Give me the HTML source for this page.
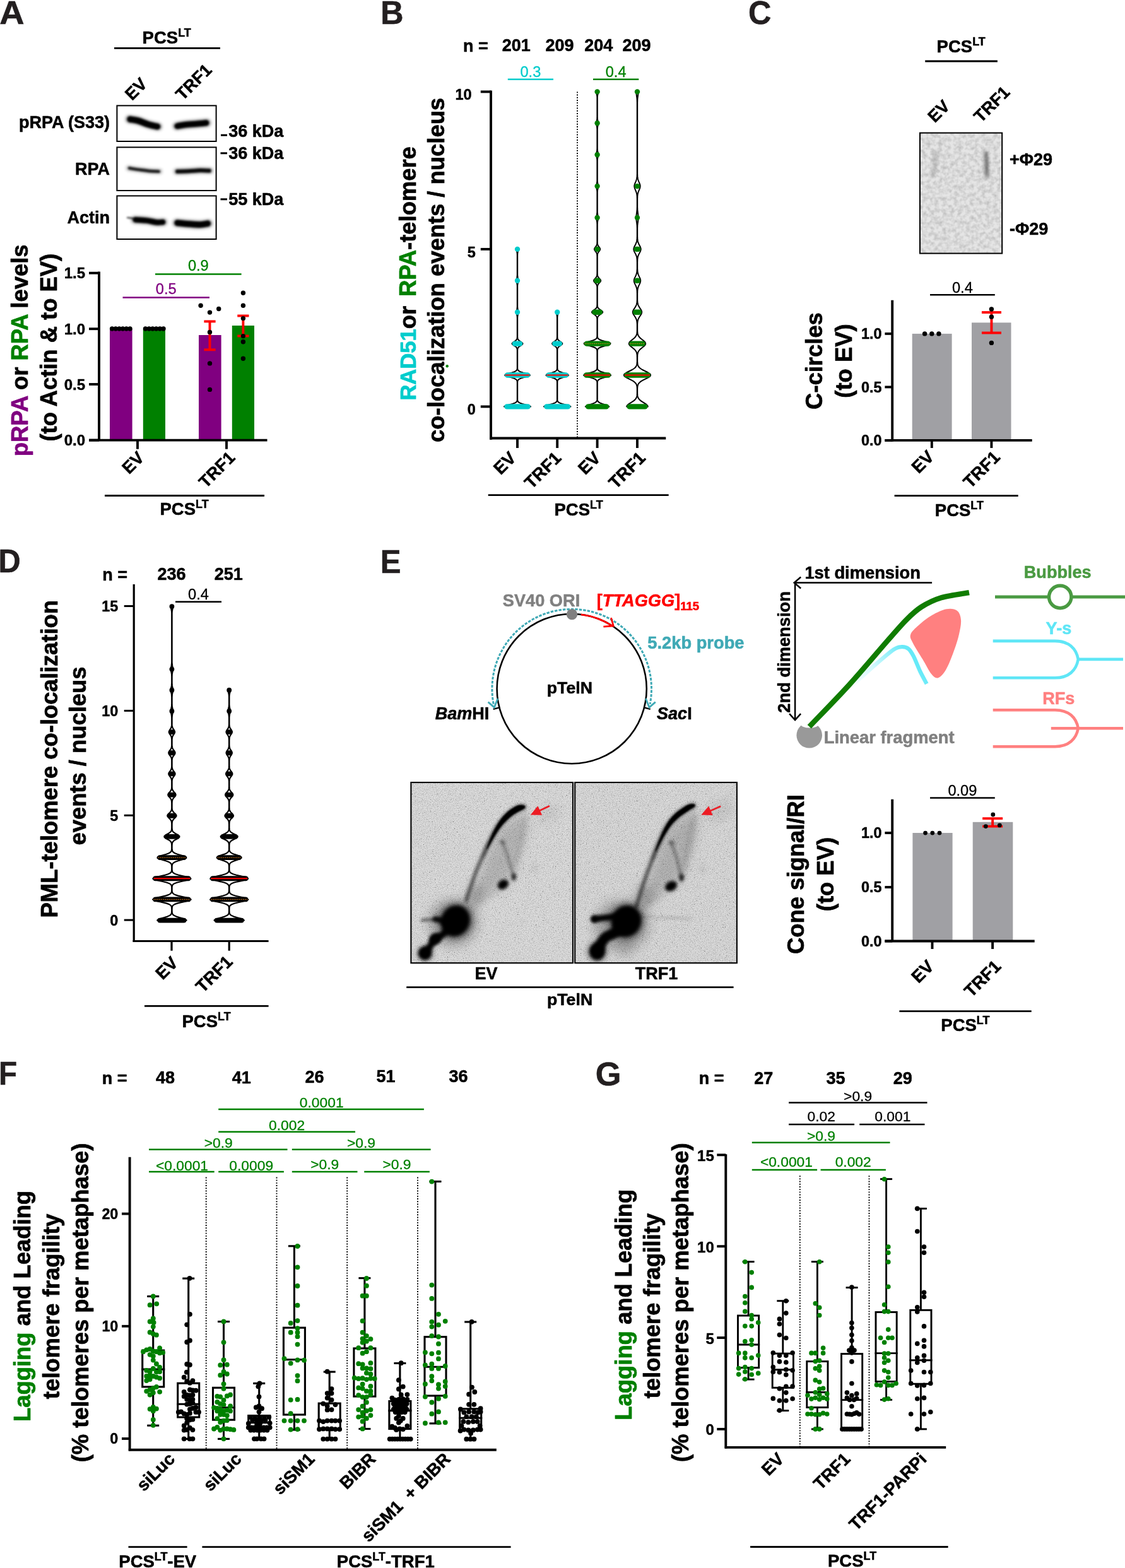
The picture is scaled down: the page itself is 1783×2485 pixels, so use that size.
<!DOCTYPE html>
<html lang="en"><head><meta charset="utf-8"><title>Figure</title>
<style>
html,body{margin:0;padding:0;background:#fff}
svg{display:block}
</style></head><body>
<svg width="1783" height="2485" viewBox="0 0 1783 2485" font-family="'Liberation Sans', sans-serif" font-weight="bold">
<g id="panelA">
<text transform="translate(-0.77 38.20) scale(1.061 1)" font-size="51.3" fill="#231f20" stroke="#231f20" stroke-width="0.6">A</text>
<text x="225.60" y="69.20" font-size="27.5" stroke="#000" stroke-width="0.55" stroke-linejoin="round">PCS<tspan font-size="17.875" dy="-11">LT</tspan></text>
<line x1="181.00" y1="76.40" x2="349.00" y2="76.40" stroke="#000" stroke-width="2.8"/>
<text transform="translate(209.20 160.20) rotate(-45)" font-size="27" stroke="#000" stroke-width="0.54" stroke-linejoin="round">EV</text>
<text transform="translate(289.60 160.30) rotate(-45)" font-size="27" stroke="#000" stroke-width="0.54" stroke-linejoin="round">TRF1</text>
<rect x="185.40" y="167.40" width="157.20" height="56.60" fill="#fff" stroke="#000" stroke-width="2"/>
<rect x="185.40" y="233.40" width="157.20" height="68.60" fill="#fff" stroke="#000" stroke-width="2"/>
<rect x="185.40" y="310.40" width="157.20" height="68.60" fill="#fff" stroke="#000" stroke-width="2"/>
<text x="174.00" y="203.00" font-size="27" text-anchor="end" stroke="#000" stroke-width="0.54" stroke-linejoin="round">pRPA (S33)</text>
<text x="174.00" y="277.00" font-size="27" text-anchor="end" stroke="#000" stroke-width="0.54" stroke-linejoin="round">RPA</text>
<text x="174.00" y="353.50" font-size="27" text-anchor="end" stroke="#000" stroke-width="0.54" stroke-linejoin="round">Actin</text>
<rect x="350.00" y="212.70" width="10.00" height="3.00" fill="#000"/>
<text x="362.30" y="216.50" font-size="27" stroke="#000" stroke-width="0.54" stroke-linejoin="round">36 kDa</text>
<rect x="349.50" y="241.30" width="10.50" height="3.00" fill="#000"/>
<text x="362.30" y="252.00" font-size="27" stroke="#000" stroke-width="0.54" stroke-linejoin="round">36 kDa</text>
<rect x="349.50" y="314.30" width="10.50" height="3.00" fill="#000"/>
<text x="362.30" y="325.00" font-size="27" stroke="#000" stroke-width="0.54" stroke-linejoin="round">55 kDa</text>
<rect x="174.00" y="521.20" width="35.60" height="176.40" fill="#800080"/>
<rect x="226.80" y="521.20" width="35.20" height="176.40" fill="#008000"/>
<rect x="315.00" y="531.00" width="35.60" height="166.60" fill="#800080"/>
<rect x="367.80" y="516.00" width="35.20" height="181.60" fill="#008000"/>
<line x1="157.00" y1="430.50" x2="157.00" y2="699.10" stroke="#000" stroke-width="3.9"/>
<line x1="141.00" y1="697.60" x2="423.50" y2="697.60" stroke="#000" stroke-width="3.9"/>
<line x1="141.00" y1="432.70" x2="157.00" y2="432.70" stroke="#000" stroke-width="3.9"/>
<text x="135.00" y="441.20" font-size="24" text-anchor="end" stroke="#000" stroke-width="0.48" stroke-linejoin="round">1.5</text>
<line x1="141.00" y1="521.20" x2="157.00" y2="521.20" stroke="#000" stroke-width="3.9"/>
<text x="135.00" y="529.70" font-size="24" text-anchor="end" stroke="#000" stroke-width="0.48" stroke-linejoin="round">1.0</text>
<line x1="141.00" y1="609.00" x2="157.00" y2="609.00" stroke="#000" stroke-width="3.9"/>
<text x="135.00" y="617.50" font-size="24" text-anchor="end" stroke="#000" stroke-width="0.48" stroke-linejoin="round">0.5</text>
<line x1="141.00" y1="697.60" x2="157.00" y2="697.60" stroke="#000" stroke-width="3.9"/>
<text x="135.00" y="706.10" font-size="24" text-anchor="end" stroke="#000" stroke-width="0.48" stroke-linejoin="round">0.0</text>
<line x1="218.00" y1="697.60" x2="218.00" y2="711.70" stroke="#000" stroke-width="3.9"/>
<line x1="359.00" y1="697.60" x2="359.00" y2="711.70" stroke="#000" stroke-width="3.9"/>
<text transform="translate(230.00 727.00) rotate(-45)" font-size="27" text-anchor="end" stroke="#000" stroke-width="0.54" stroke-linejoin="round">EV</text>
<text transform="translate(374.00 727.00) rotate(-45)" font-size="27" text-anchor="end" stroke="#000" stroke-width="0.54" stroke-linejoin="round">TRF1</text>
<line x1="166.00" y1="785.50" x2="419.00" y2="785.50" stroke="#000" stroke-width="2.8"/>
<text x="253.50" y="816.00" font-size="27.5" stroke="#000" stroke-width="0.55" stroke-linejoin="round">PCS<tspan font-size="17.875" dy="-11">LT</tspan></text>
<text transform="translate(43.60 555.30) rotate(-90)" font-size="36.4" text-anchor="middle" stroke="#000" stroke-width="0.73" stroke-linejoin="round"><tspan fill="#800080" stroke="#800080">pRPA</tspan> or <tspan fill="#008000" stroke="#008000">RPA</tspan> levels</text>
<text transform="translate(89.50 550.70) rotate(-90)" font-size="36.4" text-anchor="middle" stroke="#000" stroke-width="0.73" stroke-linejoin="round"><tspan>(to Actin &amp; to EV)</tspan></text>
<line x1="246.00" y1="434.50" x2="382.60" y2="434.50" stroke="#008000" stroke-width="2.5"/>
<text x="314.30" y="429.20" font-size="23.6" text-anchor="middle" font-weight="normal" fill="#008000" stroke="#008000" stroke-width="0.3">0.9</text>
<line x1="194.50" y1="471.60" x2="332.00" y2="471.60" stroke="#800080" stroke-width="2.5"/>
<text x="263.25" y="466.10" font-size="23.6" text-anchor="middle" font-weight="normal" fill="#800080" stroke="#800080" stroke-width="0.3">0.5</text>
<line x1="332.51" y1="509.41" x2="332.51" y2="554.27" stroke="#ff0000" stroke-width="3.9"/>
<line x1="323.41" y1="509.41" x2="341.61" y2="509.41" stroke="#ff0000" stroke-width="3.9"/>
<line x1="323.41" y1="554.27" x2="341.61" y2="554.27" stroke="#ff0000" stroke-width="3.9"/>
<line x1="385.37" y1="500.49" x2="385.37" y2="532.45" stroke="#ff0000" stroke-width="3.9"/>
<line x1="376.27" y1="500.49" x2="394.47" y2="500.49" stroke="#ff0000" stroke-width="3.9"/>
<line x1="376.27" y1="532.45" x2="394.47" y2="532.45" stroke="#ff0000" stroke-width="3.9"/>
<g fill="#000"><circle cx="177.6" cy="521.0" r="3.7"/><circle cx="183.3" cy="521.0" r="3.7"/><circle cx="189.0" cy="521.0" r="3.7"/><circle cx="194.6" cy="521.0" r="3.7"/><circle cx="200.3" cy="521.0" r="3.7"/><circle cx="206.0" cy="521.0" r="3.7"/><circle cx="230.5" cy="521.0" r="3.7"/><circle cx="236.2" cy="521.0" r="3.7"/><circle cx="241.9" cy="521.0" r="3.7"/><circle cx="247.6" cy="521.0" r="3.7"/><circle cx="253.3" cy="521.0" r="3.7"/><circle cx="259.0" cy="521.0" r="3.7"/><circle cx="318.1" cy="484.3" r="3.7"/><circle cx="332.5" cy="495.1" r="3.7"/><circle cx="346.7" cy="489.5" r="3.7"/><circle cx="332.5" cy="526.4" r="3.7"/><circle cx="332.5" cy="575.9" r="3.7"/><circle cx="332.5" cy="617.4" r="3.7"/><circle cx="385.4" cy="464.3" r="3.7"/><circle cx="385.4" cy="484.3" r="3.7"/><circle cx="385.4" cy="504.6" r="3.7"/><circle cx="385.4" cy="532.6" r="3.7"/><circle cx="385.4" cy="541.8" r="3.7"/><circle cx="385.4" cy="568.2" r="3.7"/></g>
</g>
<g id="panelB">
<text transform="translate(603.15 38.20) scale(0.979 1)" font-size="51.3" fill="#231f20" stroke="#231f20" stroke-width="0.6">B</text>
<text x="734.00" y="81.50" font-size="27" stroke="#000" stroke-width="0.54" stroke-linejoin="round">n =</text>
<text x="818.30" y="81.00" font-size="27" text-anchor="middle" stroke="#000" stroke-width="0.54" stroke-linejoin="round">201</text>
<text x="887.00" y="81.00" font-size="27" text-anchor="middle" stroke="#000" stroke-width="0.54" stroke-linejoin="round">209</text>
<text x="948.80" y="81.00" font-size="27" text-anchor="middle" stroke="#000" stroke-width="0.54" stroke-linejoin="round">204</text>
<text x="1009.00" y="81.00" font-size="27" text-anchor="middle" stroke="#000" stroke-width="0.54" stroke-linejoin="round">209</text>
<line x1="804.80" y1="125.80" x2="877.00" y2="125.80" stroke="#00cccc" stroke-width="2.5"/>
<text x="840.90" y="121.80" font-size="23.6" text-anchor="middle" font-weight="normal" fill="#00cccc" stroke="#00cccc" stroke-width="0.3">0.3</text>
<line x1="940.00" y1="125.80" x2="1012.30" y2="125.80" stroke="#008000" stroke-width="2.5"/>
<text x="976.15" y="121.80" font-size="23.6" text-anchor="middle" font-weight="normal" fill="#008000" stroke="#008000" stroke-width="0.3">0.4</text>
<line x1="915.00" y1="145.40" x2="915.00" y2="693.00" stroke="#000" stroke-width="1.9" stroke-dasharray="1.9 2.3"/>
<path d="M818.3 394.9 L818.5 396.4 L818.9 397.9 L819.3 399.4 L819.6 400.9 L819.7 402.4 L819.8 403.9 L819.8 405.4 L819.8 406.9 L819.8 408.3 L819.8 409.8 L819.8 411.3 L819.8 412.8 L819.8 414.3 L819.8 415.8 L819.8 417.3 L819.8 418.8 L819.8 420.3 L819.8 421.8 L819.8 423.3 L819.8 424.8 L819.8 426.3 L819.8 427.8 L819.8 429.3 L819.8 430.8 L819.8 432.3 L819.8 433.7 L819.8 435.2 L819.7 436.7 L819.6 438.2 L819.4 439.7 L819.0 441.2 L818.6 442.7 L818.3 444.2 L818.4 445.7 L818.7 447.2 L819.1 448.7 L819.5 450.2 L819.7 451.7 L819.8 453.2 L819.8 454.7 L819.8 456.2 L819.8 457.6 L819.8 459.1 L819.8 460.6 L819.8 462.1 L819.8 463.6 L819.8 465.1 L819.8 466.6 L819.8 468.1 L819.8 469.6 L819.8 471.1 L819.8 472.6 L819.8 474.1 L819.8 475.6 L819.8 477.1 L819.8 478.6 L819.8 480.1 L819.8 481.6 L819.8 483.0 L819.8 484.5 L819.8 486.0 L819.7 487.5 L819.5 489.0 L819.2 490.5 L818.8 492.0 L818.4 493.5 L818.3 495.0 L818.5 496.5 L818.9 498.0 L819.3 499.5 L819.6 501.0 L819.7 502.5 L819.8 504.0 L819.8 505.5 L819.8 507.0 L819.8 508.4 L819.8 509.9 L819.8 511.4 L819.8 512.9 L819.8 514.4 L819.8 515.9 L819.8 517.4 L819.8 518.9 L819.8 520.4 L819.8 521.9 L819.8 523.4 L819.8 524.9 L819.8 526.4 L819.8 527.9 L819.8 529.4 L819.8 530.9 L819.8 532.3 L819.8 533.8 L819.7 535.3 L819.4 536.8 L818.7 538.3 L817.3 539.8 L815.1 541.3 L812.8 542.8 L811.5 544.3 L812.1 545.8 L814.1 547.3 L816.5 548.8 L818.3 550.3 L819.2 551.8 L819.6 553.3 L819.8 554.8 L819.8 556.3 L819.8 557.7 L819.8 559.2 L819.8 560.7 L819.8 562.2 L819.8 563.7 L819.8 565.2 L819.8 566.7 L819.8 568.2 L819.8 569.7 L819.8 571.2 L819.8 572.7 L819.8 574.2 L819.8 575.7 L819.8 577.2 L819.8 578.7 L819.8 580.2 L819.8 581.7 L819.8 583.1 L819.7 584.6 L819.3 586.1 L818.1 587.6 L815.4 589.1 L810.7 590.6 L804.9 592.1 L800.6 593.6 L800.2 595.1 L803.9 596.6 L809.6 598.1 L814.6 599.6 L817.7 601.1 L819.1 602.6 L819.6 604.1 L819.8 605.6 L819.8 607.0 L819.8 608.5 L819.8 610.0 L819.8 611.5 L819.8 613.0 L819.8 614.5 L819.8 616.0 L819.8 617.5 L819.8 619.0 L819.8 620.5 L819.8 622.0 L819.8 623.5 L819.8 625.0 L819.8 626.5 L819.8 628.0 L819.8 629.5 L819.8 631.0 L819.8 632.4 L819.7 633.9 L819.5 635.4 L818.7 636.9 L816.6 638.4 L812.5 639.9 L806.7 641.4 L801.3 642.9 L799.0 644.4 L841.0 644.4 L838.7 642.9 L833.3 641.4 L827.5 639.9 L823.4 638.4 L821.3 636.9 L820.5 635.4 L820.3 633.9 L820.2 632.4 L820.2 631.0 L820.2 629.5 L820.2 628.0 L820.2 626.5 L820.2 625.0 L820.2 623.5 L820.2 622.0 L820.2 620.5 L820.2 619.0 L820.2 617.5 L820.2 616.0 L820.2 614.5 L820.2 613.0 L820.2 611.5 L820.2 610.0 L820.2 608.5 L820.2 607.0 L820.2 605.6 L820.4 604.1 L820.9 602.6 L822.3 601.1 L825.4 599.6 L830.4 598.1 L836.1 596.6 L839.8 595.1 L839.4 593.6 L835.1 592.1 L829.3 590.6 L824.6 589.1 L821.9 587.6 L820.7 586.1 L820.3 584.6 L820.2 583.1 L820.2 581.7 L820.2 580.2 L820.2 578.7 L820.2 577.2 L820.2 575.7 L820.2 574.2 L820.2 572.7 L820.2 571.2 L820.2 569.7 L820.2 568.2 L820.2 566.7 L820.2 565.2 L820.2 563.7 L820.2 562.2 L820.2 560.7 L820.2 559.2 L820.2 557.7 L820.2 556.3 L820.2 554.8 L820.4 553.3 L820.8 551.8 L821.7 550.3 L823.5 548.8 L825.9 547.3 L827.9 545.8 L828.5 544.3 L827.2 542.8 L824.9 541.3 L822.7 539.8 L821.3 538.3 L820.6 536.8 L820.3 535.3 L820.2 533.8 L820.2 532.3 L820.2 530.9 L820.2 529.4 L820.2 527.9 L820.2 526.4 L820.2 524.9 L820.2 523.4 L820.2 521.9 L820.2 520.4 L820.2 518.9 L820.2 517.4 L820.2 515.9 L820.2 514.4 L820.2 512.9 L820.2 511.4 L820.2 509.9 L820.2 508.4 L820.2 507.0 L820.2 505.5 L820.2 504.0 L820.3 502.5 L820.4 501.0 L820.7 499.5 L821.1 498.0 L821.5 496.5 L821.7 495.0 L821.6 493.5 L821.2 492.0 L820.8 490.5 L820.5 489.0 L820.3 487.5 L820.2 486.0 L820.2 484.5 L820.2 483.0 L820.2 481.6 L820.2 480.1 L820.2 478.6 L820.2 477.1 L820.2 475.6 L820.2 474.1 L820.2 472.6 L820.2 471.1 L820.2 469.6 L820.2 468.1 L820.2 466.6 L820.2 465.1 L820.2 463.6 L820.2 462.1 L820.2 460.6 L820.2 459.1 L820.2 457.6 L820.2 456.2 L820.2 454.7 L820.2 453.2 L820.3 451.7 L820.5 450.2 L820.9 448.7 L821.3 447.2 L821.6 445.7 L821.7 444.2 L821.4 442.7 L821.0 441.2 L820.6 439.7 L820.4 438.2 L820.3 436.7 L820.2 435.2 L820.2 433.7 L820.2 432.3 L820.2 430.8 L820.2 429.3 L820.2 427.8 L820.2 426.3 L820.2 424.8 L820.2 423.3 L820.2 421.8 L820.2 420.3 L820.2 418.8 L820.2 417.3 L820.2 415.8 L820.2 414.3 L820.2 412.8 L820.2 411.3 L820.2 409.8 L820.2 408.3 L820.2 406.9 L820.2 405.4 L820.2 403.9 L820.3 402.4 L820.4 400.9 L820.7 399.4 L821.1 397.9 L821.5 396.4 L821.7 394.9Z" fill="#fff" stroke="#000" stroke-width="2" stroke-linejoin="round"/>
<line x1="803.40" y1="644.40" x2="836.60" y2="644.40" stroke="#00cccc" stroke-width="8.4" stroke-linecap="round"/>
<line x1="804.20" y1="594.50" x2="835.80" y2="594.50" stroke="#00cccc" stroke-width="8.4" stroke-linecap="round"/>
<line x1="815.90" y1="544.60" x2="824.10" y2="544.60" stroke="#00cccc" stroke-width="8.4" stroke-linecap="round"/>
<circle cx="820.00" cy="494.70" r="4.2" fill="#00cccc"/>
<circle cx="820.00" cy="444.80" r="4.2" fill="#00cccc"/>
<circle cx="820.00" cy="394.90" r="4.2" fill="#00cccc"/>
<line x1="801.00" y1="594.50" x2="839.00" y2="594.50" stroke="#ff0000" stroke-width="1.8"/>
<path d="M881.5 494.7 L881.7 496.2 L882.1 497.7 L882.5 499.2 L882.8 500.7 L882.9 502.2 L883.0 503.7 L883.0 505.2 L883.0 506.7 L883.0 508.2 L883.0 509.7 L883.0 511.2 L883.0 512.7 L883.0 514.2 L883.0 515.7 L883.0 517.2 L883.0 518.7 L883.0 520.1 L883.0 521.6 L883.0 523.1 L883.0 524.6 L883.0 526.1 L883.0 527.6 L883.0 529.1 L883.0 530.6 L883.0 532.1 L883.0 533.6 L882.9 535.1 L882.7 536.6 L882.1 538.1 L880.8 539.6 L878.8 541.1 L876.5 542.6 L875.1 544.1 L875.4 545.6 L877.2 547.1 L879.5 548.6 L881.3 550.1 L882.4 551.6 L882.8 553.1 L883.0 554.6 L883.0 556.1 L883.0 557.6 L883.0 559.1 L883.0 560.6 L883.0 562.1 L883.0 563.6 L883.0 565.1 L883.0 566.6 L883.0 568.1 L883.0 569.5 L883.0 571.0 L883.0 572.5 L883.0 574.0 L883.0 575.5 L883.0 577.0 L883.0 578.5 L883.0 580.0 L883.0 581.5 L883.0 583.0 L882.9 584.5 L882.6 586.0 L881.6 587.5 L879.3 589.0 L875.3 590.5 L870.2 592.0 L866.2 593.5 L865.5 595.0 L868.6 596.5 L873.6 598.0 L878.2 599.5 L881.0 601.0 L882.4 602.5 L882.8 604.0 L883.0 605.5 L883.0 607.0 L883.0 608.5 L883.0 610.0 L883.0 611.5 L883.0 613.0 L883.0 614.5 L883.0 616.0 L883.0 617.5 L883.0 619.0 L883.0 620.4 L883.0 621.9 L883.0 623.4 L883.0 624.9 L883.0 626.4 L883.0 627.9 L883.0 629.4 L883.0 630.9 L883.0 632.4 L882.9 633.9 L882.7 635.4 L881.9 636.9 L879.8 638.4 L875.7 639.9 L869.8 641.4 L864.3 642.9 L862.0 644.4 L904.4 644.4 L902.1 642.9 L896.6 641.4 L890.7 639.9 L886.6 638.4 L884.5 636.9 L883.7 635.4 L883.5 633.9 L883.4 632.4 L883.4 630.9 L883.4 629.4 L883.4 627.9 L883.4 626.4 L883.4 624.9 L883.4 623.4 L883.4 621.9 L883.4 620.4 L883.4 619.0 L883.4 617.5 L883.4 616.0 L883.4 614.5 L883.4 613.0 L883.4 611.5 L883.4 610.0 L883.4 608.5 L883.4 607.0 L883.4 605.5 L883.6 604.0 L884.0 602.5 L885.4 601.0 L888.2 599.5 L892.8 598.0 L897.8 596.5 L900.9 595.0 L900.2 593.5 L896.2 592.0 L891.1 590.5 L887.1 589.0 L884.8 587.5 L883.8 586.0 L883.5 584.5 L883.4 583.0 L883.4 581.5 L883.4 580.0 L883.4 578.5 L883.4 577.0 L883.4 575.5 L883.4 574.0 L883.4 572.5 L883.4 571.0 L883.4 569.5 L883.4 568.1 L883.4 566.6 L883.4 565.1 L883.4 563.6 L883.4 562.1 L883.4 560.6 L883.4 559.1 L883.4 557.6 L883.4 556.1 L883.4 554.6 L883.6 553.1 L884.0 551.6 L885.1 550.1 L886.9 548.6 L889.2 547.1 L891.0 545.6 L891.3 544.1 L889.9 542.6 L887.6 541.1 L885.6 539.6 L884.3 538.1 L883.7 536.6 L883.5 535.1 L883.4 533.6 L883.4 532.1 L883.4 530.6 L883.4 529.1 L883.4 527.6 L883.4 526.1 L883.4 524.6 L883.4 523.1 L883.4 521.6 L883.4 520.1 L883.4 518.7 L883.4 517.2 L883.4 515.7 L883.4 514.2 L883.4 512.7 L883.4 511.2 L883.4 509.7 L883.4 508.2 L883.4 506.7 L883.4 505.2 L883.4 503.7 L883.5 502.2 L883.6 500.7 L883.9 499.2 L884.3 497.7 L884.7 496.2 L884.9 494.7Z" fill="#fff" stroke="#000" stroke-width="2" stroke-linejoin="round"/>
<line x1="866.40" y1="644.40" x2="900.00" y2="644.40" stroke="#00cccc" stroke-width="8.4" stroke-linecap="round"/>
<line x1="869.70" y1="594.50" x2="896.70" y2="594.50" stroke="#00cccc" stroke-width="8.4" stroke-linecap="round"/>
<line x1="879.40" y1="544.60" x2="887.00" y2="544.60" stroke="#00cccc" stroke-width="8.4" stroke-linecap="round"/>
<circle cx="883.20" cy="494.70" r="4.2" fill="#00cccc"/>
<line x1="866.50" y1="594.50" x2="899.90" y2="594.50" stroke="#ff0000" stroke-width="1.8"/>
<path d="M944.9 145.4 L945.0 146.9 L945.4 148.4 L945.8 149.9 L946.1 151.4 L946.3 152.9 L946.4 154.4 L946.4 155.9 L946.4 157.4 L946.4 158.9 L946.4 160.4 L946.4 161.9 L946.4 163.4 L946.4 164.9 L946.4 166.4 L946.4 167.9 L946.4 169.4 L946.4 170.9 L946.4 172.4 L946.4 173.9 L946.4 175.4 L946.4 176.9 L946.4 178.4 L946.4 179.9 L946.4 181.4 L946.4 182.9 L946.4 184.4 L946.4 185.9 L946.3 187.4 L946.2 188.9 L945.9 190.4 L945.5 191.9 L945.1 193.4 L944.9 194.9 L945.0 196.3 L945.3 197.8 L945.7 199.3 L946.0 200.8 L946.2 202.3 L946.3 203.8 L946.4 205.3 L946.4 206.8 L946.4 208.3 L946.4 209.8 L946.4 211.3 L946.4 212.8 L946.4 214.3 L946.4 215.8 L946.4 217.3 L946.4 218.8 L946.4 220.3 L946.4 221.8 L946.4 223.3 L946.4 224.8 L946.4 226.3 L946.4 227.8 L946.4 229.3 L946.4 230.8 L946.4 232.3 L946.4 233.8 L946.4 235.3 L946.3 236.8 L946.2 238.3 L946.0 239.8 L945.6 241.3 L945.2 242.8 L945.0 244.3 L944.9 245.8 L945.2 247.3 L945.6 248.8 L945.9 250.3 L946.2 251.8 L946.3 253.3 L946.4 254.8 L946.4 256.3 L946.4 257.8 L946.4 259.3 L946.4 260.8 L946.4 262.3 L946.4 263.8 L946.4 265.3 L946.4 266.8 L946.4 268.3 L946.4 269.8 L946.4 271.3 L946.4 272.8 L946.4 274.3 L946.4 275.8 L946.4 277.3 L946.4 278.8 L946.4 280.3 L946.4 281.8 L946.4 283.3 L946.4 284.8 L946.4 286.3 L946.3 287.8 L946.1 289.3 L945.8 290.8 L945.4 292.3 L945.0 293.8 L944.9 295.2 L945.1 296.7 L945.4 298.2 L945.8 299.7 L946.1 301.2 L946.3 302.7 L946.4 304.2 L946.4 305.7 L946.4 307.2 L946.4 308.7 L946.4 310.2 L946.4 311.7 L946.4 313.2 L946.4 314.7 L946.4 316.2 L946.4 317.7 L946.4 319.2 L946.4 320.7 L946.4 322.2 L946.4 323.7 L946.4 325.2 L946.4 326.7 L946.4 328.2 L946.4 329.7 L946.4 331.2 L946.4 332.7 L946.4 334.2 L946.4 335.7 L946.3 337.2 L946.1 338.7 L945.9 340.2 L945.5 341.7 L945.1 343.2 L944.9 344.7 L945.0 346.2 L945.3 347.7 L945.7 349.2 L946.0 350.7 L946.2 352.2 L946.3 353.7 L946.4 355.2 L946.4 356.7 L946.4 358.2 L946.4 359.7 L946.4 361.2 L946.4 362.7 L946.4 364.2 L946.4 365.7 L946.4 367.2 L946.4 368.7 L946.4 370.2 L946.4 371.7 L946.4 373.2 L946.4 374.7 L946.4 376.2 L946.4 377.7 L946.4 379.2 L946.4 380.7 L946.4 382.2 L946.4 383.7 L946.3 385.2 L946.2 386.7 L945.8 388.2 L945.1 389.7 L944.0 391.2 L942.8 392.7 L942.0 394.2 L942.0 395.6 L942.8 397.1 L944.0 398.6 L945.1 400.1 L945.8 401.6 L946.2 403.1 L946.3 404.6 L946.4 406.1 L946.4 407.6 L946.4 409.1 L946.4 410.6 L946.4 412.1 L946.4 413.6 L946.4 415.1 L946.4 416.6 L946.4 418.1 L946.4 419.6 L946.4 421.1 L946.4 422.6 L946.4 424.1 L946.4 425.6 L946.4 427.1 L946.4 428.6 L946.4 430.1 L946.4 431.6 L946.4 433.1 L946.3 434.6 L946.2 436.1 L945.9 437.6 L945.1 439.1 L943.9 440.6 L942.5 442.1 L941.3 443.6 L941.0 445.1 L941.7 446.6 L943.1 448.1 L944.5 449.6 L945.5 451.1 L946.0 452.6 L946.3 454.1 L946.4 455.6 L946.4 457.1 L946.4 458.6 L946.4 460.1 L946.4 461.6 L946.4 463.1 L946.4 464.6 L946.4 466.1 L946.4 467.6 L946.4 469.1 L946.4 470.6 L946.4 472.1 L946.4 473.6 L946.4 475.1 L946.4 476.6 L946.4 478.1 L946.4 479.6 L946.4 481.1 L946.4 482.6 L946.3 484.1 L946.2 485.6 L945.8 487.1 L944.8 488.6 L943.1 490.1 L940.9 491.6 L938.9 493.1 L937.9 494.6 L938.6 496.0 L940.5 497.5 L942.7 499.0 L944.5 500.5 L945.6 502.0 L946.1 503.5 L946.3 505.0 L946.4 506.5 L946.4 508.0 L946.4 509.5 L946.4 511.0 L946.4 512.5 L946.4 514.0 L946.4 515.5 L946.4 517.0 L946.4 518.5 L946.4 520.0 L946.4 521.5 L946.4 523.0 L946.4 524.5 L946.4 526.0 L946.4 527.5 L946.4 529.0 L946.4 530.5 L946.4 532.0 L946.3 533.5 L946.0 535.0 L945.3 536.5 L943.3 538.0 L939.8 539.5 L934.6 541.0 L929.1 542.5 L925.7 544.0 L926.1 545.5 L930.1 547.0 L935.7 548.5 L940.6 550.0 L943.9 551.5 L945.5 553.0 L946.1 554.5 L946.3 556.0 L946.4 557.5 L946.4 559.0 L946.4 560.5 L946.4 562.0 L946.4 563.5 L946.4 565.0 L946.4 566.5 L946.4 568.0 L946.4 569.5 L946.4 571.0 L946.4 572.5 L946.4 574.0 L946.4 575.5 L946.4 577.0 L946.4 578.5 L946.4 580.0 L946.4 581.5 L946.3 583.0 L946.2 584.5 L945.6 586.0 L944.0 587.5 L940.9 589.0 L936.0 590.5 L930.3 592.0 L925.9 593.5 L925.1 594.9 L928.2 596.4 L933.7 597.9 L939.1 599.4 L943.0 600.9 L945.1 602.4 L946.0 603.9 L946.3 605.4 L946.4 606.9 L946.4 608.4 L946.4 609.9 L946.4 611.4 L946.4 612.9 L946.4 614.4 L946.4 615.9 L946.4 617.4 L946.4 618.9 L946.4 620.4 L946.4 621.9 L946.4 623.4 L946.4 624.9 L946.4 626.4 L946.4 627.9 L946.4 629.4 L946.4 630.9 L946.4 632.4 L946.3 633.9 L945.9 635.4 L944.9 636.9 L942.6 638.4 L938.8 639.9 L933.9 641.4 L929.6 642.9 L927.8 644.4 L965.4 644.4 L963.6 642.9 L959.3 641.4 L954.4 639.9 L950.6 638.4 L948.3 636.9 L947.3 635.4 L946.9 633.9 L946.8 632.4 L946.8 630.9 L946.8 629.4 L946.8 627.9 L946.8 626.4 L946.8 624.9 L946.8 623.4 L946.8 621.9 L946.8 620.4 L946.8 618.9 L946.8 617.4 L946.8 615.9 L946.8 614.4 L946.8 612.9 L946.8 611.4 L946.8 609.9 L946.8 608.4 L946.8 606.9 L946.9 605.4 L947.2 603.9 L948.1 602.4 L950.2 600.9 L954.1 599.4 L959.5 597.9 L965.0 596.4 L968.1 594.9 L967.3 593.5 L962.9 592.0 L957.2 590.5 L952.3 589.0 L949.2 587.5 L947.6 586.0 L947.0 584.5 L946.9 583.0 L946.8 581.5 L946.8 580.0 L946.8 578.5 L946.8 577.0 L946.8 575.5 L946.8 574.0 L946.8 572.5 L946.8 571.0 L946.8 569.5 L946.8 568.0 L946.8 566.5 L946.8 565.0 L946.8 563.5 L946.8 562.0 L946.8 560.5 L946.8 559.0 L946.8 557.5 L946.9 556.0 L947.1 554.5 L947.7 553.0 L949.3 551.5 L952.6 550.0 L957.5 548.5 L963.1 547.0 L967.1 545.5 L967.5 544.0 L964.1 542.5 L958.6 541.0 L953.4 539.5 L949.9 538.0 L947.9 536.5 L947.2 535.0 L946.9 533.5 L946.8 532.0 L946.8 530.5 L946.8 529.0 L946.8 527.5 L946.8 526.0 L946.8 524.5 L946.8 523.0 L946.8 521.5 L946.8 520.0 L946.8 518.5 L946.8 517.0 L946.8 515.5 L946.8 514.0 L946.8 512.5 L946.8 511.0 L946.8 509.5 L946.8 508.0 L946.8 506.5 L946.9 505.0 L947.1 503.5 L947.6 502.0 L948.7 500.5 L950.5 499.0 L952.7 497.5 L954.6 496.0 L955.3 494.6 L954.3 493.1 L952.3 491.6 L950.1 490.1 L948.4 488.6 L947.4 487.1 L947.0 485.6 L946.9 484.1 L946.8 482.6 L946.8 481.1 L946.8 479.6 L946.8 478.1 L946.8 476.6 L946.8 475.1 L946.8 473.6 L946.8 472.1 L946.8 470.6 L946.8 469.1 L946.8 467.6 L946.8 466.1 L946.8 464.6 L946.8 463.1 L946.8 461.6 L946.8 460.1 L946.8 458.6 L946.8 457.1 L946.8 455.6 L946.9 454.1 L947.2 452.6 L947.7 451.1 L948.7 449.6 L950.1 448.1 L951.5 446.6 L952.2 445.1 L951.9 443.6 L950.7 442.1 L949.3 440.6 L948.1 439.1 L947.3 437.6 L947.0 436.1 L946.9 434.6 L946.8 433.1 L946.8 431.6 L946.8 430.1 L946.8 428.6 L946.8 427.1 L946.8 425.6 L946.8 424.1 L946.8 422.6 L946.8 421.1 L946.8 419.6 L946.8 418.1 L946.8 416.6 L946.8 415.1 L946.8 413.6 L946.8 412.1 L946.8 410.6 L946.8 409.1 L946.8 407.6 L946.8 406.1 L946.9 404.6 L947.0 403.1 L947.4 401.6 L948.1 400.1 L949.2 398.6 L950.4 397.1 L951.2 395.6 L951.2 394.2 L950.4 392.7 L949.2 391.2 L948.1 389.7 L947.4 388.2 L947.0 386.7 L946.9 385.2 L946.8 383.7 L946.8 382.2 L946.8 380.7 L946.8 379.2 L946.8 377.7 L946.8 376.2 L946.8 374.7 L946.8 373.2 L946.8 371.7 L946.8 370.2 L946.8 368.7 L946.8 367.2 L946.8 365.7 L946.8 364.2 L946.8 362.7 L946.8 361.2 L946.8 359.7 L946.8 358.2 L946.8 356.7 L946.8 355.2 L946.9 353.7 L947.0 352.2 L947.2 350.7 L947.5 349.2 L947.9 347.7 L948.2 346.2 L948.3 344.7 L948.1 343.2 L947.7 341.7 L947.3 340.2 L947.1 338.7 L946.9 337.2 L946.8 335.7 L946.8 334.2 L946.8 332.7 L946.8 331.2 L946.8 329.7 L946.8 328.2 L946.8 326.7 L946.8 325.2 L946.8 323.7 L946.8 322.2 L946.8 320.7 L946.8 319.2 L946.8 317.7 L946.8 316.2 L946.8 314.7 L946.8 313.2 L946.8 311.7 L946.8 310.2 L946.8 308.7 L946.8 307.2 L946.8 305.7 L946.8 304.2 L946.9 302.7 L947.1 301.2 L947.4 299.7 L947.8 298.2 L948.1 296.7 L948.3 295.2 L948.2 293.8 L947.8 292.3 L947.4 290.8 L947.1 289.3 L946.9 287.8 L946.8 286.3 L946.8 284.8 L946.8 283.3 L946.8 281.8 L946.8 280.3 L946.8 278.8 L946.8 277.3 L946.8 275.8 L946.8 274.3 L946.8 272.8 L946.8 271.3 L946.8 269.8 L946.8 268.3 L946.8 266.8 L946.8 265.3 L946.8 263.8 L946.8 262.3 L946.8 260.8 L946.8 259.3 L946.8 257.8 L946.8 256.3 L946.8 254.8 L946.9 253.3 L947.0 251.8 L947.3 250.3 L947.6 248.8 L948.0 247.3 L948.3 245.8 L948.2 244.3 L948.0 242.8 L947.6 241.3 L947.2 239.8 L947.0 238.3 L946.9 236.8 L946.8 235.3 L946.8 233.8 L946.8 232.3 L946.8 230.8 L946.8 229.3 L946.8 227.8 L946.8 226.3 L946.8 224.8 L946.8 223.3 L946.8 221.8 L946.8 220.3 L946.8 218.8 L946.8 217.3 L946.8 215.8 L946.8 214.3 L946.8 212.8 L946.8 211.3 L946.8 209.8 L946.8 208.3 L946.8 206.8 L946.8 205.3 L946.9 203.8 L947.0 202.3 L947.2 200.8 L947.5 199.3 L947.9 197.8 L948.2 196.3 L948.3 194.9 L948.1 193.4 L947.7 191.9 L947.3 190.4 L947.0 188.9 L946.9 187.4 L946.8 185.9 L946.8 184.4 L946.8 182.9 L946.8 181.4 L946.8 179.9 L946.8 178.4 L946.8 176.9 L946.8 175.4 L946.8 173.9 L946.8 172.4 L946.8 170.9 L946.8 169.4 L946.8 167.9 L946.8 166.4 L946.8 164.9 L946.8 163.4 L946.8 161.9 L946.8 160.4 L946.8 158.9 L946.8 157.4 L946.8 155.9 L946.8 154.4 L946.9 152.9 L947.1 151.4 L947.4 149.9 L947.8 148.4 L948.2 146.9 L948.3 145.4Z" fill="#fff" stroke="#000" stroke-width="2" stroke-linejoin="round"/>
<line x1="932.20" y1="644.40" x2="961.00" y2="644.40" stroke="#008000" stroke-width="8.4" stroke-linecap="round"/>
<line x1="929.30" y1="594.50" x2="963.90" y2="594.50" stroke="#008000" stroke-width="8.4" stroke-linecap="round"/>
<line x1="929.80" y1="544.60" x2="963.40" y2="544.60" stroke="#008000" stroke-width="8.4" stroke-linecap="round"/>
<line x1="942.30" y1="494.70" x2="950.90" y2="494.70" stroke="#008000" stroke-width="8.4" stroke-linecap="round"/>
<line x1="945.40" y1="444.80" x2="947.80" y2="444.80" stroke="#008000" stroke-width="8.4" stroke-linecap="round"/>
<line x1="946.30" y1="394.90" x2="946.90" y2="394.90" stroke="#008000" stroke-width="8.4" stroke-linecap="round"/>
<circle cx="946.60" cy="345.00" r="4.2" fill="#008000"/>
<circle cx="946.60" cy="295.10" r="4.2" fill="#008000"/>
<circle cx="946.60" cy="245.20" r="4.2" fill="#008000"/>
<circle cx="946.60" cy="195.30" r="4.2" fill="#008000"/>
<circle cx="946.60" cy="145.40" r="4.2" fill="#008000"/>
<line x1="926.10" y1="594.50" x2="967.10" y2="594.50" stroke="#ff0000" stroke-width="1.8"/>
<line x1="926.60" y1="544.60" x2="966.60" y2="544.60" stroke="#e08020" stroke-width="1.3" stroke-dasharray="1.5 1.5"/>
<path d="M1008.3 145.4 L1008.3 146.9 L1008.5 148.4 L1008.7 149.9 L1008.9 151.4 L1009.1 152.9 L1009.3 154.4 L1009.5 155.9 L1009.6 157.4 L1009.7 158.9 L1009.7 160.4 L1009.8 161.9 L1009.8 163.4 L1009.8 164.9 L1009.8 166.4 L1009.8 167.9 L1009.8 169.4 L1009.8 170.9 L1009.8 172.4 L1009.8 173.9 L1009.8 175.4 L1009.8 176.9 L1009.8 178.4 L1009.8 179.9 L1009.8 181.4 L1009.8 182.9 L1009.8 184.4 L1009.8 185.9 L1009.8 187.4 L1009.8 188.9 L1009.8 190.4 L1009.8 191.9 L1009.8 193.4 L1009.8 194.9 L1009.8 196.3 L1009.8 197.8 L1009.8 199.3 L1009.8 200.8 L1009.8 202.3 L1009.8 203.8 L1009.8 205.3 L1009.8 206.8 L1009.8 208.3 L1009.8 209.8 L1009.8 211.3 L1009.8 212.8 L1009.8 214.3 L1009.8 215.8 L1009.8 217.3 L1009.8 218.8 L1009.8 220.3 L1009.8 221.8 L1009.8 223.3 L1009.8 224.8 L1009.8 226.3 L1009.8 227.8 L1009.8 229.3 L1009.8 230.8 L1009.8 232.3 L1009.8 233.8 L1009.8 235.3 L1009.8 236.8 L1009.8 238.3 L1009.8 239.8 L1009.8 241.3 L1009.8 242.8 L1009.8 244.3 L1009.8 245.8 L1009.8 247.3 L1009.8 248.8 L1009.8 250.3 L1009.8 251.8 L1009.8 253.3 L1009.8 254.8 L1009.8 256.3 L1009.8 257.8 L1009.8 259.3 L1009.8 260.8 L1009.8 262.3 L1009.8 263.8 L1009.8 265.3 L1009.8 266.8 L1009.8 268.3 L1009.8 269.8 L1009.8 271.3 L1009.8 272.8 L1009.8 274.3 L1009.8 275.8 L1009.7 277.3 L1009.7 278.8 L1009.6 280.3 L1009.4 281.8 L1009.1 283.3 L1008.7 284.8 L1008.2 286.3 L1007.6 287.8 L1006.9 289.3 L1006.3 290.8 L1005.8 292.3 L1005.4 293.8 L1005.3 295.2 L1005.5 296.7 L1005.9 298.2 L1006.4 299.7 L1007.1 301.2 L1007.7 302.7 L1008.3 304.2 L1008.8 305.7 L1009.2 307.2 L1009.4 308.7 L1009.6 310.2 L1009.7 311.7 L1009.7 313.2 L1009.8 314.7 L1009.8 316.2 L1009.8 317.7 L1009.8 319.2 L1009.8 320.7 L1009.8 322.2 L1009.8 323.7 L1009.8 325.2 L1009.8 326.7 L1009.8 328.2 L1009.7 329.7 L1009.7 331.2 L1009.6 332.7 L1009.5 334.2 L1009.3 335.7 L1009.1 337.2 L1008.9 338.7 L1008.7 340.2 L1008.5 341.7 L1008.4 343.2 L1008.3 344.7 L1008.3 346.2 L1008.4 347.7 L1008.6 349.2 L1008.8 350.7 L1009.0 352.2 L1009.3 353.7 L1009.4 355.2 L1009.6 356.7 L1009.7 358.2 L1009.7 359.7 L1009.8 361.2 L1009.8 362.7 L1009.8 364.2 L1009.8 365.7 L1009.8 367.2 L1009.8 368.7 L1009.8 370.2 L1009.8 371.7 L1009.8 373.2 L1009.8 374.7 L1009.7 376.2 L1009.7 377.7 L1009.6 379.2 L1009.4 380.7 L1009.2 382.2 L1008.8 383.7 L1008.2 385.2 L1007.6 386.7 L1006.8 388.2 L1006.0 389.7 L1005.2 391.2 L1004.7 392.7 L1004.3 394.2 L1004.3 395.6 L1004.7 397.1 L1005.2 398.6 L1006.0 400.1 L1006.8 401.6 L1007.6 403.1 L1008.2 404.6 L1008.8 406.1 L1009.2 407.6 L1009.4 409.1 L1009.6 410.6 L1009.7 412.1 L1009.7 413.6 L1009.8 415.1 L1009.8 416.6 L1009.8 418.1 L1009.8 419.6 L1009.8 421.1 L1009.8 422.6 L1009.8 424.1 L1009.8 425.6 L1009.7 427.1 L1009.6 428.6 L1009.5 430.1 L1009.3 431.6 L1009.0 433.1 L1008.5 434.6 L1008.0 436.1 L1007.3 437.6 L1006.6 439.1 L1005.8 440.6 L1005.3 442.1 L1004.9 443.6 L1004.8 445.1 L1005.0 446.6 L1005.5 448.1 L1006.1 449.6 L1006.8 451.1 L1007.6 452.6 L1008.2 454.1 L1008.7 455.6 L1009.1 457.1 L1009.4 458.6 L1009.6 460.1 L1009.7 461.6 L1009.7 463.1 L1009.8 464.6 L1009.8 466.1 L1009.8 467.6 L1009.8 469.1 L1009.8 470.6 L1009.8 472.1 L1009.8 473.6 L1009.8 475.1 L1009.7 476.6 L1009.6 478.1 L1009.5 479.6 L1009.2 481.1 L1008.8 482.6 L1008.2 484.1 L1007.5 485.6 L1006.6 487.1 L1005.6 488.6 L1004.5 490.1 L1003.7 491.6 L1003.0 493.1 L1002.8 494.6 L1003.0 496.0 L1003.5 497.5 L1004.4 499.0 L1005.4 500.5 L1006.4 502.0 L1007.3 503.5 L1008.1 505.0 L1008.7 506.5 L1009.1 508.0 L1009.4 509.5 L1009.6 511.0 L1009.7 512.5 L1009.8 514.0 L1009.8 515.5 L1009.8 517.0 L1009.8 518.5 L1009.8 520.0 L1009.8 521.5 L1009.8 523.0 L1009.7 524.5 L1009.7 526.0 L1009.5 527.5 L1009.3 529.0 L1008.9 530.5 L1008.2 532.0 L1007.3 533.5 L1006.0 535.0 L1004.4 536.5 L1002.5 538.0 L1000.6 539.5 L998.9 541.0 L997.5 542.5 L996.9 544.0 L996.9 545.5 L997.8 547.0 L999.2 548.5 L1001.0 550.0 L1002.9 551.5 L1004.7 553.0 L1006.3 554.5 L1007.5 556.0 L1008.4 557.5 L1009.0 559.0 L1009.3 560.5 L1009.6 562.0 L1009.7 563.5 L1009.7 565.0 L1009.8 566.5 L1009.8 568.0 L1009.8 569.5 L1009.8 571.0 L1009.8 572.5 L1009.7 574.0 L1009.6 575.5 L1009.4 577.0 L1009.1 578.5 L1008.5 580.0 L1007.6 581.5 L1006.2 583.0 L1004.3 584.5 L1001.8 586.0 L998.9 587.5 L995.8 589.0 L992.9 590.5 L990.5 592.0 L989.1 593.5 L988.9 594.9 L989.8 596.4 L991.9 597.9 L994.6 599.4 L997.7 600.9 L1000.7 602.4 L1003.4 603.9 L1005.5 605.4 L1007.1 606.9 L1008.2 608.4 L1008.9 609.9 L1009.3 611.4 L1009.6 612.9 L1009.7 614.4 L1009.8 615.9 L1009.8 617.4 L1009.8 618.9 L1009.8 620.4 L1009.8 621.9 L1009.8 623.4 L1009.7 624.9 L1009.6 626.4 L1009.4 627.9 L1009.0 629.4 L1008.3 630.9 L1007.3 632.4 L1006.0 633.9 L1004.1 635.4 L1001.9 636.9 L999.5 638.4 L997.1 639.9 L995.1 641.4 L993.7 642.9 L993.2 644.4 L1026.8 644.4 L1026.3 642.9 L1024.9 641.4 L1022.9 639.9 L1020.5 638.4 L1018.1 636.9 L1015.9 635.4 L1014.0 633.9 L1012.7 632.4 L1011.7 630.9 L1011.0 629.4 L1010.6 627.9 L1010.4 626.4 L1010.3 624.9 L1010.2 623.4 L1010.2 621.9 L1010.2 620.4 L1010.2 618.9 L1010.2 617.4 L1010.2 615.9 L1010.3 614.4 L1010.4 612.9 L1010.7 611.4 L1011.1 609.9 L1011.8 608.4 L1012.9 606.9 L1014.5 605.4 L1016.6 603.9 L1019.3 602.4 L1022.3 600.9 L1025.4 599.4 L1028.1 597.9 L1030.2 596.4 L1031.1 594.9 L1030.9 593.5 L1029.5 592.0 L1027.1 590.5 L1024.2 589.0 L1021.1 587.5 L1018.2 586.0 L1015.7 584.5 L1013.8 583.0 L1012.4 581.5 L1011.5 580.0 L1010.9 578.5 L1010.6 577.0 L1010.4 575.5 L1010.3 574.0 L1010.2 572.5 L1010.2 571.0 L1010.2 569.5 L1010.2 568.0 L1010.2 566.5 L1010.3 565.0 L1010.3 563.5 L1010.4 562.0 L1010.7 560.5 L1011.0 559.0 L1011.6 557.5 L1012.5 556.0 L1013.7 554.5 L1015.3 553.0 L1017.1 551.5 L1019.0 550.0 L1020.8 548.5 L1022.2 547.0 L1023.1 545.5 L1023.1 544.0 L1022.5 542.5 L1021.1 541.0 L1019.4 539.5 L1017.5 538.0 L1015.6 536.5 L1014.0 535.0 L1012.7 533.5 L1011.8 532.0 L1011.1 530.5 L1010.7 529.0 L1010.5 527.5 L1010.3 526.0 L1010.3 524.5 L1010.2 523.0 L1010.2 521.5 L1010.2 520.0 L1010.2 518.5 L1010.2 517.0 L1010.2 515.5 L1010.2 514.0 L1010.3 512.5 L1010.4 511.0 L1010.6 509.5 L1010.9 508.0 L1011.3 506.5 L1011.9 505.0 L1012.7 503.5 L1013.6 502.0 L1014.6 500.5 L1015.6 499.0 L1016.5 497.5 L1017.0 496.0 L1017.2 494.6 L1017.0 493.1 L1016.3 491.6 L1015.5 490.1 L1014.4 488.6 L1013.4 487.1 L1012.5 485.6 L1011.8 484.1 L1011.2 482.6 L1010.8 481.1 L1010.5 479.6 L1010.4 478.1 L1010.3 476.6 L1010.2 475.1 L1010.2 473.6 L1010.2 472.1 L1010.2 470.6 L1010.2 469.1 L1010.2 467.6 L1010.2 466.1 L1010.2 464.6 L1010.3 463.1 L1010.3 461.6 L1010.4 460.1 L1010.6 458.6 L1010.9 457.1 L1011.3 455.6 L1011.8 454.1 L1012.4 452.6 L1013.2 451.1 L1013.9 449.6 L1014.5 448.1 L1015.0 446.6 L1015.2 445.1 L1015.1 443.6 L1014.7 442.1 L1014.2 440.6 L1013.4 439.1 L1012.7 437.6 L1012.0 436.1 L1011.5 434.6 L1011.0 433.1 L1010.7 431.6 L1010.5 430.1 L1010.4 428.6 L1010.3 427.1 L1010.2 425.6 L1010.2 424.1 L1010.2 422.6 L1010.2 421.1 L1010.2 419.6 L1010.2 418.1 L1010.2 416.6 L1010.2 415.1 L1010.3 413.6 L1010.3 412.1 L1010.4 410.6 L1010.6 409.1 L1010.8 407.6 L1011.2 406.1 L1011.8 404.6 L1012.4 403.1 L1013.2 401.6 L1014.0 400.1 L1014.8 398.6 L1015.3 397.1 L1015.7 395.6 L1015.7 394.2 L1015.3 392.7 L1014.8 391.2 L1014.0 389.7 L1013.2 388.2 L1012.4 386.7 L1011.8 385.2 L1011.2 383.7 L1010.8 382.2 L1010.6 380.7 L1010.4 379.2 L1010.3 377.7 L1010.3 376.2 L1010.2 374.7 L1010.2 373.2 L1010.2 371.7 L1010.2 370.2 L1010.2 368.7 L1010.2 367.2 L1010.2 365.7 L1010.2 364.2 L1010.2 362.7 L1010.2 361.2 L1010.3 359.7 L1010.3 358.2 L1010.4 356.7 L1010.6 355.2 L1010.7 353.7 L1011.0 352.2 L1011.2 350.7 L1011.4 349.2 L1011.6 347.7 L1011.7 346.2 L1011.7 344.7 L1011.6 343.2 L1011.5 341.7 L1011.3 340.2 L1011.1 338.7 L1010.9 337.2 L1010.7 335.7 L1010.5 334.2 L1010.4 332.7 L1010.3 331.2 L1010.3 329.7 L1010.2 328.2 L1010.2 326.7 L1010.2 325.2 L1010.2 323.7 L1010.2 322.2 L1010.2 320.7 L1010.2 319.2 L1010.2 317.7 L1010.2 316.2 L1010.2 314.7 L1010.3 313.2 L1010.3 311.7 L1010.4 310.2 L1010.6 308.7 L1010.8 307.2 L1011.2 305.7 L1011.7 304.2 L1012.3 302.7 L1012.9 301.2 L1013.6 299.7 L1014.1 298.2 L1014.5 296.7 L1014.7 295.2 L1014.6 293.8 L1014.2 292.3 L1013.7 290.8 L1013.1 289.3 L1012.4 287.8 L1011.8 286.3 L1011.3 284.8 L1010.9 283.3 L1010.6 281.8 L1010.4 280.3 L1010.3 278.8 L1010.3 277.3 L1010.2 275.8 L1010.2 274.3 L1010.2 272.8 L1010.2 271.3 L1010.2 269.8 L1010.2 268.3 L1010.2 266.8 L1010.2 265.3 L1010.2 263.8 L1010.2 262.3 L1010.2 260.8 L1010.2 259.3 L1010.2 257.8 L1010.2 256.3 L1010.2 254.8 L1010.2 253.3 L1010.2 251.8 L1010.2 250.3 L1010.2 248.8 L1010.2 247.3 L1010.2 245.8 L1010.2 244.3 L1010.2 242.8 L1010.2 241.3 L1010.2 239.8 L1010.2 238.3 L1010.2 236.8 L1010.2 235.3 L1010.2 233.8 L1010.2 232.3 L1010.2 230.8 L1010.2 229.3 L1010.2 227.8 L1010.2 226.3 L1010.2 224.8 L1010.2 223.3 L1010.2 221.8 L1010.2 220.3 L1010.2 218.8 L1010.2 217.3 L1010.2 215.8 L1010.2 214.3 L1010.2 212.8 L1010.2 211.3 L1010.2 209.8 L1010.2 208.3 L1010.2 206.8 L1010.2 205.3 L1010.2 203.8 L1010.2 202.3 L1010.2 200.8 L1010.2 199.3 L1010.2 197.8 L1010.2 196.3 L1010.2 194.9 L1010.2 193.4 L1010.2 191.9 L1010.2 190.4 L1010.2 188.9 L1010.2 187.4 L1010.2 185.9 L1010.2 184.4 L1010.2 182.9 L1010.2 181.4 L1010.2 179.9 L1010.2 178.4 L1010.2 176.9 L1010.2 175.4 L1010.2 173.9 L1010.2 172.4 L1010.2 170.9 L1010.2 169.4 L1010.2 167.9 L1010.2 166.4 L1010.2 164.9 L1010.2 163.4 L1010.2 161.9 L1010.3 160.4 L1010.3 158.9 L1010.4 157.4 L1010.5 155.9 L1010.7 154.4 L1010.9 152.9 L1011.1 151.4 L1011.3 149.9 L1011.5 148.4 L1011.7 146.9 L1011.7 145.4Z" fill="#fff" stroke="#000" stroke-width="2" stroke-linejoin="round"/>
<line x1="997.60" y1="644.40" x2="1022.40" y2="644.40" stroke="#008000" stroke-width="8.4" stroke-linecap="round"/>
<line x1="993.20" y1="594.50" x2="1026.80" y2="594.50" stroke="#008000" stroke-width="8.4" stroke-linecap="round"/>
<line x1="1001.20" y1="544.60" x2="1018.80" y2="544.60" stroke="#008000" stroke-width="8.4" stroke-linecap="round"/>
<line x1="1007.20" y1="494.70" x2="1012.80" y2="494.70" stroke="#008000" stroke-width="8.4" stroke-linecap="round"/>
<line x1="1009.20" y1="444.80" x2="1010.80" y2="444.80" stroke="#008000" stroke-width="8.4" stroke-linecap="round"/>
<line x1="1008.70" y1="394.90" x2="1011.30" y2="394.90" stroke="#008000" stroke-width="8.4" stroke-linecap="round"/>
<circle cx="1010.00" cy="345.00" r="4.2" fill="#008000"/>
<line x1="1009.70" y1="295.10" x2="1010.30" y2="295.10" stroke="#008000" stroke-width="8.4" stroke-linecap="round"/>
<circle cx="1010.00" cy="145.40" r="4.2" fill="#008000"/>
<line x1="990.00" y1="594.50" x2="1030.00" y2="594.50" stroke="#ff0000" stroke-width="1.8"/>
<line x1="998.00" y1="544.60" x2="1022.00" y2="544.60" stroke="#e08020" stroke-width="1.3" stroke-dasharray="1.5 1.5"/>
<line x1="778.00" y1="143.50" x2="778.00" y2="696.80" stroke="#000" stroke-width="3.9"/>
<line x1="776.20" y1="694.50" x2="1055.30" y2="694.50" stroke="#000" stroke-width="3.9"/>
<line x1="761.80" y1="644.40" x2="778.00" y2="644.40" stroke="#000" stroke-width="3.9"/>
<text x="753.80" y="657.40" font-size="23.5" text-anchor="end" stroke="#000" stroke-width="0.47" stroke-linejoin="round">0</text>
<line x1="761.80" y1="394.90" x2="778.00" y2="394.90" stroke="#000" stroke-width="3.9"/>
<text x="753.80" y="407.90" font-size="23.5" text-anchor="end" stroke="#000" stroke-width="0.47" stroke-linejoin="round">5</text>
<line x1="761.80" y1="145.40" x2="778.00" y2="145.40" stroke="#000" stroke-width="3.9"/>
<text x="747.60" y="158.40" font-size="23.5" text-anchor="end" stroke="#000" stroke-width="0.47" stroke-linejoin="round">10</text>
<line x1="820.00" y1="694.50" x2="820.00" y2="710.00" stroke="#000" stroke-width="3.9"/>
<line x1="883.20" y1="694.50" x2="883.20" y2="710.00" stroke="#000" stroke-width="3.9"/>
<line x1="946.60" y1="694.50" x2="946.60" y2="710.00" stroke="#000" stroke-width="3.9"/>
<line x1="1010.00" y1="694.50" x2="1010.00" y2="710.00" stroke="#000" stroke-width="3.9"/>
<text transform="translate(819.50 727.50) rotate(-45)" font-size="27.5" text-anchor="end" stroke="#000" stroke-width="0.55" stroke-linejoin="round">EV</text>
<text transform="translate(891.10 727.50) rotate(-45)" font-size="27.5" text-anchor="end" stroke="#000" stroke-width="0.55" stroke-linejoin="round">TRF1</text>
<text transform="translate(953.40 727.50) rotate(-45)" font-size="27.5" text-anchor="end" stroke="#000" stroke-width="0.55" stroke-linejoin="round">EV</text>
<text transform="translate(1024.60 727.50) rotate(-45)" font-size="27.5" text-anchor="end" stroke="#000" stroke-width="0.55" stroke-linejoin="round">TRF1</text>
<line x1="773.70" y1="784.70" x2="1059.70" y2="784.70" stroke="#000" stroke-width="2.8"/>
<text x="878.50" y="816.50" font-size="27.5" stroke="#000" stroke-width="0.55" stroke-linejoin="round">PCS<tspan font-size="17.875" dy="-11">LT</tspan></text>
<text transform="translate(658.60 634.60) rotate(-90)" font-size="36.4" stroke="#000" stroke-width="0.73" stroke-linejoin="round"><tspan fill="#00cccc" stroke="#00cccc" font-size="34.6">RAD51</tspan>or <tspan fill="#008000" stroke="#008000" dx="4.6">RPA</tspan>-telomere</text>
<text transform="translate(704.20 700.90) rotate(-90)" font-size="36.4" stroke="#000" stroke-width="0.73" stroke-linejoin="round">co-localization events / nucleus</text>
<circle cx="708.70" cy="580.20" r="2.2" fill="#008000"/>
</g>
<g id="panelC">
<text transform="translate(1186.03 38.20) scale(0.982 1)" font-size="51.3" fill="#231f20" stroke="#231f20" stroke-width="0.6">C</text>
<text x="1484.60" y="82.60" font-size="27.5" stroke="#000" stroke-width="0.55" stroke-linejoin="round">PCS<tspan font-size="17.875" dy="-11">LT</tspan></text>
<line x1="1466.20" y1="97.00" x2="1580.90" y2="97.00" stroke="#000" stroke-width="2.8"/>
<text transform="translate(1481.50 195.50) rotate(-45)" font-size="27" stroke="#000" stroke-width="0.54" stroke-linejoin="round">EV</text>
<text transform="translate(1554.50 195.50) rotate(-45)" font-size="27" stroke="#000" stroke-width="0.54" stroke-linejoin="round">TRF1</text>
<g clip-path="url(#cc)"><rect x="1457.3" y="210.2" width="131.3" height="191.8" fill="#e5e5e5"/>
<rect x="1457.3" y="210.2" width="131.3" height="191.8" filter="url(#cn)"/>
<path d="M1483.9 241.8 C1483.6 244.6 1483.1 252.6 1482.3 258.5 C1481.5 264.4 1479.7 274.2 1479.2 277.3" fill="none" stroke="#000" stroke-width="7" stroke-linecap="round" opacity="0.16" filter="url(#wc)"/>
<path d="M1562.5 242.8 C1562.6 245.8 1563.0 254.7 1563.3 260.6 C1563.6 266.5 1564.0 275.4 1564.1 278.4" fill="none" stroke="#000" stroke-width="5" stroke-linecap="round" opacity="0.42" filter="url(#wc)"/>
<path d="M1562.5 242.8 C1562.6 245.8 1563.0 254.7 1563.3 260.6 C1563.6 266.5 1564.0 275.4 1564.1 278.4" fill="none" stroke="#000" stroke-width="9" stroke-linecap="round" opacity="0.12" filter="url(#wc)"/>
</g>
<rect x="1458.00" y="210.60" width="130.20" height="191.00" fill="none" stroke="#000" stroke-width="2"/>
<text x="1600.00" y="261.80" font-size="27" stroke="#000" stroke-width="0.54" stroke-linejoin="round">+Φ29</text>
<text x="1600.00" y="371.70" font-size="27" stroke="#000" stroke-width="0.54" stroke-linejoin="round">-Φ29</text>
<rect x="1445.70" y="528.90" width="62.90" height="169.00" fill="#a0a0a4"/>
<rect x="1540.00" y="511.30" width="62.50" height="186.60" fill="#a0a0a4"/>
<line x1="1414.20" y1="475.80" x2="1414.20" y2="699.40" stroke="#000" stroke-width="3.9"/>
<line x1="1402.40" y1="697.90" x2="1635.70" y2="697.90" stroke="#000" stroke-width="3.9"/>
<line x1="1402.40" y1="528.90" x2="1414.20" y2="528.90" stroke="#000" stroke-width="3.9"/>
<text x="1397.60" y="537.30" font-size="23.4" text-anchor="end" stroke="#000" stroke-width="0.47" stroke-linejoin="round">1.0</text>
<line x1="1402.40" y1="613.40" x2="1414.20" y2="613.40" stroke="#000" stroke-width="3.9"/>
<text x="1397.60" y="621.80" font-size="23.4" text-anchor="end" stroke="#000" stroke-width="0.47" stroke-linejoin="round">0.5</text>
<line x1="1402.40" y1="697.90" x2="1414.20" y2="697.90" stroke="#000" stroke-width="3.9"/>
<text x="1397.60" y="706.30" font-size="23.4" text-anchor="end" stroke="#000" stroke-width="0.47" stroke-linejoin="round">0.0</text>
<line x1="1476.80" y1="697.90" x2="1476.80" y2="710.00" stroke="#000" stroke-width="3.9"/>
<line x1="1571.40" y1="697.90" x2="1571.40" y2="710.00" stroke="#000" stroke-width="3.9"/>
<text transform="translate(1482.00 725.50) rotate(-45)" font-size="27.5" text-anchor="end" stroke="#000" stroke-width="0.55" stroke-linejoin="round">EV</text>
<text transform="translate(1586.60 726.30) rotate(-45)" font-size="27.5" text-anchor="end" stroke="#000" stroke-width="0.55" stroke-linejoin="round">TRF1</text>
<line x1="1474.00" y1="467.30" x2="1576.80" y2="467.30" stroke="#000" stroke-width="2.5"/>
<text x="1525.40" y="463.80" font-size="23.6" text-anchor="middle" font-weight="normal" stroke="#000" stroke-width="0.3">0.4</text>
<line x1="1571.45" y1="495.05" x2="1571.45" y2="527.51" stroke="#ff0000" stroke-width="3.9"/>
<line x1="1555.95" y1="495.05" x2="1586.95" y2="495.05" stroke="#ff0000" stroke-width="3.9"/>
<line x1="1555.95" y1="527.51" x2="1586.95" y2="527.51" stroke="#ff0000" stroke-width="3.9"/>
<g fill="#000"><circle cx="1465.6" cy="528.9" r="3.7"/><circle cx="1476.8" cy="528.9" r="3.7"/><circle cx="1487.9" cy="528.9" r="3.7"/><circle cx="1571.4" cy="490.0" r="3.7"/><circle cx="1571.4" cy="502.2" r="3.7"/><circle cx="1571.4" cy="543.4" r="3.7"/></g>
<line x1="1417.60" y1="785.60" x2="1613.70" y2="785.60" stroke="#000" stroke-width="2.8"/>
<text x="1481.80" y="818.00" font-size="27.5" stroke="#000" stroke-width="0.55" stroke-linejoin="round">PCS<tspan font-size="17.875" dy="-11">LT</tspan></text>
<text transform="translate(1303.00 572.00) rotate(-90)" font-size="36.4" text-anchor="middle" stroke="#000" stroke-width="0.73" stroke-linejoin="round"><tspan>C-circles</tspan></text>
<text transform="translate(1349.50 572.00) rotate(-90)" font-size="36.4" text-anchor="middle" stroke="#000" stroke-width="0.73" stroke-linejoin="round"><tspan>(to EV)</tspan></text>
</g>
<g id="panelD">
<text transform="translate(-2.50 907.20) scale(0.95 1)" font-size="51.3" fill="#231f20" stroke="#231f20" stroke-width="0.6">D</text>
<text x="162.30" y="920.00" font-size="27" stroke="#000" stroke-width="0.54" stroke-linejoin="round">n =</text>
<text x="272.00" y="919.30" font-size="27" text-anchor="middle" stroke="#000" stroke-width="0.54" stroke-linejoin="round">236</text>
<text x="362.30" y="919.30" font-size="27" text-anchor="middle" stroke="#000" stroke-width="0.54" stroke-linejoin="round">251</text>
<line x1="278.00" y1="953.70" x2="351.00" y2="953.70" stroke="#000" stroke-width="2.5"/>
<text x="314.50" y="949.80" font-size="23.6" text-anchor="middle" font-weight="normal" stroke="#000" stroke-width="0.3">0.4</text>
<path d="M270.7 961.0 L270.8 962.5 L271.1 964.0 L271.4 965.5 L271.7 967.0 L272.0 968.5 L272.1 970.0 L272.2 971.5 L272.2 973.0 L272.2 974.5 L272.2 976.0 L272.2 977.5 L272.2 979.0 L272.2 980.5 L272.2 982.0 L272.2 983.5 L272.2 985.0 L272.2 986.5 L272.2 988.0 L272.2 989.5 L272.2 991.0 L272.2 992.5 L272.2 994.0 L272.2 995.5 L272.2 997.0 L272.2 998.5 L272.2 1000.0 L272.2 1001.5 L272.2 1003.0 L272.2 1004.5 L272.2 1006.0 L272.2 1007.5 L272.2 1009.0 L272.2 1010.5 L272.2 1012.0 L272.2 1013.5 L272.2 1015.0 L272.2 1016.5 L272.2 1018.0 L272.2 1019.5 L272.2 1021.0 L272.2 1022.5 L272.2 1024.0 L272.2 1025.5 L272.2 1027.0 L272.2 1028.5 L272.2 1030.0 L272.2 1031.5 L272.2 1033.0 L272.2 1034.5 L272.2 1036.0 L272.2 1037.5 L272.2 1039.0 L272.2 1040.5 L272.2 1042.0 L272.2 1043.5 L272.2 1045.0 L272.2 1046.5 L272.2 1048.0 L272.2 1049.5 L272.1 1051.0 L272.0 1052.5 L271.8 1054.0 L271.6 1055.5 L271.2 1057.0 L270.9 1058.5 L270.7 1060.0 L270.7 1061.5 L271.0 1063.0 L271.3 1064.5 L271.6 1066.0 L271.9 1067.5 L272.1 1069.0 L272.1 1070.5 L272.2 1071.9 L272.2 1073.4 L272.2 1074.9 L272.2 1076.4 L272.2 1077.9 L272.2 1079.4 L272.2 1080.9 L272.2 1082.4 L272.1 1083.9 L272.0 1085.4 L271.9 1086.9 L271.6 1088.4 L271.3 1089.9 L270.9 1091.4 L270.7 1092.9 L270.7 1094.4 L270.9 1095.9 L271.2 1097.4 L271.6 1098.9 L271.9 1100.4 L272.0 1101.9 L272.1 1103.4 L272.2 1104.9 L272.2 1106.4 L272.2 1107.9 L272.2 1109.4 L272.2 1110.9 L272.2 1112.4 L272.2 1113.9 L272.2 1115.4 L272.1 1116.9 L272.1 1118.4 L271.9 1119.9 L271.7 1121.4 L271.3 1122.9 L271.0 1124.4 L270.7 1125.9 L270.7 1127.4 L270.9 1128.9 L271.2 1130.4 L271.5 1131.9 L271.8 1133.4 L272.0 1134.9 L272.1 1136.4 L272.2 1137.9 L272.2 1139.4 L272.2 1140.9 L272.2 1142.4 L272.2 1143.9 L272.2 1145.4 L272.2 1146.9 L272.2 1148.4 L272.1 1149.9 L271.8 1151.4 L271.4 1152.9 L270.7 1154.4 L269.7 1155.9 L268.7 1157.4 L267.9 1158.9 L267.7 1160.4 L268.2 1161.9 L269.1 1163.4 L270.1 1164.9 L271.0 1166.4 L271.6 1167.9 L271.9 1169.4 L272.1 1170.9 L272.2 1172.4 L272.2 1173.9 L272.2 1175.4 L272.2 1176.9 L272.2 1178.4 L272.2 1179.9 L272.2 1181.4 L272.1 1182.8 L271.8 1184.3 L271.4 1185.8 L270.6 1187.3 L269.6 1188.8 L268.4 1190.3 L267.5 1191.8 L267.2 1193.3 L267.6 1194.8 L268.6 1196.3 L269.7 1197.8 L270.8 1199.3 L271.5 1200.8 L271.9 1202.3 L272.1 1203.8 L272.2 1205.3 L272.2 1206.8 L272.2 1208.3 L272.2 1209.8 L272.2 1211.3 L272.2 1212.8 L272.2 1214.3 L272.1 1215.8 L271.9 1217.3 L271.5 1218.8 L270.8 1220.3 L269.7 1221.8 L268.6 1223.3 L267.6 1224.8 L267.2 1226.3 L267.5 1227.8 L268.4 1229.3 L269.6 1230.8 L270.6 1232.3 L271.4 1233.8 L271.8 1235.3 L272.1 1236.8 L272.2 1238.3 L272.2 1239.8 L272.2 1241.3 L272.2 1242.8 L272.2 1244.3 L272.2 1245.8 L272.2 1247.3 L272.1 1248.8 L271.9 1250.3 L271.4 1251.8 L270.6 1253.3 L269.4 1254.8 L268.0 1256.3 L266.8 1257.8 L266.2 1259.3 L266.5 1260.8 L267.5 1262.3 L268.9 1263.8 L270.2 1265.3 L271.1 1266.8 L271.7 1268.3 L272.0 1269.8 L272.1 1271.3 L272.2 1272.8 L272.2 1274.3 L272.2 1275.8 L272.2 1277.3 L272.2 1278.8 L272.2 1280.3 L272.1 1281.8 L271.9 1283.3 L271.4 1284.8 L270.5 1286.3 L269.2 1287.8 L267.5 1289.3 L266.1 1290.8 L265.3 1292.3 L265.4 1293.7 L266.5 1295.2 L268.1 1296.7 L269.6 1298.2 L270.8 1299.7 L271.6 1301.2 L271.9 1302.7 L272.1 1304.2 L272.2 1305.7 L272.2 1307.2 L272.2 1308.7 L272.2 1310.2 L272.2 1311.7 L272.1 1313.2 L272.0 1314.7 L271.7 1316.2 L270.9 1317.7 L269.5 1319.2 L267.3 1320.7 L264.6 1322.2 L262.0 1323.7 L260.4 1325.2 L260.5 1326.7 L262.1 1328.2 L264.8 1329.7 L267.5 1331.2 L269.6 1332.7 L271.0 1334.2 L271.7 1335.7 L272.0 1337.2 L272.1 1338.7 L272.2 1340.2 L272.2 1341.7 L272.2 1343.2 L272.2 1344.7 L272.1 1346.2 L271.9 1347.7 L271.3 1349.2 L270.0 1350.7 L267.5 1352.2 L263.5 1353.7 L258.3 1355.2 L253.2 1356.7 L249.8 1358.2 L249.5 1359.7 L252.3 1361.2 L257.3 1362.7 L262.5 1364.2 L266.8 1365.7 L269.6 1367.2 L271.1 1368.7 L271.8 1370.2 L272.1 1371.7 L272.2 1373.2 L272.2 1374.7 L272.2 1376.2 L272.2 1377.7 L272.1 1379.2 L271.9 1380.7 L271.2 1382.2 L269.6 1383.7 L266.6 1385.2 L261.6 1386.7 L255.1 1388.2 L248.2 1389.7 L243.4 1391.2 L242.4 1392.7 L245.6 1394.2 L251.8 1395.7 L258.7 1397.2 L264.5 1398.7 L268.4 1400.2 L270.6 1401.7 L271.6 1403.2 L272.0 1404.6 L272.2 1406.1 L272.2 1407.6 L272.2 1409.1 L272.2 1410.6 L272.1 1412.1 L271.9 1413.6 L271.3 1415.1 L269.9 1416.6 L267.1 1418.1 L262.4 1419.6 L256.0 1421.1 L249.1 1422.6 L243.8 1424.1 L242.2 1425.6 L245.0 1427.1 L250.9 1428.6 L257.8 1430.1 L263.9 1431.6 L268.0 1433.1 L270.4 1434.6 L271.5 1436.1 L272.0 1437.6 L272.1 1439.1 L272.2 1440.6 L272.2 1442.1 L272.2 1443.6 L272.1 1445.1 L272.0 1446.6 L271.6 1448.1 L270.6 1449.6 L268.7 1451.1 L265.3 1452.6 L260.5 1454.1 L255.2 1455.6 L250.9 1457.1 L249.2 1458.6 L295.6 1458.6 L293.9 1457.1 L289.6 1455.6 L284.3 1454.1 L279.5 1452.6 L276.1 1451.1 L274.2 1449.6 L273.2 1448.1 L272.8 1446.6 L272.7 1445.1 L272.6 1443.6 L272.6 1442.1 L272.6 1440.6 L272.7 1439.1 L272.8 1437.6 L273.3 1436.1 L274.4 1434.6 L276.8 1433.1 L280.9 1431.6 L287.0 1430.1 L293.9 1428.6 L299.8 1427.1 L302.6 1425.6 L301.0 1424.1 L295.7 1422.6 L288.8 1421.1 L282.4 1419.6 L277.7 1418.1 L274.9 1416.6 L273.5 1415.1 L272.9 1413.6 L272.7 1412.1 L272.6 1410.6 L272.6 1409.1 L272.6 1407.6 L272.6 1406.1 L272.8 1404.6 L273.2 1403.2 L274.2 1401.7 L276.4 1400.2 L280.3 1398.7 L286.1 1397.2 L293.0 1395.7 L299.2 1394.2 L302.4 1392.7 L301.4 1391.2 L296.6 1389.7 L289.7 1388.2 L283.2 1386.7 L278.2 1385.2 L275.2 1383.7 L273.6 1382.2 L272.9 1380.7 L272.7 1379.2 L272.6 1377.7 L272.6 1376.2 L272.6 1374.7 L272.6 1373.2 L272.7 1371.7 L273.0 1370.2 L273.7 1368.7 L275.2 1367.2 L278.0 1365.7 L282.3 1364.2 L287.5 1362.7 L292.5 1361.2 L295.3 1359.7 L295.0 1358.2 L291.6 1356.7 L286.5 1355.2 L281.3 1353.7 L277.3 1352.2 L274.8 1350.7 L273.5 1349.2 L272.9 1347.7 L272.7 1346.2 L272.6 1344.7 L272.6 1343.2 L272.6 1341.7 L272.6 1340.2 L272.7 1338.7 L272.8 1337.2 L273.1 1335.7 L273.8 1334.2 L275.2 1332.7 L277.3 1331.2 L280.0 1329.7 L282.7 1328.2 L284.3 1326.7 L284.4 1325.2 L282.8 1323.7 L280.2 1322.2 L277.5 1320.7 L275.3 1319.2 L273.9 1317.7 L273.1 1316.2 L272.8 1314.7 L272.7 1313.2 L272.6 1311.7 L272.6 1310.2 L272.6 1308.7 L272.6 1307.2 L272.6 1305.7 L272.7 1304.2 L272.9 1302.7 L273.2 1301.2 L274.0 1299.7 L275.2 1298.2 L276.7 1296.7 L278.3 1295.2 L279.4 1293.7 L279.5 1292.3 L278.7 1290.8 L277.3 1289.3 L275.6 1287.8 L274.3 1286.3 L273.4 1284.8 L272.9 1283.3 L272.7 1281.8 L272.6 1280.3 L272.6 1278.8 L272.6 1277.3 L272.6 1275.8 L272.6 1274.3 L272.6 1272.8 L272.7 1271.3 L272.8 1269.8 L273.1 1268.3 L273.7 1266.8 L274.6 1265.3 L275.9 1263.8 L277.3 1262.3 L278.3 1260.8 L278.6 1259.3 L278.0 1257.8 L276.8 1256.3 L275.4 1254.8 L274.2 1253.3 L273.4 1251.8 L272.9 1250.3 L272.7 1248.8 L272.6 1247.3 L272.6 1245.8 L272.6 1244.3 L272.6 1242.8 L272.6 1241.3 L272.6 1239.8 L272.6 1238.3 L272.7 1236.8 L273.0 1235.3 L273.4 1233.8 L274.2 1232.3 L275.2 1230.8 L276.4 1229.3 L277.3 1227.8 L277.6 1226.3 L277.2 1224.8 L276.2 1223.3 L275.1 1221.8 L274.0 1220.3 L273.3 1218.8 L272.9 1217.3 L272.7 1215.8 L272.6 1214.3 L272.6 1212.8 L272.6 1211.3 L272.6 1209.8 L272.6 1208.3 L272.6 1206.8 L272.6 1205.3 L272.7 1203.8 L272.9 1202.3 L273.3 1200.8 L274.0 1199.3 L275.1 1197.8 L276.2 1196.3 L277.2 1194.8 L277.6 1193.3 L277.3 1191.8 L276.4 1190.3 L275.2 1188.8 L274.2 1187.3 L273.4 1185.8 L273.0 1184.3 L272.7 1182.8 L272.6 1181.4 L272.6 1179.9 L272.6 1178.4 L272.6 1176.9 L272.6 1175.4 L272.6 1173.9 L272.6 1172.4 L272.7 1170.9 L272.9 1169.4 L273.2 1167.9 L273.8 1166.4 L274.7 1164.9 L275.7 1163.4 L276.6 1161.9 L277.1 1160.4 L276.9 1158.9 L276.1 1157.4 L275.1 1155.9 L274.1 1154.4 L273.4 1152.9 L273.0 1151.4 L272.7 1149.9 L272.6 1148.4 L272.6 1146.9 L272.6 1145.4 L272.6 1143.9 L272.6 1142.4 L272.6 1140.9 L272.6 1139.4 L272.6 1137.9 L272.7 1136.4 L272.8 1134.9 L273.0 1133.4 L273.3 1131.9 L273.6 1130.4 L273.9 1128.9 L274.1 1127.4 L274.1 1125.9 L273.8 1124.4 L273.5 1122.9 L273.1 1121.4 L272.9 1119.9 L272.7 1118.4 L272.7 1116.9 L272.6 1115.4 L272.6 1113.9 L272.6 1112.4 L272.6 1110.9 L272.6 1109.4 L272.6 1107.9 L272.6 1106.4 L272.6 1104.9 L272.7 1103.4 L272.8 1101.9 L272.9 1100.4 L273.2 1098.9 L273.6 1097.4 L273.9 1095.9 L274.1 1094.4 L274.1 1092.9 L273.9 1091.4 L273.5 1089.9 L273.2 1088.4 L272.9 1086.9 L272.8 1085.4 L272.7 1083.9 L272.6 1082.4 L272.6 1080.9 L272.6 1079.4 L272.6 1077.9 L272.6 1076.4 L272.6 1074.9 L272.6 1073.4 L272.6 1071.9 L272.7 1070.5 L272.7 1069.0 L272.9 1067.5 L273.2 1066.0 L273.5 1064.5 L273.8 1063.0 L274.1 1061.5 L274.1 1060.0 L273.9 1058.5 L273.6 1057.0 L273.2 1055.5 L273.0 1054.0 L272.8 1052.5 L272.7 1051.0 L272.6 1049.5 L272.6 1048.0 L272.6 1046.5 L272.6 1045.0 L272.6 1043.5 L272.6 1042.0 L272.6 1040.5 L272.6 1039.0 L272.6 1037.5 L272.6 1036.0 L272.6 1034.5 L272.6 1033.0 L272.6 1031.5 L272.6 1030.0 L272.6 1028.5 L272.6 1027.0 L272.6 1025.5 L272.6 1024.0 L272.6 1022.5 L272.6 1021.0 L272.6 1019.5 L272.6 1018.0 L272.6 1016.5 L272.6 1015.0 L272.6 1013.5 L272.6 1012.0 L272.6 1010.5 L272.6 1009.0 L272.6 1007.5 L272.6 1006.0 L272.6 1004.5 L272.6 1003.0 L272.6 1001.5 L272.6 1000.0 L272.6 998.5 L272.6 997.0 L272.6 995.5 L272.6 994.0 L272.6 992.5 L272.6 991.0 L272.6 989.5 L272.6 988.0 L272.6 986.5 L272.6 985.0 L272.6 983.5 L272.6 982.0 L272.6 980.5 L272.6 979.0 L272.6 977.5 L272.6 976.0 L272.6 974.5 L272.6 973.0 L272.6 971.5 L272.7 970.0 L272.8 968.5 L273.1 967.0 L273.4 965.5 L273.7 964.0 L274.0 962.5 L274.1 961.0Z" fill="#fff" stroke="#000" stroke-width="2.2" stroke-linejoin="round"/>
<line x1="253.30" y1="1458.60" x2="291.50" y2="1458.60" stroke="#000" stroke-width="7.8" stroke-linecap="round"/>
<line x1="246.30" y1="1425.43" x2="298.50" y2="1425.43" stroke="#000" stroke-width="7.8" stroke-linecap="round"/>
<line x1="246.30" y1="1392.26" x2="298.50" y2="1392.26" stroke="#000" stroke-width="7.8" stroke-linecap="round"/>
<line x1="253.30" y1="1359.09" x2="291.50" y2="1359.09" stroke="#000" stroke-width="7.8" stroke-linecap="round"/>
<line x1="264.30" y1="1325.92" x2="280.50" y2="1325.92" stroke="#000" stroke-width="7.8" stroke-linecap="round"/>
<line x1="269.30" y1="1292.75" x2="275.50" y2="1292.75" stroke="#000" stroke-width="7.8" stroke-linecap="round"/>
<line x1="270.30" y1="1259.58" x2="274.50" y2="1259.58" stroke="#000" stroke-width="7.8" stroke-linecap="round"/>
<line x1="271.30" y1="1226.41" x2="273.50" y2="1226.41" stroke="#000" stroke-width="7.8" stroke-linecap="round"/>
<line x1="271.30" y1="1193.24" x2="273.50" y2="1193.24" stroke="#000" stroke-width="7.8" stroke-linecap="round"/>
<line x1="271.80" y1="1160.07" x2="273.00" y2="1160.07" stroke="#000" stroke-width="7.8" stroke-linecap="round"/>
<circle cx="272.40" cy="1126.90" r="3.9" fill="#000"/>
<circle cx="272.40" cy="1093.73" r="3.9" fill="#000"/>
<circle cx="272.40" cy="1060.56" r="3.9" fill="#000"/>
<circle cx="272.40" cy="961.05" r="3.9" fill="#000"/>
<line x1="243.40" y1="1392.26" x2="301.40" y2="1392.26" stroke="#ff0000" stroke-width="1.8"/>
<line x1="243.40" y1="1425.43" x2="301.40" y2="1425.43" stroke="#e08020" stroke-width="1.3" stroke-dasharray="1.5 1.5"/>
<line x1="250.40" y1="1359.09" x2="294.40" y2="1359.09" stroke="#e08020" stroke-width="1.3" stroke-dasharray="1.5 1.5"/>
<path d="M361.5 1093.7 L361.6 1095.2 L361.9 1096.7 L362.2 1098.2 L362.5 1099.7 L362.8 1101.2 L362.9 1102.7 L363.0 1104.2 L363.0 1105.7 L363.0 1107.2 L363.0 1108.7 L363.0 1110.2 L363.0 1111.7 L363.0 1113.2 L363.0 1114.7 L363.0 1116.2 L362.9 1117.7 L362.8 1119.2 L362.6 1120.6 L362.3 1122.1 L361.9 1123.6 L361.6 1125.1 L361.5 1126.6 L361.6 1128.1 L361.8 1129.6 L362.2 1131.1 L362.5 1132.6 L362.7 1134.1 L362.9 1135.6 L363.0 1137.1 L363.0 1138.6 L363.0 1140.1 L363.0 1141.6 L363.0 1143.1 L363.0 1144.6 L363.0 1146.1 L363.0 1147.6 L362.9 1149.1 L362.8 1150.6 L362.5 1152.0 L361.9 1153.5 L361.1 1155.0 L360.0 1156.5 L359.1 1158.0 L358.5 1159.5 L358.6 1161.0 L359.3 1162.5 L360.3 1164.0 L361.3 1165.5 L362.1 1167.0 L362.6 1168.5 L362.8 1170.0 L362.9 1171.5 L363.0 1173.0 L363.0 1174.5 L363.0 1176.0 L363.0 1177.5 L363.0 1179.0 L363.0 1180.5 L362.9 1182.0 L362.8 1183.5 L362.5 1184.9 L362.0 1186.4 L361.2 1187.9 L360.2 1189.4 L359.2 1190.9 L358.6 1192.4 L358.6 1193.9 L359.2 1195.4 L360.1 1196.9 L361.2 1198.4 L362.0 1199.9 L362.5 1201.4 L362.8 1202.9 L362.9 1204.4 L363.0 1205.9 L363.0 1207.4 L363.0 1208.9 L363.0 1210.4 L363.0 1211.9 L363.0 1213.4 L362.9 1214.9 L362.8 1216.4 L362.6 1217.8 L362.1 1219.3 L361.2 1220.8 L360.1 1222.3 L359.0 1223.8 L358.2 1225.3 L358.0 1226.8 L358.6 1228.3 L359.6 1229.8 L360.7 1231.3 L361.7 1232.8 L362.4 1234.3 L362.7 1235.8 L362.9 1237.3 L363.0 1238.8 L363.0 1240.3 L363.0 1241.8 L363.0 1243.3 L363.0 1244.8 L363.0 1246.3 L362.9 1247.8 L362.8 1249.2 L362.6 1250.7 L362.0 1252.2 L361.1 1253.7 L359.8 1255.2 L358.4 1256.7 L357.4 1258.2 L357.0 1259.7 L357.5 1261.2 L358.7 1262.7 L360.1 1264.2 L361.3 1265.7 L362.1 1267.2 L362.6 1268.7 L362.9 1270.2 L363.0 1271.7 L363.0 1273.2 L363.0 1274.7 L363.0 1276.2 L363.0 1277.7 L363.0 1279.2 L362.9 1280.7 L362.8 1282.1 L362.6 1283.6 L362.0 1285.1 L361.1 1286.6 L359.8 1288.1 L358.2 1289.6 L357.0 1291.1 L356.4 1292.6 L356.8 1294.1 L358.0 1295.6 L359.5 1297.1 L360.9 1298.6 L361.9 1300.1 L362.5 1301.6 L362.8 1303.1 L362.9 1304.6 L363.0 1306.1 L363.0 1307.6 L363.0 1309.1 L363.0 1310.6 L363.0 1312.1 L362.9 1313.5 L362.7 1315.0 L362.3 1316.5 L361.3 1318.0 L359.6 1319.5 L357.0 1321.0 L353.9 1322.5 L351.1 1324.0 L349.7 1325.5 L350.1 1327.0 L352.3 1328.5 L355.3 1330.0 L358.2 1331.5 L360.5 1333.0 L361.8 1334.5 L362.5 1336.0 L362.8 1337.5 L363.0 1339.0 L363.0 1340.5 L363.0 1342.0 L363.0 1343.5 L363.0 1345.0 L362.9 1346.4 L362.7 1347.9 L362.1 1349.4 L360.9 1350.9 L358.6 1352.4 L355.0 1353.9 L350.6 1355.4 L346.3 1356.9 L343.8 1358.4 L343.9 1359.9 L346.7 1361.4 L351.0 1362.9 L355.4 1364.4 L358.8 1365.9 L361.0 1367.4 L362.2 1368.9 L362.7 1370.4 L362.9 1371.9 L363.0 1373.4 L363.0 1374.9 L363.0 1376.4 L363.0 1377.9 L362.9 1379.3 L362.6 1380.8 L361.9 1382.3 L360.2 1383.8 L357.0 1385.3 L351.8 1386.8 L345.1 1388.3 L338.4 1389.8 L333.9 1391.3 L333.3 1392.8 L336.9 1394.3 L343.2 1395.8 L350.1 1397.3 L355.7 1398.8 L359.5 1400.3 L361.5 1401.8 L362.5 1403.3 L362.8 1404.8 L363.0 1406.3 L363.0 1407.8 L363.0 1409.3 L363.0 1410.7 L362.9 1412.2 L362.7 1413.7 L362.1 1415.2 L360.6 1416.7 L357.7 1418.2 L352.9 1419.7 L346.4 1421.2 L339.6 1422.7 L334.5 1424.2 L333.1 1425.7 L336.0 1427.2 L342.0 1428.7 L348.9 1430.2 L354.9 1431.7 L358.9 1433.2 L361.3 1434.7 L362.4 1436.2 L362.8 1437.7 L362.9 1439.2 L363.0 1440.7 L363.0 1442.2 L363.0 1443.6 L362.9 1445.1 L362.8 1446.6 L362.4 1448.1 L361.4 1449.6 L359.4 1451.1 L355.9 1452.6 L351.0 1454.1 L345.6 1455.6 L341.2 1457.1 L339.5 1458.6 L386.9 1458.6 L385.2 1457.1 L380.8 1455.6 L375.4 1454.1 L370.5 1452.6 L367.0 1451.1 L365.0 1449.6 L364.0 1448.1 L363.6 1446.6 L363.5 1445.1 L363.4 1443.6 L363.4 1442.2 L363.4 1440.7 L363.5 1439.2 L363.6 1437.7 L364.0 1436.2 L365.1 1434.7 L367.5 1433.2 L371.5 1431.7 L377.5 1430.2 L384.4 1428.7 L390.4 1427.2 L393.3 1425.7 L391.9 1424.2 L386.8 1422.7 L380.0 1421.2 L373.5 1419.7 L368.7 1418.2 L365.8 1416.7 L364.3 1415.2 L363.7 1413.7 L363.5 1412.2 L363.4 1410.7 L363.4 1409.3 L363.4 1407.8 L363.4 1406.3 L363.6 1404.8 L363.9 1403.3 L364.9 1401.8 L366.9 1400.3 L370.7 1398.8 L376.3 1397.3 L383.2 1395.8 L389.5 1394.3 L393.1 1392.8 L392.5 1391.3 L388.0 1389.8 L381.3 1388.3 L374.6 1386.8 L369.4 1385.3 L366.2 1383.8 L364.5 1382.3 L363.8 1380.8 L363.5 1379.3 L363.4 1377.9 L363.4 1376.4 L363.4 1374.9 L363.4 1373.4 L363.5 1371.9 L363.7 1370.4 L364.2 1368.9 L365.4 1367.4 L367.6 1365.9 L371.0 1364.4 L375.4 1362.9 L379.7 1361.4 L382.5 1359.9 L382.6 1358.4 L380.1 1356.9 L375.8 1355.4 L371.4 1353.9 L367.8 1352.4 L365.5 1350.9 L364.3 1349.4 L363.7 1347.9 L363.5 1346.4 L363.4 1345.0 L363.4 1343.5 L363.4 1342.0 L363.4 1340.5 L363.4 1339.0 L363.6 1337.5 L363.9 1336.0 L364.6 1334.5 L365.9 1333.0 L368.2 1331.5 L371.1 1330.0 L374.1 1328.5 L376.3 1327.0 L376.7 1325.5 L375.3 1324.0 L372.5 1322.5 L369.4 1321.0 L366.8 1319.5 L365.1 1318.0 L364.1 1316.5 L363.7 1315.0 L363.5 1313.5 L363.4 1312.1 L363.4 1310.6 L363.4 1309.1 L363.4 1307.6 L363.4 1306.1 L363.5 1304.6 L363.6 1303.1 L363.9 1301.6 L364.5 1300.1 L365.5 1298.6 L366.9 1297.1 L368.4 1295.6 L369.6 1294.1 L370.0 1292.6 L369.4 1291.1 L368.2 1289.6 L366.6 1288.1 L365.3 1286.6 L364.4 1285.1 L363.8 1283.6 L363.6 1282.1 L363.5 1280.7 L363.4 1279.2 L363.4 1277.7 L363.4 1276.2 L363.4 1274.7 L363.4 1273.2 L363.4 1271.7 L363.5 1270.2 L363.8 1268.7 L364.3 1267.2 L365.1 1265.7 L366.3 1264.2 L367.7 1262.7 L368.9 1261.2 L369.4 1259.7 L369.0 1258.2 L368.0 1256.7 L366.6 1255.2 L365.3 1253.7 L364.4 1252.2 L363.8 1250.7 L363.6 1249.2 L363.5 1247.8 L363.4 1246.3 L363.4 1244.8 L363.4 1243.3 L363.4 1241.8 L363.4 1240.3 L363.4 1238.8 L363.5 1237.3 L363.7 1235.8 L364.0 1234.3 L364.7 1232.8 L365.7 1231.3 L366.8 1229.8 L367.8 1228.3 L368.4 1226.8 L368.2 1225.3 L367.4 1223.8 L366.3 1222.3 L365.2 1220.8 L364.3 1219.3 L363.8 1217.8 L363.6 1216.4 L363.5 1214.9 L363.4 1213.4 L363.4 1211.9 L363.4 1210.4 L363.4 1208.9 L363.4 1207.4 L363.4 1205.9 L363.5 1204.4 L363.6 1202.9 L363.9 1201.4 L364.4 1199.9 L365.2 1198.4 L366.3 1196.9 L367.2 1195.4 L367.8 1193.9 L367.8 1192.4 L367.2 1190.9 L366.2 1189.4 L365.2 1187.9 L364.4 1186.4 L363.9 1184.9 L363.6 1183.5 L363.5 1182.0 L363.4 1180.5 L363.4 1179.0 L363.4 1177.5 L363.4 1176.0 L363.4 1174.5 L363.4 1173.0 L363.5 1171.5 L363.6 1170.0 L363.8 1168.5 L364.3 1167.0 L365.1 1165.5 L366.1 1164.0 L367.1 1162.5 L367.8 1161.0 L367.9 1159.5 L367.3 1158.0 L366.4 1156.5 L365.3 1155.0 L364.5 1153.5 L363.9 1152.0 L363.6 1150.6 L363.5 1149.1 L363.4 1147.6 L363.4 1146.1 L363.4 1144.6 L363.4 1143.1 L363.4 1141.6 L363.4 1140.1 L363.4 1138.6 L363.4 1137.1 L363.5 1135.6 L363.7 1134.1 L363.9 1132.6 L364.2 1131.1 L364.6 1129.6 L364.8 1128.1 L364.9 1126.6 L364.8 1125.1 L364.5 1123.6 L364.1 1122.1 L363.8 1120.6 L363.6 1119.2 L363.5 1117.7 L363.4 1116.2 L363.4 1114.7 L363.4 1113.2 L363.4 1111.7 L363.4 1110.2 L363.4 1108.7 L363.4 1107.2 L363.4 1105.7 L363.4 1104.2 L363.5 1102.7 L363.6 1101.2 L363.9 1099.7 L364.2 1098.2 L364.5 1096.7 L364.8 1095.2 L364.9 1093.7Z" fill="#fff" stroke="#000" stroke-width="2.2" stroke-linejoin="round"/>
<line x1="343.60" y1="1458.60" x2="382.80" y2="1458.60" stroke="#000" stroke-width="7.8" stroke-linecap="round"/>
<line x1="337.10" y1="1425.43" x2="389.30" y2="1425.43" stroke="#000" stroke-width="7.8" stroke-linecap="round"/>
<line x1="337.10" y1="1392.26" x2="389.30" y2="1392.26" stroke="#000" stroke-width="7.8" stroke-linecap="round"/>
<line x1="347.60" y1="1359.09" x2="378.80" y2="1359.09" stroke="#000" stroke-width="7.8" stroke-linecap="round"/>
<line x1="353.70" y1="1325.92" x2="372.70" y2="1325.92" stroke="#000" stroke-width="7.8" stroke-linecap="round"/>
<line x1="360.50" y1="1292.75" x2="365.90" y2="1292.75" stroke="#000" stroke-width="7.8" stroke-linecap="round"/>
<line x1="361.10" y1="1259.58" x2="365.30" y2="1259.58" stroke="#000" stroke-width="7.8" stroke-linecap="round"/>
<line x1="362.10" y1="1226.41" x2="364.30" y2="1226.41" stroke="#000" stroke-width="7.8" stroke-linecap="round"/>
<line x1="362.60" y1="1193.24" x2="363.80" y2="1193.24" stroke="#000" stroke-width="7.8" stroke-linecap="round"/>
<line x1="362.60" y1="1160.07" x2="363.80" y2="1160.07" stroke="#000" stroke-width="7.8" stroke-linecap="round"/>
<circle cx="363.20" cy="1126.90" r="3.9" fill="#000"/>
<circle cx="363.20" cy="1093.73" r="3.9" fill="#000"/>
<line x1="334.20" y1="1392.26" x2="392.20" y2="1392.26" stroke="#ff0000" stroke-width="1.8"/>
<line x1="334.20" y1="1425.43" x2="392.20" y2="1425.43" stroke="#e08020" stroke-width="1.3" stroke-dasharray="1.5 1.5"/>
<line x1="344.70" y1="1359.09" x2="381.70" y2="1359.09" stroke="#e08020" stroke-width="1.3" stroke-dasharray="1.5 1.5"/>
<line x1="212.20" y1="926.00" x2="212.20" y2="1492.50" stroke="#000" stroke-width="3.2"/>
<line x1="210.50" y1="1491.50" x2="425.60" y2="1491.50" stroke="#000" stroke-width="3.2"/>
<line x1="196.70" y1="1458.10" x2="212.20" y2="1458.10" stroke="#000" stroke-width="3"/>
<text x="187.30" y="1466.50" font-size="23.4" text-anchor="end" stroke="#000" stroke-width="0.47" stroke-linejoin="round">0</text>
<line x1="196.70" y1="1292.25" x2="212.20" y2="1292.25" stroke="#000" stroke-width="3"/>
<text x="187.30" y="1300.65" font-size="23.4" text-anchor="end" stroke="#000" stroke-width="0.47" stroke-linejoin="round">5</text>
<line x1="196.70" y1="1126.40" x2="212.20" y2="1126.40" stroke="#000" stroke-width="3"/>
<text x="187.30" y="1134.80" font-size="23.4" text-anchor="end" stroke="#000" stroke-width="0.47" stroke-linejoin="round">10</text>
<line x1="196.70" y1="960.55" x2="212.20" y2="960.55" stroke="#000" stroke-width="3"/>
<text x="187.30" y="968.95" font-size="23.4" text-anchor="end" stroke="#000" stroke-width="0.47" stroke-linejoin="round">15</text>
<line x1="272.00" y1="1491.00" x2="272.00" y2="1506.70" stroke="#000" stroke-width="3.2"/>
<line x1="363.20" y1="1491.00" x2="363.20" y2="1506.70" stroke="#000" stroke-width="3.2"/>
<text transform="translate(283.70 1527.90) rotate(-45)" font-size="27.5" text-anchor="end" stroke="#000" stroke-width="0.55" stroke-linejoin="round">EV</text>
<text transform="translate(370.20 1526.00) rotate(-45)" font-size="27.5" text-anchor="end" stroke="#000" stroke-width="0.55" stroke-linejoin="round">TRF1</text>
<line x1="229.00" y1="1594.30" x2="425.60" y2="1594.30" stroke="#000" stroke-width="2.8"/>
<text x="288.50" y="1628.00" font-size="27.5" stroke="#000" stroke-width="0.55" stroke-linejoin="round">PCS<tspan font-size="17.875" dy="-11">LT</tspan></text>
<text transform="translate(90.70 1202.70) rotate(-90)" font-size="36.4" text-anchor="middle" stroke="#000" stroke-width="0.73" stroke-linejoin="round"><tspan>PML-telomere co-localization</tspan></text>
<text transform="translate(136.00 1198.00) rotate(-90)" font-size="36.4" text-anchor="middle" stroke="#000" stroke-width="0.73" stroke-linejoin="round"><tspan>events / nucleus</tspan></text>
</g>
<g id="panelE">
<text transform="translate(602.65 907.70) scale(0.958 1)" font-size="51.3" fill="#231f20" stroke="#231f20" stroke-width="0.6">E</text>
<circle cx="906.2" cy="1091.6" r="118.6" fill="none" stroke="#000" stroke-width="2.6"/>
<line x1="792.35" y1="1121.04" x2="781.70" y2="1123.80" stroke="#000" stroke-width="2.4"/>
<line x1="1020.05" y1="1121.04" x2="1030.70" y2="1123.80" stroke="#000" stroke-width="2.4"/>
<path d="M782.2 1115.7 A126.3 126.3 0 1 1 1030.2 1115.7" fill="none" stroke="#3fa9b5" stroke-width="3" stroke-dasharray="4.5 2"/>
<path d="M773.6 1112.6 L783.4 1121.1 L788.9 1107.0" fill="none" stroke="#3fa9b5" stroke-width="2.8"/>
<path d="M1038.8 1112.6 L1029.0 1121.1 L1023.5 1107.0" fill="none" stroke="#3fa9b5" stroke-width="2.8"/>
<path d="M920.7 973.9 A118.6 118.6 0 0 1 969.9 991.6" fill="none" stroke="#ff0000" stroke-width="2.8"/>
<path d="M968.5 979.1 L972.2 991.9 L956.4 993.1" fill="none" stroke="#ff0000" stroke-width="2.8"/>
<circle cx="906.50" cy="973.60" r="8.7" fill="#808080"/>
<text x="796.80" y="960.70" font-size="27.2" fill="#808080" stroke="#808080" stroke-width="0.54" stroke-linejoin="round">SV40 ORI</text>
<text x="945.80" y="960.70" font-size="27.2" fill="#ff0000" stroke="#ff0000" stroke-width="0.54" stroke-linejoin="round">[<tspan font-style="italic">TTAGGG</tspan>]<tspan font-size="18.5" dy="6.2">115</tspan></text>
<text x="1026.30" y="1027.70" font-size="27.3" fill="#3fa9b5" stroke="#3fa9b5" stroke-width="0.55" stroke-linejoin="round">5.2kb probe</text>
<text x="866.80" y="1099.00" font-size="26.7" stroke="#000" stroke-width="0.53" stroke-linejoin="round">pTelN</text>
<text x="775.30" y="1139.90" font-size="27" text-anchor="end" stroke="#000" stroke-width="0.54" stroke-linejoin="round"><tspan font-style="italic">Bam</tspan>HI</text>
<text x="1041.10" y="1139.90" font-size="27" stroke="#000" stroke-width="0.54" stroke-linejoin="round"><tspan font-style="italic">Sac</tspan>I</text>
<text x="1275.40" y="917.20" font-size="27.3" stroke="#000" stroke-width="0.55" stroke-linejoin="round">1st dimension</text>
<text transform="translate(1252.40 1129.70) rotate(-90)" font-size="27.3" stroke="#000" stroke-width="0.55" stroke-linejoin="round">2nd dimension</text>
<path d="M1477.1 923.5 L1258.7 923.5 M1269.2 914.5 L1258.7 923.5 L1269.2 932.5" fill="none" stroke="#000" stroke-width="2.5"/>
<path d="M1260.1 923.5 L1260.1 1141.2 M1251.1 1131.2 L1260.1 1141.2 L1269.1 1131.2" fill="none" stroke="#000" stroke-width="2.5"/>
<path d="M1443.2 1005.4 C1444.8 1000.7 1450.5 995.8 1456.2 990.8 C1461.8 985.7 1469.7 979.3 1477.1 975.1 C1484.4 970.8 1493.4 966.5 1500.0 965.3 C1506.7 964.0 1512.9 964.9 1516.8 967.8 C1520.6 970.6 1522.5 976.1 1523.0 982.4 C1523.6 988.7 1521.8 997.0 1519.9 1005.4 C1518.0 1013.8 1515.0 1023.2 1511.5 1032.6 C1508.1 1042.0 1503.2 1054.9 1499.0 1061.8 C1494.8 1068.8 1490.3 1073.3 1486.5 1074.4 C1482.6 1075.4 1480.0 1073.0 1476.0 1068.1 C1472.0 1063.2 1467.3 1053.3 1462.4 1045.1 C1457.5 1036.9 1450.0 1025.6 1446.8 1019.0 C1443.5 1012.4 1441.6 1010.1 1443.2 1005.4Z" fill="#ff8080"/>
<defs><linearGradient id="cyg" gradientUnits="userSpaceOnUse" x1="1345.4" y1="1089.0" x2="1433.2" y2="1026.3"><stop offset="0" stop-color="#fff"/><stop offset="0.45" stop-color="#d5f9fd"/><stop offset="1" stop-color="#66eaf8"/></linearGradient></defs>
<path d="M1347.5 1089.0 C1354.1 1083.1 1375.7 1063.4 1387.2 1053.5 C1398.7 1043.5 1409.5 1034.1 1416.4 1029.4 C1423.4 1024.7 1425.2 1025.5 1429.0 1025.2 C1432.8 1025.0 1436.3 1025.5 1439.4 1028.0 C1442.6 1030.4 1444.7 1033.9 1447.8 1039.9 C1450.9 1045.9 1454.8 1056.6 1458.2 1063.9 C1461.7 1071.2 1467.0 1080.5 1468.7 1083.8" fill="none" stroke="url(#cyg)" stroke-width="6.3"/>
<circle cx="1282.70" cy="1165.30" r="20.3" fill="#999"/>
<ellipse cx="1283.3" cy="1147.1" rx="15" ry="6.5" fill="#fff"/>
<path d="M1282.7 1151.7 C1293.1 1140.7 1324.5 1108.8 1345.4 1085.9 C1366.3 1062.9 1392.8 1031.2 1408.1 1013.8 C1423.4 996.3 1428.6 990.0 1437.3 981.4 C1446.1 972.7 1451.3 967.6 1460.3 961.9 C1469.4 956.2 1479.1 951.1 1491.7 947.3 C1504.3 943.5 1528.6 940.5 1536.0 939.1" fill="none" stroke="#107c00" stroke-width="8.4"/>
<text x="1305.70" y="1177.80" font-size="27.4" fill="#808080" stroke="#808080" stroke-width="0.55" stroke-linejoin="round">Linear fragment</text>
<text x="1622.80" y="915.50" font-size="27.1" fill="#4a9a42" stroke="#4a9a42" stroke-width="0.54" stroke-linejoin="round">Bubbles</text>
<line x1="1577.00" y1="946.00" x2="1783.00" y2="946.00" stroke="#4a9a42" stroke-width="5"/>
<circle cx="1680.2" cy="946" r="17.7" fill="#fff" stroke="#4a9a42" stroke-width="5.4"/>
<text x="1657.60" y="1005.10" font-size="27.1" fill="#5fe6f6" stroke="#5fe6f6" stroke-width="0.54" stroke-linejoin="round">Y-s</text>
<path d="M1573.7 1015.9 H1672.0 C1694.0 1015.9 1705.8 1027.9 1708.8 1044.9 C1705.8 1062.3 1694.0 1074.3 1672.0 1074.3 H1573.7" fill="none" stroke="#5fe6f6" stroke-width="4.6"/>
<line x1="1708.80" y1="1044.90" x2="1780.00" y2="1044.90" stroke="#5fe6f6" stroke-width="4.6"/>
<text x="1652.20" y="1116.20" font-size="27.1" fill="#ff8080" stroke="#ff8080" stroke-width="0.54" stroke-linejoin="round">RFs</text>
<path d="M1573.7 1125.2 H1672.0 C1694.0 1125.2 1705.8 1137.2 1708.8 1154.2 C1705.8 1171.2 1694.0 1183.2 1672.0 1183.2 H1573.7" fill="none" stroke="#ff8080" stroke-width="4.6"/>
<line x1="1665.80" y1="1154.20" x2="1780.00" y2="1154.20" stroke="#ff8080" stroke-width="4.6"/>
<defs><filter id="gn" x="0" y="0" width="100%" height="100%" color-interpolation-filters="sRGB"><feTurbulence type="fractalNoise" baseFrequency="0.75" numOctaves="2" seed="5"/><feColorMatrix type="matrix" values="0 0 0 0 0 0 0 0 0 0 0 0 0 0 0 0.55 0 0 0 -0.235"/></filter><filter id="gs" x="0" y="0" width="100%" height="100%" color-interpolation-filters="sRGB"><feTurbulence type="fractalNoise" baseFrequency="0.55" numOctaves="1" seed="21"/><feColorMatrix type="matrix" values="0 0 0 0 0 0 0 0 0 0 0 0 0 0 0 0 0 3.2 0 -2.18"/></filter><filter id="gn2" x="0" y="0" width="100%" height="100%" color-interpolation-filters="sRGB"><feTurbulence type="fractalNoise" baseFrequency="0.75" numOctaves="2" seed="11"/><feColorMatrix type="matrix" values="0 0 0 0 1 0 0 0 0 1 0 0 0 0 1 0 0.6 0 0 -0.26"/></filter><filter id="b1" filterUnits="userSpaceOnUse" x="630" y="1220" width="560" height="330"><feGaussianBlur stdDeviation="1.3"/></filter><filter id="b2" filterUnits="userSpaceOnUse" x="630" y="1220" width="560" height="330"><feGaussianBlur stdDeviation="2.6"/></filter><filter id="b4" filterUnits="userSpaceOnUse" x="630" y="1220" width="560" height="330"><feGaussianBlur stdDeviation="5"/></filter><filter id="b8" filterUnits="userSpaceOnUse" x="630" y="1220" width="560" height="330"><feGaussianBlur stdDeviation="9"/></filter><clipPath id="gc1"><rect x="651.4" y="1240" width="256.6" height="286.2"/></clipPath><clipPath id="gc2"><rect x="911.2" y="1240" width="256.7" height="286.2"/></clipPath></defs>
<g clip-path="url(#gc1)">
<rect x="651.4" y="1240" width="256.6" height="286.2" fill="#dbdbdb"/>
<rect x="651.4" y="1240" width="256.6" height="286.2" filter="url(#gn2)"/>
<path d="M787.7 1321.3 C796.0 1306.9 803.8 1303.3 810.9 1298.1 C818.1 1292.8 827.3 1285.9 830.9 1289.8 C834.5 1293.6 834.2 1309.4 832.5 1321.3 C830.9 1333.2 825.1 1349.0 820.9 1361.1 C816.8 1373.3 814.8 1385.5 807.6 1394.3 C800.4 1403.2 787.2 1409.0 777.8 1414.2 C768.4 1419.5 754.0 1430.8 751.2 1425.8 C748.4 1420.9 755.1 1401.8 761.2 1384.4 C767.2 1366.9 779.4 1335.7 787.7 1321.3Z" fill="#000" opacity="0.16" filter="url(#b8)"/>
<path d="M737.9 1430.8 C737.9 1423.9 746.8 1403.7 751.2 1400.9 C755.6 1398.2 764.5 1407.3 764.5 1414.2 C764.5 1421.1 755.6 1439.7 751.2 1442.4 C746.8 1445.2 737.9 1437.7 737.9 1430.8Z" fill="#000" opacity="0.25" filter="url(#b8)"/>
<ellipse cx="718.0" cy="1462.3" rx="38.2" ry="36.5" transform="rotate(0 718.0 1462.3)" opacity="0.28" filter="url(#b8)"/>
<ellipse cx="869.0" cy="1289.8" rx="19.9" ry="10.0" transform="rotate(-30 869.0 1289.8)" opacity="0.08" filter="url(#b8)"/>
<path d="M829.2 1279.5 C827.3 1280.1 821.3 1281.6 817.6 1283.5 C813.9 1285.3 810.7 1287.3 806.8 1290.6 C802.9 1293.9 798.1 1298.8 794.4 1303.4 C790.6 1307.9 787.7 1312.4 784.4 1318.0 C781.1 1323.5 777.8 1329.9 774.4 1336.6 C771.1 1343.3 767.8 1350.7 764.5 1358.1 C761.2 1365.6 757.6 1373.6 754.5 1381.4 C751.5 1389.1 748.9 1396.9 746.2 1404.6 C743.6 1412.3 740.0 1423.7 738.8 1427.5" fill="none" stroke="#000" stroke-width="5.5" stroke-linecap="round" opacity="0.6" filter="url(#b2)"/>
<path d="M831.4 1277.0 C830.0 1276.3 826.4 1275.4 823.7 1275.8 C821.0 1276.1 818.5 1277.1 815.2 1279.0 C811.9 1281.0 807.7 1283.7 803.9 1287.3 C800.1 1290.8 795.6 1295.7 792.3 1300.4 C788.9 1305.0 786.2 1310.0 783.7 1314.9 C781.2 1319.8 779.1 1324.7 777.0 1329.6 C775.0 1334.5 772.2 1341.7 771.4 1344.3 C770.7 1346.8 771.0 1347.0 772.5 1344.8 C774.0 1342.6 777.5 1335.7 780.2 1331.2 C782.8 1326.7 785.4 1322.1 788.4 1317.7 C791.4 1313.4 794.6 1309.0 798.1 1305.1 C801.6 1301.1 806.0 1296.9 809.7 1293.9 C813.3 1290.9 817.2 1288.9 820.0 1287.2 C822.8 1285.5 824.4 1285.1 826.4 1283.8 C828.4 1282.6 831.1 1281.1 832.0 1279.9 C832.8 1278.8 832.8 1277.7 831.4 1277.0Z" opacity="1" filter="url(#b1)"/>
<path d="M832.5 1274.4 C830.7 1273.2 826.2 1273.6 823.1 1274.1 C820.1 1274.6 817.7 1275.6 814.3 1277.5 C810.9 1279.5 806.6 1282.3 802.7 1285.9 C798.8 1289.5 794.3 1294.6 790.9 1299.3 C787.5 1303.9 784.8 1309.1 782.2 1314.0 C779.6 1318.9 777.5 1323.9 775.5 1328.9 C773.4 1333.8 771.6 1338.6 769.7 1343.5 C767.8 1348.3 764.7 1355.5 764.2 1358.1 C763.6 1360.7 764.8 1361.2 766.4 1359.2 C768.1 1357.1 771.7 1350.1 774.2 1345.6 C776.8 1341.1 779.1 1336.5 781.7 1332.0 C784.3 1327.5 787.0 1322.9 789.9 1318.6 C792.9 1314.3 796.0 1310.0 799.5 1306.2 C803.0 1302.3 807.3 1298.2 810.9 1295.3 C814.5 1292.4 818.2 1290.4 820.9 1288.7 C823.6 1287.1 824.8 1286.7 827.0 1285.5 C829.2 1284.2 833.2 1283.1 834.2 1281.2 C835.1 1279.4 834.4 1275.6 832.5 1274.4Z" opacity="0.35" filter="url(#b2)"/>
<path d="M832.5 1291.4 C832.0 1295.3 831.1 1304.7 829.2 1314.7 C827.3 1324.6 823.7 1340.1 820.9 1351.2 C818.1 1362.2 814.0 1376.1 812.6 1381.0" fill="none" stroke="#000" stroke-width="4" stroke-linecap="round" opacity="0.22" filter="url(#b4)"/>
<path d="M795.2 1332.9 C796.4 1336.0 800.4 1344.8 802.7 1351.2 C804.9 1357.5 806.7 1365.3 808.5 1371.1 C810.3 1376.9 812.6 1383.5 813.4 1386.0" fill="none" stroke="#000" stroke-width="3" stroke-linecap="round" opacity="0.42" filter="url(#b2)"/>
<ellipse cx="796.8" cy="1334.6" rx="5.0" ry="3.0" transform="rotate(20 796.8 1334.6)" opacity="0.3" filter="url(#b2)"/>
<ellipse cx="797.3" cy="1401.8" rx="9.3" ry="7.3" transform="rotate(-35 797.3 1401.8)" opacity="1" filter="url(#b2)"/>
<ellipse cx="814.3" cy="1389.7" rx="3.7" ry="6.0" transform="rotate(0 814.3 1389.7)" opacity="0.85" filter="url(#b2)"/>
<ellipse cx="846.6" cy="1376.1" rx="3.0" ry="6.6" transform="rotate(-10 846.6 1376.1)" opacity="0.16" filter="url(#b4)"/>
<path d="M791.0 1410.9 C788.3 1412.3 780.0 1416.2 774.4 1419.2 C768.9 1422.2 760.6 1427.5 757.8 1429.2" fill="none" stroke="#000" stroke-width="3" stroke-linecap="round" opacity="0.15" filter="url(#b4)"/>
<ellipse cx="721.7" cy="1459.4" rx="22.1" ry="24.6" transform="rotate(25 721.7 1459.4)" opacity="1" filter="url(#b2)"/>
<ellipse cx="722.2" cy="1459.4" rx="26.6" ry="28.5" transform="rotate(25 722.2 1459.4)" opacity="0.5" filter="url(#b4)"/>
<path d="M668.2 1458.2 C671.3 1458.1 680.7 1457.6 686.5 1457.4 C692.3 1457.1 700.3 1456.7 703.1 1456.5" fill="none" stroke="#000" stroke-width="3" stroke-linecap="round" opacity="0.8" filter="url(#b2)"/>
<path d="M689.8 1456.5 C691.5 1457.0 697.0 1458.1 699.8 1459.0 C702.5 1460.0 705.3 1461.8 706.4 1462.3" fill="none" stroke="#000" stroke-width="9" stroke-linecap="round" opacity="0.9" filter="url(#b2)"/>
<path d="M711.4 1472.3 C709.4 1474.0 703.4 1479.6 699.8 1482.3 C696.2 1484.9 693.1 1484.8 689.8 1488.1 C686.5 1491.4 682.6 1498.4 679.8 1502.2 C677.1 1505.9 674.3 1509.1 673.2 1510.5" fill="none" stroke="#000" stroke-width="11" stroke-linecap="round" opacity="1" filter="url(#b2)"/>
<ellipse cx="689.8" cy="1488.1" rx="10.0" ry="9.0" transform="rotate(-30 689.8 1488.1)" opacity="1" filter="url(#b2)"/>
<ellipse cx="673.5" cy="1510.8" rx="10.6" ry="10.6" transform="rotate(0 673.5 1510.8)" opacity="1" filter="url(#b2)"/>
<ellipse cx="674.0" cy="1510.5" rx="12.4" ry="12.4" transform="rotate(0 674.0 1510.5)" opacity="0.4" filter="url(#b4)"/>
<rect x="651.4" y="1240" width="256.6" height="286.2" filter="url(#gn)"/>
<rect x="651.4" y="1240" width="256.6" height="286.2" filter="url(#gs)"/>
<path d="M871.0 1277.3 L854.0 1285.3" stroke="#ed1c24" stroke-width="2.6" fill="none"/>
<path d="M840.8 1291.4 L852.4 1277.2 L859.2 1291.7 Z" fill="#ed1c24"/>
</g>
<g clip-path="url(#gc2)">
<rect x="911.2" y="1240" width="256.7" height="286.2" fill="#d9d9d9"/>
<rect x="911.2" y="1240" width="256.7" height="286.2" filter="url(#gn2)"/>
<path d="M1054.4 1321.3 C1062.1 1306.9 1069.8 1303.6 1077.6 1298.1 C1085.3 1292.5 1096.7 1284.2 1100.8 1288.1 C1105.0 1292.0 1104.1 1309.1 1102.5 1321.3 C1100.8 1333.5 1095.0 1349.0 1090.9 1361.1 C1086.7 1373.3 1084.8 1385.5 1077.6 1394.3 C1070.4 1403.2 1057.1 1408.1 1047.7 1414.2 C1038.3 1420.3 1023.9 1435.8 1021.2 1430.8 C1018.4 1425.8 1025.6 1402.6 1031.1 1384.4 C1036.7 1366.1 1046.6 1335.7 1054.4 1321.3Z" fill="#000" opacity="0.17" filter="url(#b8)"/>
<path d="M1004.6 1434.1 C1004.0 1426.9 1012.9 1403.7 1017.8 1400.9 C1022.8 1398.2 1033.9 1410.4 1034.4 1417.5 C1035.0 1424.7 1026.1 1441.3 1021.2 1444.1 C1016.2 1446.9 1005.1 1441.3 1004.6 1434.1Z" fill="#000" opacity="0.25" filter="url(#b8)"/>
<ellipse cx="984.7" cy="1467.3" rx="43.1" ry="39.8" transform="rotate(0 984.7 1467.3)" opacity="0.26" filter="url(#b8)"/>
<ellipse cx="1140.6" cy="1284.8" rx="23.2" ry="13.3" transform="rotate(-30 1140.6 1284.8)" opacity="0.08" filter="url(#b8)"/>
<ellipse cx="991.3" cy="1503.8" rx="6.6" ry="19.9" transform="rotate(0 991.3 1503.8)" opacity="0.12" filter="url(#b8)"/>
<path d="M1098.3 1277.3 C1096.5 1278.1 1091.6 1279.9 1087.5 1282.3 C1083.5 1284.6 1078.4 1287.9 1074.3 1291.4 C1070.1 1294.9 1066.2 1298.9 1062.7 1303.4 C1059.1 1307.9 1055.7 1312.8 1052.7 1318.3 C1049.7 1323.8 1047.2 1330.2 1044.4 1336.6 C1041.6 1342.9 1038.9 1349.6 1036.1 1356.5 C1033.3 1363.4 1030.6 1370.6 1027.8 1378.0 C1025.0 1385.5 1022.0 1393.8 1019.5 1401.3 C1017.0 1408.7 1014.8 1416.8 1012.9 1422.9 C1010.9 1428.9 1008.7 1435.0 1007.9 1437.5" fill="none" stroke="#000" stroke-width="5.5" stroke-linecap="round" opacity="0.62" filter="url(#b2)"/>
<path d="M1100.4 1274.7 C1099.0 1274.2 1095.2 1274.1 1092.7 1274.7 C1090.1 1275.3 1088.7 1276.2 1085.2 1278.4 C1081.7 1280.7 1075.8 1284.5 1071.6 1288.3 C1067.4 1292.1 1063.3 1296.5 1059.9 1301.2 C1056.5 1306.0 1053.9 1311.6 1051.3 1316.7 C1048.8 1321.9 1046.7 1327.1 1044.6 1332.2 C1042.5 1337.4 1039.6 1345.0 1038.9 1347.6 C1038.1 1350.2 1038.5 1350.4 1040.0 1348.1 C1041.4 1345.8 1044.9 1338.4 1047.5 1333.6 C1050.1 1328.8 1052.7 1323.9 1055.7 1319.2 C1058.7 1314.5 1061.9 1309.6 1065.4 1305.5 C1068.9 1301.4 1072.9 1297.9 1076.9 1294.5 C1081.0 1291.2 1086.8 1287.7 1089.9 1285.5 C1093.0 1283.3 1093.8 1282.9 1095.7 1281.6 C1097.6 1280.3 1100.5 1278.7 1101.2 1277.6 C1102.0 1276.4 1101.8 1275.2 1100.4 1274.7Z" opacity="1" filter="url(#b1)"/>
<path d="M1101.5 1272.3 C1099.6 1271.3 1094.9 1272.3 1092.0 1273.1 C1089.2 1273.9 1087.8 1274.7 1084.2 1277.0 C1080.6 1279.3 1074.6 1283.0 1070.4 1286.9 C1066.1 1290.7 1061.9 1295.3 1058.5 1300.1 C1055.1 1305.0 1052.4 1310.7 1049.8 1315.9 C1047.3 1321.1 1045.2 1326.3 1043.1 1331.5 C1041.0 1336.7 1039.1 1342.0 1037.3 1347.0 C1035.6 1352.0 1032.9 1358.9 1032.5 1361.5 C1032.0 1364.1 1033.3 1364.5 1034.8 1362.4 C1036.3 1360.3 1039.1 1353.4 1041.5 1348.7 C1043.9 1344.0 1046.4 1339.1 1049.0 1334.3 C1051.6 1329.5 1054.3 1324.7 1057.2 1320.1 C1060.2 1315.4 1063.3 1310.6 1066.8 1306.6 C1070.3 1302.6 1074.2 1299.2 1078.2 1296.0 C1082.2 1292.7 1087.8 1289.1 1090.9 1287.0 C1093.9 1284.8 1094.2 1284.5 1096.3 1283.2 C1098.4 1281.9 1102.6 1280.8 1103.5 1279.0 C1104.3 1277.2 1103.4 1273.3 1101.5 1272.3Z" opacity="0.35" filter="url(#b2)"/>
<path d="M1100.8 1289.8 C1100.0 1294.5 1097.9 1307.2 1095.8 1318.0 C1093.8 1328.8 1090.9 1343.4 1088.4 1354.5 C1085.9 1365.5 1082.1 1379.4 1080.9 1384.4" fill="none" stroke="#000" stroke-width="4" stroke-linecap="round" opacity="0.28" filter="url(#b4)"/>
<path d="M1062.7 1334.6 C1064.0 1337.9 1068.9 1348.4 1070.9 1354.5 C1073.0 1360.6 1073.9 1365.8 1075.1 1371.1 C1076.3 1376.3 1077.9 1383.5 1078.4 1386.0" fill="none" stroke="#000" stroke-width="3" stroke-linecap="round" opacity="0.45" filter="url(#b2)"/>
<ellipse cx="1065.1" cy="1335.4" rx="5.3" ry="3.3" transform="rotate(20 1065.1 1335.4)" opacity="0.32" filter="url(#b2)"/>
<ellipse cx="1063.5" cy="1404.3" rx="10.3" ry="7.6" transform="rotate(-30 1063.5 1404.3)" opacity="1" filter="url(#b2)"/>
<ellipse cx="1080.1" cy="1390.7" rx="3.8" ry="6.3" transform="rotate(0 1080.1 1390.7)" opacity="0.9" filter="url(#b2)"/>
<ellipse cx="1112.4" cy="1376.1" rx="2.5" ry="7.5" transform="rotate(-10 1112.4 1376.1)" opacity="0.16" filter="url(#b4)"/>
<path d="M1054.4 1414.2 C1051.6 1415.6 1043.3 1419.2 1037.8 1422.5 C1032.2 1425.8 1023.9 1432.2 1021.2 1434.1" fill="none" stroke="#000" stroke-width="3" stroke-linecap="round" opacity="0.15" filter="url(#b4)"/>
<path d="M1012.9 1452.4 C1019.8 1452.7 1040.5 1453.5 1054.4 1454.1 C1068.2 1454.6 1088.9 1455.4 1095.8 1455.7" fill="none" stroke="#000" stroke-width="1.6" stroke-linecap="round" opacity="0.3" filter="url(#b2)"/>
<ellipse cx="992.6" cy="1459.9" rx="22.9" ry="24.9" transform="rotate(25 992.6 1459.9)" opacity="1" filter="url(#b2)"/>
<ellipse cx="992.6" cy="1459.9" rx="27.4" ry="29.0" transform="rotate(25 992.6 1459.9)" opacity="0.5" filter="url(#b4)"/>
<path d="M942.3 1456.5 C945.2 1456.2 953.5 1455.1 959.8 1454.4 C966.0 1453.7 976.4 1452.7 979.7 1452.4" fill="none" stroke="#000" stroke-width="10.5" stroke-linecap="round" opacity="1" filter="url(#b2)"/>
<ellipse cx="941.8" cy="1456.5" rx="5.0" ry="5.3" transform="rotate(0 941.8 1456.5)" opacity="1" filter="url(#b2)"/>
<path d="M984.7 1472.3 C982.4 1473.5 975.5 1477.6 971.4 1479.8 C967.2 1482.0 962.9 1483.0 959.8 1485.6 C956.6 1488.2 954.5 1491.9 952.3 1495.5 C950.1 1499.1 947.5 1505.2 946.5 1507.2" fill="none" stroke="#000" stroke-width="17" stroke-linecap="round" opacity="1" filter="url(#b2)"/>
<ellipse cx="946.5" cy="1508.0" rx="12.4" ry="13.3" transform="rotate(0 946.5 1508.0)" opacity="1" filter="url(#b2)"/>
<ellipse cx="946.5" cy="1508.0" rx="15.8" ry="16.6" transform="rotate(0 946.5 1508.0)" opacity="0.4" filter="url(#b4)"/>
<rect x="911.2" y="1240" width="256.7" height="286.2" filter="url(#gn)"/>
<rect x="911.2" y="1240" width="256.7" height="286.2" filter="url(#gs)"/>
<path d="M1142.3 1277.8 L1124.6 1285.6" stroke="#ed1c24" stroke-width="2.6" fill="none"/>
<path d="M1111.3 1291.4 L1123.2 1277.5 L1129.6 1292.1 Z" fill="#ed1c24"/>
</g>
<rect x="651.40" y="1240.00" width="256.60" height="286.20" fill="none" stroke="#000" stroke-width="2.1"/>
<rect x="911.20" y="1240.00" width="256.70" height="286.20" fill="none" stroke="#000" stroke-width="2.1"/>
<text x="770.40" y="1552.20" font-size="27" text-anchor="middle" stroke="#000" stroke-width="0.54" stroke-linejoin="round">EV</text>
<text x="1040.60" y="1552.20" font-size="27" text-anchor="middle" stroke="#000" stroke-width="0.54" stroke-linejoin="round">TRF1</text>
<line x1="644.20" y1="1564.70" x2="1162.60" y2="1564.70" stroke="#000" stroke-width="2.8"/>
<text x="867.00" y="1593.20" font-size="26.7" stroke="#000" stroke-width="0.53" stroke-linejoin="round">pTelN</text>
<rect x="1446.40" y="1320.00" width="63.20" height="171.50" fill="#a0a0a4"/>
<rect x="1541.70" y="1302.80" width="63.60" height="188.70" fill="#a0a0a4"/>
<line x1="1414.20" y1="1266.70" x2="1414.20" y2="1493.00" stroke="#000" stroke-width="3.9"/>
<line x1="1402.40" y1="1491.50" x2="1639.70" y2="1491.50" stroke="#000" stroke-width="3.9"/>
<line x1="1402.40" y1="1320.00" x2="1414.20" y2="1320.00" stroke="#000" stroke-width="3.9"/>
<text x="1397.60" y="1328.40" font-size="23.4" text-anchor="end" stroke="#000" stroke-width="0.47" stroke-linejoin="round">1.0</text>
<line x1="1402.40" y1="1406.00" x2="1414.20" y2="1406.00" stroke="#000" stroke-width="3.9"/>
<text x="1397.60" y="1414.40" font-size="23.4" text-anchor="end" stroke="#000" stroke-width="0.47" stroke-linejoin="round">0.5</text>
<line x1="1402.40" y1="1491.50" x2="1414.20" y2="1491.50" stroke="#000" stroke-width="3.9"/>
<text x="1397.60" y="1499.90" font-size="23.4" text-anchor="end" stroke="#000" stroke-width="0.47" stroke-linejoin="round">0.0</text>
<line x1="1477.50" y1="1491.50" x2="1477.50" y2="1504.00" stroke="#000" stroke-width="3.9"/>
<line x1="1573.10" y1="1491.50" x2="1573.10" y2="1504.00" stroke="#000" stroke-width="3.9"/>
<text transform="translate(1481.60 1533.20) rotate(-45)" font-size="27.5" text-anchor="end" stroke="#000" stroke-width="0.55" stroke-linejoin="round">EV</text>
<text transform="translate(1588.00 1533.20) rotate(-45)" font-size="27.5" text-anchor="end" stroke="#000" stroke-width="0.55" stroke-linejoin="round">TRF1</text>
<line x1="1474.00" y1="1264.60" x2="1576.80" y2="1264.60" stroke="#000" stroke-width="2.5"/>
<text x="1525.40" y="1261.40" font-size="23.6" text-anchor="middle" font-weight="normal" stroke="#000" stroke-width="0.3">0.09</text>
<line x1="1573.14" y1="1297.08" x2="1573.14" y2="1309.59" stroke="#ff0000" stroke-width="3.9"/>
<line x1="1557.14" y1="1297.08" x2="1589.14" y2="1297.08" stroke="#ff0000" stroke-width="3.9"/>
<line x1="1557.14" y1="1309.59" x2="1589.14" y2="1309.59" stroke="#ff0000" stroke-width="3.9"/>
<g fill="#000"><circle cx="1466.6" cy="1320.1" r="3.4"/><circle cx="1477.8" cy="1320.1" r="3.4"/><circle cx="1489.0" cy="1320.1" r="3.4"/><circle cx="1573.8" cy="1291.0" r="3.4"/><circle cx="1562.3" cy="1309.6" r="3.4"/><circle cx="1584.3" cy="1307.9" r="3.4"/></g>
<line x1="1425.40" y1="1602.70" x2="1634.70" y2="1602.70" stroke="#000" stroke-width="2.8"/>
<text x="1491.30" y="1634.10" font-size="27.5" stroke="#000" stroke-width="0.55" stroke-linejoin="round">PCS<tspan font-size="17.875" dy="-11">LT</tspan></text>
<text transform="translate(1274.00 1385.60) rotate(-90)" font-size="36.4" text-anchor="middle" stroke="#000" stroke-width="0.73" stroke-linejoin="round"><tspan>Cone signal/RI</tspan></text>
<text transform="translate(1321.30 1385.60) rotate(-90)" font-size="36.4" text-anchor="middle" stroke="#000" stroke-width="0.73" stroke-linejoin="round"><tspan>(to EV)</tspan></text>
</g>
<g id="panelF">
<text transform="translate(-2.02 1719.20) scale(0.926 1)" font-size="51.3" fill="#231f20" stroke="#231f20" stroke-width="0.6">F</text>
<text x="161.80" y="1718.10" font-size="27" stroke="#000" stroke-width="0.54" stroke-linejoin="round">n =</text>
<text x="261.90" y="1717.20" font-size="27" text-anchor="middle" stroke="#000" stroke-width="0.54" stroke-linejoin="round">48</text>
<text x="382.80" y="1717.20" font-size="27" text-anchor="middle" stroke="#000" stroke-width="0.54" stroke-linejoin="round">41</text>
<text x="498.50" y="1716.00" font-size="27" text-anchor="middle" stroke="#000" stroke-width="0.54" stroke-linejoin="round">26</text>
<text x="611.60" y="1715.30" font-size="27" text-anchor="middle" stroke="#000" stroke-width="0.54" stroke-linejoin="round">51</text>
<text x="726.50" y="1714.60" font-size="27" text-anchor="middle" stroke="#000" stroke-width="0.54" stroke-linejoin="round">36</text>
<line x1="236.00" y1="1857.00" x2="339.70" y2="1857.00" stroke="#008000" stroke-width="2.5"/>
<text x="288.50" y="1855.30" font-size="22.8" text-anchor="middle" font-weight="normal" fill="#008000" stroke="#008000" stroke-width="0.3">&lt;0.0001</text>
<line x1="346.20" y1="1857.00" x2="449.90" y2="1857.00" stroke="#008000" stroke-width="2.5"/>
<text x="398.20" y="1855.30" font-size="22.8" text-anchor="middle" font-weight="normal" fill="#008000" stroke="#008000" stroke-width="0.3">0.0009</text>
<line x1="462.80" y1="1857.00" x2="566.50" y2="1857.00" stroke="#008000" stroke-width="2.5"/>
<text x="514.80" y="1852.60" font-size="22.8" text-anchor="middle" font-weight="normal" fill="#008000" stroke="#008000" stroke-width="0.3">&gt;0.9</text>
<line x1="577.20" y1="1857.00" x2="680.90" y2="1857.00" stroke="#008000" stroke-width="2.5"/>
<text x="628.90" y="1852.60" font-size="22.8" text-anchor="middle" font-weight="normal" fill="#008000" stroke="#008000" stroke-width="0.3">&gt;0.9</text>
<line x1="236.00" y1="1821.80" x2="455.50" y2="1821.80" stroke="#008000" stroke-width="2.5"/>
<text x="346.20" y="1819.10" font-size="22.8" text-anchor="middle" font-weight="normal" fill="#008000" stroke="#008000" stroke-width="0.3">&gt;0.9</text>
<line x1="462.80" y1="1821.80" x2="682.60" y2="1821.80" stroke="#008000" stroke-width="2.5"/>
<text x="572.50" y="1819.10" font-size="22.8" text-anchor="middle" font-weight="normal" fill="#008000" stroke="#008000" stroke-width="0.3">&gt;0.9</text>
<line x1="346.20" y1="1793.80" x2="563.00" y2="1793.80" stroke="#008000" stroke-width="2.5"/>
<text x="454.60" y="1791.20" font-size="22.8" text-anchor="middle" font-weight="normal" fill="#008000" stroke="#008000" stroke-width="0.3">0.002</text>
<line x1="346.20" y1="1758.10" x2="671.90" y2="1758.10" stroke="#008000" stroke-width="2.5"/>
<text x="509.70" y="1755.00" font-size="22.8" text-anchor="middle" font-weight="normal" fill="#008000" stroke="#008000" stroke-width="0.3">0.0001</text>
<line x1="326.70" y1="1865.50" x2="326.70" y2="2296.00" stroke="#000" stroke-width="1.9" stroke-dasharray="1.9 2.3"/>
<line x1="438.50" y1="1865.50" x2="438.50" y2="2296.00" stroke="#000" stroke-width="1.9" stroke-dasharray="1.9 2.3"/>
<line x1="550.20" y1="1865.50" x2="550.20" y2="2296.00" stroke="#000" stroke-width="1.9" stroke-dasharray="1.9 2.3"/>
<line x1="662.00" y1="1865.50" x2="662.00" y2="2296.00" stroke="#000" stroke-width="1.9" stroke-dasharray="1.9 2.3"/>
<line x1="242.70" y1="2054.50" x2="242.70" y2="2140.10" stroke="#000" stroke-width="3.1"/>
<line x1="242.70" y1="2197.90" x2="242.70" y2="2259.20" stroke="#000" stroke-width="3.1"/>
<line x1="233.20" y1="2054.50" x2="252.20" y2="2054.50" stroke="#000" stroke-width="3.1"/>
<line x1="233.20" y1="2259.20" x2="252.20" y2="2259.20" stroke="#000" stroke-width="3.1"/>
<rect x="225.70" y="2140.10" width="34.00" height="57.80" fill="none" stroke="#000" stroke-width="3.1"/>
<line x1="224.15" y1="2170.10" x2="261.25" y2="2170.10" stroke="#000" stroke-width="3.1"/>
<g fill="#008000"><circle cx="242.8" cy="2054.5" r="3.9"/><circle cx="237.6" cy="2068.2" r="3.9"/><circle cx="248.2" cy="2066.3" r="3.9"/><circle cx="242.8" cy="2089.4" r="3.9"/><circle cx="237.6" cy="2094.5" r="3.9"/><circle cx="243.6" cy="2095.9" r="3.9"/><circle cx="242.8" cy="2102.6" r="3.9"/><circle cx="237.6" cy="2111.5" r="3.9"/><circle cx="242.8" cy="2113.9" r="3.9"/><circle cx="247.9" cy="2115.7" r="3.9"/><circle cx="227.0" cy="2142.2" r="3.9"/><circle cx="232.2" cy="2139.3" r="3.9"/><circle cx="237.6" cy="2137.9" r="3.9"/><circle cx="242.8" cy="2141.5" r="3.9"/><circle cx="247.9" cy="2142.2" r="3.9"/><circle cx="253.1" cy="2136.5" r="3.9"/><circle cx="258.1" cy="2143.6" r="3.9"/><circle cx="253.1" cy="2144.3" r="3.9"/><circle cx="237.6" cy="2146.8" r="3.9"/><circle cx="242.8" cy="2149.2" r="3.9"/><circle cx="242.8" cy="2155.6" r="3.9"/><circle cx="247.9" cy="2161.5" r="3.9"/><circle cx="253.1" cy="2166.9" r="3.9"/><circle cx="242.8" cy="2169.0" r="3.9"/><circle cx="232.2" cy="2171.9" r="3.9"/><circle cx="237.6" cy="2174.0" r="3.9"/><circle cx="247.9" cy="2174.3" r="3.9"/><circle cx="253.1" cy="2174.0" r="3.9"/><circle cx="232.2" cy="2181.0" r="3.9"/><circle cx="237.6" cy="2179.6" r="3.9"/><circle cx="242.8" cy="2181.0" r="3.9"/><circle cx="247.9" cy="2182.5" r="3.9"/><circle cx="253.1" cy="2184.2" r="3.9"/><circle cx="232.2" cy="2188.1" r="3.9"/><circle cx="237.6" cy="2186.0" r="3.9"/><circle cx="247.9" cy="2198.0" r="3.9"/><circle cx="242.8" cy="2200.1" r="3.9"/><circle cx="237.6" cy="2202.3" r="3.9"/><circle cx="232.2" cy="2204.8" r="3.9"/><circle cx="253.1" cy="2205.8" r="3.9"/><circle cx="242.8" cy="2207.2" r="3.9"/><circle cx="237.6" cy="2210.5" r="3.9"/><circle cx="237.6" cy="2233.1" r="3.9"/><circle cx="242.8" cy="2229.8" r="3.9"/><circle cx="247.9" cy="2232.6" r="3.9"/><circle cx="242.8" cy="2236.2" r="3.9"/><circle cx="242.8" cy="2249.9" r="3.9"/><circle cx="242.8" cy="2258.8" r="3.9"/></g>
<line x1="298.70" y1="2026.10" x2="298.70" y2="2192.20" stroke="#000" stroke-width="3.1"/>
<line x1="298.70" y1="2246.00" x2="298.70" y2="2280.40" stroke="#000" stroke-width="3.1"/>
<line x1="289.20" y1="2026.10" x2="308.20" y2="2026.10" stroke="#000" stroke-width="3.1"/>
<line x1="289.20" y1="2280.40" x2="308.20" y2="2280.40" stroke="#000" stroke-width="3.1"/>
<rect x="281.70" y="2192.20" width="34.00" height="53.80" fill="none" stroke="#000" stroke-width="3.1"/>
<line x1="280.15" y1="2225.30" x2="317.25" y2="2225.30" stroke="#000" stroke-width="3.1"/>
<g fill="#000"><circle cx="300.5" cy="2025.8" r="3.9"/><circle cx="300.9" cy="2082.8" r="3.9"/><circle cx="296.2" cy="2099.3" r="3.9"/><circle cx="296.2" cy="2127.0" r="3.9"/><circle cx="300.9" cy="2124.5" r="3.9"/><circle cx="296.2" cy="2162.0" r="3.9"/><circle cx="300.9" cy="2163.0" r="3.9"/><circle cx="295.8" cy="2174.7" r="3.9"/><circle cx="291.7" cy="2182.7" r="3.9"/><circle cx="296.2" cy="2189.2" r="3.9"/><circle cx="300.9" cy="2191.7" r="3.9"/><circle cx="305.4" cy="2188.1" r="3.9"/><circle cx="291.7" cy="2205.8" r="3.9"/><circle cx="300.9" cy="2202.5" r="3.9"/><circle cx="305.4" cy="2203.4" r="3.9"/><circle cx="310.4" cy="2203.7" r="3.9"/><circle cx="291.7" cy="2212.9" r="3.9"/><circle cx="296.2" cy="2210.7" r="3.9"/><circle cx="300.9" cy="2211.4" r="3.9"/><circle cx="305.4" cy="2210.7" r="3.9"/><circle cx="296.2" cy="2217.8" r="3.9"/><circle cx="300.9" cy="2218.9" r="3.9"/><circle cx="305.4" cy="2217.8" r="3.9"/><circle cx="296.2" cy="2225.6" r="3.9"/><circle cx="300.9" cy="2224.9" r="3.9"/><circle cx="305.4" cy="2223.5" r="3.9"/><circle cx="310.4" cy="2230.5" r="3.9"/><circle cx="300.9" cy="2233.4" r="3.9"/><circle cx="305.4" cy="2231.9" r="3.9"/><circle cx="287.0" cy="2237.3" r="3.9"/><circle cx="282.8" cy="2237.9" r="3.9"/><circle cx="291.7" cy="2240.4" r="3.9"/><circle cx="296.2" cy="2241.8" r="3.9"/><circle cx="300.9" cy="2239.7" r="3.9"/><circle cx="310.4" cy="2237.9" r="3.9"/><circle cx="315.0" cy="2237.9" r="3.9"/><circle cx="296.2" cy="2248.2" r="3.9"/><circle cx="300.9" cy="2250.3" r="3.9"/><circle cx="305.4" cy="2249.6" r="3.9"/><circle cx="296.2" cy="2254.6" r="3.9"/><circle cx="291.7" cy="2259.5" r="3.9"/><circle cx="300.9" cy="2263.0" r="3.9"/><circle cx="291.7" cy="2266.6" r="3.9"/><circle cx="296.2" cy="2265.9" r="3.9"/><circle cx="305.4" cy="2266.1" r="3.9"/><circle cx="291.7" cy="2280.3" r="3.9"/><circle cx="300.5" cy="2280.3" r="3.9"/><circle cx="305.4" cy="2280.3" r="3.9"/></g>
<line x1="354.50" y1="2094.50" x2="354.50" y2="2199.30" stroke="#000" stroke-width="3.1"/>
<line x1="354.50" y1="2250.20" x2="354.50" y2="2280.40" stroke="#000" stroke-width="3.1"/>
<line x1="345.00" y1="2094.50" x2="364.00" y2="2094.50" stroke="#000" stroke-width="3.1"/>
<line x1="345.00" y1="2280.40" x2="364.00" y2="2280.40" stroke="#000" stroke-width="3.1"/>
<rect x="337.50" y="2199.30" width="34.00" height="50.90" fill="none" stroke="#000" stroke-width="3.1"/>
<line x1="335.95" y1="2230.80" x2="373.05" y2="2230.80" stroke="#000" stroke-width="3.1"/>
<g fill="#008000"><circle cx="354.5" cy="2094.5" r="3.9"/><circle cx="354.5" cy="2127.3" r="3.9"/><circle cx="354.5" cy="2155.2" r="3.9"/><circle cx="349.2" cy="2163.4" r="3.9"/><circle cx="359.8" cy="2162.7" r="3.9"/><circle cx="354.5" cy="2174.0" r="3.9"/><circle cx="349.2" cy="2179.4" r="3.9"/><circle cx="359.8" cy="2177.5" r="3.9"/><circle cx="354.5" cy="2193.3" r="3.9"/><circle cx="354.5" cy="2200.8" r="3.9"/><circle cx="344.3" cy="2212.9" r="3.9"/><circle cx="349.2" cy="2213.6" r="3.9"/><circle cx="359.8" cy="2212.4" r="3.9"/><circle cx="365.1" cy="2210.5" r="3.9"/><circle cx="354.5" cy="2218.9" r="3.9"/><circle cx="344.3" cy="2222.0" r="3.9"/><circle cx="349.2" cy="2224.9" r="3.9"/><circle cx="354.5" cy="2226.3" r="3.9"/><circle cx="365.1" cy="2228.4" r="3.9"/><circle cx="339.1" cy="2230.8" r="3.9"/><circle cx="344.3" cy="2231.9" r="3.9"/><circle cx="349.2" cy="2233.4" r="3.9"/><circle cx="344.3" cy="2236.2" r="3.9"/><circle cx="349.2" cy="2237.6" r="3.9"/><circle cx="354.5" cy="2236.2" r="3.9"/><circle cx="359.8" cy="2234.8" r="3.9"/><circle cx="365.1" cy="2236.2" r="3.9"/><circle cx="349.2" cy="2241.8" r="3.9"/><circle cx="354.5" cy="2241.8" r="3.9"/><circle cx="359.8" cy="2243.2" r="3.9"/><circle cx="344.3" cy="2248.2" r="3.9"/><circle cx="359.8" cy="2251.0" r="3.9"/><circle cx="349.2" cy="2253.9" r="3.9"/><circle cx="354.5" cy="2251.7" r="3.9"/><circle cx="339.1" cy="2264.5" r="3.9"/><circle cx="344.3" cy="2261.9" r="3.9"/><circle cx="349.2" cy="2266.6" r="3.9"/><circle cx="354.5" cy="2264.5" r="3.9"/><circle cx="359.8" cy="2264.5" r="3.9"/><circle cx="365.1" cy="2265.2" r="3.9"/><circle cx="370.4" cy="2265.9" r="3.9"/><circle cx="354.5" cy="2280.3" r="3.9"/></g>
<line x1="410.70" y1="2192.40" x2="410.70" y2="2243.50" stroke="#000" stroke-width="3.1"/>
<line x1="410.70" y1="2262.80" x2="410.70" y2="2280.40" stroke="#000" stroke-width="3.1"/>
<line x1="401.20" y1="2192.40" x2="420.20" y2="2192.40" stroke="#000" stroke-width="3.1"/>
<line x1="401.20" y1="2280.40" x2="420.20" y2="2280.40" stroke="#000" stroke-width="3.1"/>
<rect x="393.70" y="2243.50" width="34.00" height="19.30" fill="none" stroke="#000" stroke-width="3.1"/>
<line x1="392.15" y1="2254.70" x2="429.25" y2="2254.70" stroke="#000" stroke-width="3.1"/>
<g fill="#000"><circle cx="411.4" cy="2192.4" r="3.9"/><circle cx="409.3" cy="2197.3" r="3.9"/><circle cx="410.5" cy="2213.6" r="3.9"/><circle cx="405.8" cy="2230.5" r="3.9"/><circle cx="410.5" cy="2228.4" r="3.9"/><circle cx="415.0" cy="2232.2" r="3.9"/><circle cx="410.5" cy="2237.6" r="3.9"/><circle cx="396.6" cy="2245.8" r="3.9"/><circle cx="404.0" cy="2245.8" r="3.9"/><circle cx="411.4" cy="2245.8" r="3.9"/><circle cx="418.9" cy="2245.8" r="3.9"/><circle cx="426.3" cy="2245.8" r="3.9"/><circle cx="400.1" cy="2251.0" r="3.9"/><circle cx="407.0" cy="2251.0" r="3.9"/><circle cx="413.8" cy="2251.0" r="3.9"/><circle cx="420.6" cy="2251.0" r="3.9"/><circle cx="393.8" cy="2256.0" r="3.9"/><circle cx="407.2" cy="2256.7" r="3.9"/><circle cx="412.1" cy="2256.0" r="3.9"/><circle cx="427.7" cy="2255.3" r="3.9"/><circle cx="393.8" cy="2262.3" r="3.9"/><circle cx="398.6" cy="2262.3" r="3.9"/><circle cx="403.5" cy="2262.3" r="3.9"/><circle cx="408.3" cy="2262.3" r="3.9"/><circle cx="413.2" cy="2262.3" r="3.9"/><circle cx="418.0" cy="2262.3" r="3.9"/><circle cx="422.9" cy="2262.3" r="3.9"/><circle cx="427.7" cy="2262.3" r="3.9"/><circle cx="397.3" cy="2266.6" r="3.9"/><circle cx="402.5" cy="2266.6" r="3.9"/><circle cx="407.8" cy="2266.6" r="3.9"/><circle cx="413.0" cy="2266.6" r="3.9"/><circle cx="418.2" cy="2266.6" r="3.9"/><circle cx="423.5" cy="2266.6" r="3.9"/><circle cx="403.0" cy="2280.3" r="3.9"/><circle cx="407.2" cy="2280.3" r="3.9"/><circle cx="413.6" cy="2280.3" r="3.9"/><circle cx="418.5" cy="2280.3" r="3.9"/></g>
<line x1="466.40" y1="1974.80" x2="466.40" y2="2104.20" stroke="#000" stroke-width="3.1"/>
<line x1="466.40" y1="2242.00" x2="466.40" y2="2266.00" stroke="#000" stroke-width="3.1"/>
<line x1="456.90" y1="1974.80" x2="475.90" y2="1974.80" stroke="#000" stroke-width="3.1"/>
<line x1="456.90" y1="2266.00" x2="475.90" y2="2266.00" stroke="#000" stroke-width="3.1"/>
<rect x="449.40" y="2104.20" width="34.00" height="137.80" fill="none" stroke="#000" stroke-width="3.1"/>
<line x1="447.85" y1="2154.80" x2="484.95" y2="2154.80" stroke="#000" stroke-width="3.1"/>
<g fill="#008000"><circle cx="471.5" cy="1975.0" r="3.9"/><circle cx="471.5" cy="2008.3" r="3.9"/><circle cx="471.5" cy="2038.0" r="3.9"/><circle cx="471.5" cy="2068.7" r="3.9"/><circle cx="471.5" cy="2093.1" r="3.9"/><circle cx="460.7" cy="2096.9" r="3.9"/><circle cx="471.5" cy="2105.1" r="3.9"/><circle cx="460.7" cy="2111.7" r="3.9"/><circle cx="471.5" cy="2111.7" r="3.9"/><circle cx="471.5" cy="2118.2" r="3.9"/><circle cx="471.5" cy="2130.6" r="3.9"/><circle cx="450.5" cy="2153.1" r="3.9"/><circle cx="471.5" cy="2155.4" r="3.9"/><circle cx="482.0" cy="2155.7" r="3.9"/><circle cx="460.7" cy="2160.6" r="3.9"/><circle cx="471.5" cy="2180.1" r="3.9"/><circle cx="471.5" cy="2188.4" r="3.9"/><circle cx="460.7" cy="2218.6" r="3.9"/><circle cx="471.5" cy="2217.9" r="3.9"/><circle cx="460.7" cy="2240.1" r="3.9"/><circle cx="450.5" cy="2251.6" r="3.9"/><circle cx="460.7" cy="2251.6" r="3.9"/><circle cx="471.5" cy="2251.6" r="3.9"/><circle cx="482.0" cy="2251.6" r="3.9"/><circle cx="460.7" cy="2265.6" r="3.9"/><circle cx="471.5" cy="2265.1" r="3.9"/></g>
<line x1="522.20" y1="2174.10" x2="522.20" y2="2224.10" stroke="#000" stroke-width="3.1"/>
<line x1="522.20" y1="2264.50" x2="522.20" y2="2280.40" stroke="#000" stroke-width="3.1"/>
<line x1="512.70" y1="2174.10" x2="531.70" y2="2174.10" stroke="#000" stroke-width="3.1"/>
<line x1="512.70" y1="2280.40" x2="531.70" y2="2280.40" stroke="#000" stroke-width="3.1"/>
<rect x="505.20" y="2224.10" width="34.00" height="40.40" fill="none" stroke="#000" stroke-width="3.1"/>
<line x1="503.65" y1="2251.50" x2="540.75" y2="2251.50" stroke="#000" stroke-width="3.1"/>
<g fill="#000"><circle cx="518.7" cy="2173.7" r="3.9"/><circle cx="525.5" cy="2201.1" r="3.9"/><circle cx="518.7" cy="2208.1" r="3.9"/><circle cx="525.5" cy="2208.1" r="3.9"/><circle cx="518.7" cy="2215.6" r="3.9"/><circle cx="525.5" cy="2218.6" r="3.9"/><circle cx="512.3" cy="2224.6" r="3.9"/><circle cx="531.5" cy="2226.1" r="3.9"/><circle cx="518.7" cy="2228.4" r="3.9"/><circle cx="518.7" cy="2234.4" r="3.9"/><circle cx="525.5" cy="2234.1" r="3.9"/><circle cx="506.0" cy="2251.6" r="3.9"/><circle cx="512.3" cy="2253.1" r="3.9"/><circle cx="518.7" cy="2251.6" r="3.9"/><circle cx="525.5" cy="2251.6" r="3.9"/><circle cx="531.5" cy="2251.6" r="3.9"/><circle cx="538.2" cy="2251.6" r="3.9"/><circle cx="506.0" cy="2265.1" r="3.9"/><circle cx="512.3" cy="2264.4" r="3.9"/><circle cx="531.5" cy="2265.1" r="3.9"/><circle cx="538.2" cy="2265.1" r="3.9"/><circle cx="518.7" cy="2264.4" r="3.9"/><circle cx="525.5" cy="2264.4" r="3.9"/><circle cx="512.3" cy="2280.6" r="3.9"/><circle cx="518.7" cy="2280.6" r="3.9"/><circle cx="525.5" cy="2280.6" r="3.9"/><circle cx="531.5" cy="2280.6" r="3.9"/></g>
<line x1="577.90" y1="2025.60" x2="577.90" y2="2136.90" stroke="#000" stroke-width="3.1"/>
<line x1="577.90" y1="2213.10" x2="577.90" y2="2264.50" stroke="#000" stroke-width="3.1"/>
<line x1="568.40" y1="2025.60" x2="587.40" y2="2025.60" stroke="#000" stroke-width="3.1"/>
<line x1="568.40" y1="2264.50" x2="587.40" y2="2264.50" stroke="#000" stroke-width="3.1"/>
<rect x="560.90" y="2136.90" width="34.00" height="76.20" fill="none" stroke="#000" stroke-width="3.1"/>
<line x1="559.35" y1="2185.10" x2="596.45" y2="2185.10" stroke="#000" stroke-width="3.1"/>
<g fill="#008000"><circle cx="580.9" cy="2026.0" r="3.9"/><circle cx="580.9" cy="2037.7" r="3.9"/><circle cx="574.6" cy="2053.7" r="3.9"/><circle cx="580.9" cy="2053.7" r="3.9"/><circle cx="574.6" cy="2093.4" r="3.9"/><circle cx="574.6" cy="2111.7" r="3.9"/><circle cx="580.9" cy="2117.1" r="3.9"/><circle cx="574.6" cy="2121.6" r="3.9"/><circle cx="587.4" cy="2122.2" r="3.9"/><circle cx="580.9" cy="2125.7" r="3.9"/><circle cx="574.6" cy="2127.6" r="3.9"/><circle cx="568.2" cy="2136.2" r="3.9"/><circle cx="587.4" cy="2136.2" r="3.9"/><circle cx="580.9" cy="2142.2" r="3.9"/><circle cx="574.6" cy="2144.7" r="3.9"/><circle cx="568.2" cy="2161.2" r="3.9"/><circle cx="574.6" cy="2162.4" r="3.9"/><circle cx="587.4" cy="2160.2" r="3.9"/><circle cx="574.6" cy="2168.4" r="3.9"/><circle cx="580.9" cy="2168.4" r="3.9"/><circle cx="587.4" cy="2169.2" r="3.9"/><circle cx="580.9" cy="2175.9" r="3.9"/><circle cx="587.4" cy="2177.7" r="3.9"/><circle cx="561.7" cy="2183.7" r="3.9"/><circle cx="568.2" cy="2184.9" r="3.9"/><circle cx="574.6" cy="2184.2" r="3.9"/><circle cx="580.9" cy="2186.1" r="3.9"/><circle cx="587.4" cy="2184.6" r="3.9"/><circle cx="593.7" cy="2184.9" r="3.9"/><circle cx="574.6" cy="2193.6" r="3.9"/><circle cx="587.4" cy="2196.9" r="3.9"/><circle cx="568.2" cy="2199.4" r="3.9"/><circle cx="574.6" cy="2200.6" r="3.9"/><circle cx="580.9" cy="2204.7" r="3.9"/><circle cx="587.4" cy="2204.7" r="3.9"/><circle cx="568.2" cy="2211.1" r="3.9"/><circle cx="587.4" cy="2210.1" r="3.9"/><circle cx="574.6" cy="2214.1" r="3.9"/><circle cx="580.9" cy="2214.1" r="3.9"/><circle cx="580.9" cy="2222.4" r="3.9"/><circle cx="574.6" cy="2228.7" r="3.9"/><circle cx="568.2" cy="2234.1" r="3.9"/><circle cx="587.4" cy="2234.1" r="3.9"/><circle cx="580.9" cy="2235.9" r="3.9"/><circle cx="574.6" cy="2238.6" r="3.9"/><circle cx="568.2" cy="2245.6" r="3.9"/><circle cx="587.4" cy="2243.1" r="3.9"/><circle cx="574.6" cy="2244.1" r="3.9"/><circle cx="580.9" cy="2247.9" r="3.9"/><circle cx="574.6" cy="2252.7" r="3.9"/><circle cx="574.6" cy="2264.4" r="3.9"/></g>
<line x1="633.90" y1="2160.50" x2="633.90" y2="2220.60" stroke="#000" stroke-width="3.1"/>
<line x1="633.90" y1="2264.50" x2="633.90" y2="2280.40" stroke="#000" stroke-width="3.1"/>
<line x1="624.40" y1="2160.50" x2="643.40" y2="2160.50" stroke="#000" stroke-width="3.1"/>
<line x1="624.40" y1="2280.40" x2="643.40" y2="2280.40" stroke="#000" stroke-width="3.1"/>
<rect x="616.90" y="2220.60" width="34.00" height="43.90" fill="none" stroke="#000" stroke-width="3.1"/>
<line x1="615.35" y1="2235.60" x2="652.45" y2="2235.60" stroke="#000" stroke-width="3.1"/>
<g fill="#000"><circle cx="635.7" cy="2160.2" r="3.9"/><circle cx="631.9" cy="2187.2" r="3.9"/><circle cx="638.7" cy="2197.6" r="3.9"/><circle cx="631.9" cy="2201.4" r="3.9"/><circle cx="635.7" cy="2210.4" r="3.9"/><circle cx="645.4" cy="2210.1" r="3.9"/><circle cx="621.4" cy="2215.6" r="3.9"/><circle cx="625.9" cy="2218.6" r="3.9"/><circle cx="631.9" cy="2217.9" r="3.9"/><circle cx="638.7" cy="2217.1" r="3.9"/><circle cx="645.4" cy="2217.9" r="3.9"/><circle cx="623.7" cy="2224.6" r="3.9"/><circle cx="628.9" cy="2224.6" r="3.9"/><circle cx="634.2" cy="2224.6" r="3.9"/><circle cx="639.4" cy="2224.6" r="3.9"/><circle cx="644.7" cy="2224.6" r="3.9"/><circle cx="625.9" cy="2229.1" r="3.9"/><circle cx="631.4" cy="2229.1" r="3.9"/><circle cx="636.9" cy="2229.1" r="3.9"/><circle cx="642.4" cy="2229.1" r="3.9"/><circle cx="623.7" cy="2233.6" r="3.9"/><circle cx="628.9" cy="2233.6" r="3.9"/><circle cx="634.2" cy="2233.6" r="3.9"/><circle cx="639.4" cy="2233.6" r="3.9"/><circle cx="644.7" cy="2233.6" r="3.9"/><circle cx="626.7" cy="2238.1" r="3.9"/><circle cx="631.7" cy="2238.1" r="3.9"/><circle cx="636.7" cy="2238.1" r="3.9"/><circle cx="641.7" cy="2238.1" r="3.9"/><circle cx="628.2" cy="2247.9" r="3.9"/><circle cx="631.9" cy="2244.1" r="3.9"/><circle cx="638.7" cy="2247.9" r="3.9"/><circle cx="631.9" cy="2254.6" r="3.9"/><circle cx="634.9" cy="2251.6" r="3.9"/><circle cx="621.4" cy="2260.6" r="3.9"/><circle cx="625.9" cy="2262.9" r="3.9"/><circle cx="645.4" cy="2259.9" r="3.9"/><circle cx="628.2" cy="2265.9" r="3.9"/><circle cx="638.7" cy="2265.1" r="3.9"/><circle cx="633.4" cy="2264.4" r="3.9"/><circle cx="617.7" cy="2280.6" r="3.9"/><circle cx="621.8" cy="2280.6" r="3.9"/><circle cx="625.9" cy="2280.6" r="3.9"/><circle cx="630.0" cy="2280.6" r="3.9"/><circle cx="634.2" cy="2280.6" r="3.9"/><circle cx="638.3" cy="2280.6" r="3.9"/><circle cx="642.4" cy="2280.6" r="3.9"/><circle cx="646.5" cy="2280.6" r="3.9"/><circle cx="650.7" cy="2280.6" r="3.9"/></g>
<line x1="690.00" y1="1872.50" x2="690.00" y2="2118.70" stroke="#000" stroke-width="3.1"/>
<line x1="690.00" y1="2212.00" x2="690.00" y2="2255.90" stroke="#000" stroke-width="3.1"/>
<line x1="680.50" y1="1872.50" x2="699.50" y2="1872.50" stroke="#000" stroke-width="3.1"/>
<line x1="680.50" y1="2255.90" x2="699.50" y2="2255.90" stroke="#000" stroke-width="3.1"/>
<rect x="673.00" y="2118.70" width="34.00" height="93.30" fill="none" stroke="#000" stroke-width="3.1"/>
<line x1="671.45" y1="2166.30" x2="708.55" y2="2166.30" stroke="#000" stroke-width="3.1"/>
<g fill="#008000"><circle cx="684.3" cy="1872.6" r="3.9"/><circle cx="684.3" cy="2036.6" r="3.9"/><circle cx="684.3" cy="2057.9" r="3.9"/><circle cx="695.0" cy="2082.8" r="3.9"/><circle cx="684.3" cy="2094.8" r="3.9"/><circle cx="705.7" cy="2093.8" r="3.9"/><circle cx="695.0" cy="2099.7" r="3.9"/><circle cx="684.3" cy="2102.6" r="3.9"/><circle cx="684.3" cy="2117.1" r="3.9"/><circle cx="695.0" cy="2118.5" r="3.9"/><circle cx="695.0" cy="2129.7" r="3.9"/><circle cx="673.9" cy="2143.3" r="3.9"/><circle cx="684.3" cy="2145.3" r="3.9"/><circle cx="695.0" cy="2143.7" r="3.9"/><circle cx="695.0" cy="2153.4" r="3.9"/><circle cx="673.9" cy="2163.3" r="3.9"/><circle cx="684.3" cy="2161.7" r="3.9"/><circle cx="705.7" cy="2165.0" r="3.9"/><circle cx="684.3" cy="2168.9" r="3.9"/><circle cx="695.0" cy="2168.9" r="3.9"/><circle cx="684.3" cy="2181.2" r="3.9"/><circle cx="684.3" cy="2188.3" r="3.9"/><circle cx="673.9" cy="2193.4" r="3.9"/><circle cx="705.7" cy="2189.5" r="3.9"/><circle cx="695.0" cy="2194.2" r="3.9"/><circle cx="705.7" cy="2197.1" r="3.9"/><circle cx="695.0" cy="2200.6" r="3.9"/><circle cx="673.9" cy="2213.6" r="3.9"/><circle cx="705.7" cy="2212.8" r="3.9"/><circle cx="695.0" cy="2216.7" r="3.9"/><circle cx="684.3" cy="2222.5" r="3.9"/><circle cx="695.0" cy="2237.4" r="3.9"/><circle cx="684.3" cy="2240.7" r="3.9"/><circle cx="673.9" cy="2255.5" r="3.9"/><circle cx="695.0" cy="2254.3" r="3.9"/><circle cx="705.7" cy="2254.3" r="3.9"/></g>
<line x1="745.70" y1="2095.00" x2="745.70" y2="2232.80" stroke="#000" stroke-width="3.1"/>
<line x1="745.70" y1="2266.00" x2="745.70" y2="2280.40" stroke="#000" stroke-width="3.1"/>
<line x1="736.20" y1="2095.00" x2="755.20" y2="2095.00" stroke="#000" stroke-width="3.1"/>
<line x1="736.20" y1="2280.40" x2="755.20" y2="2280.40" stroke="#000" stroke-width="3.1"/>
<rect x="728.70" y="2232.80" width="34.00" height="33.20" fill="none" stroke="#000" stroke-width="3.1"/>
<line x1="727.15" y1="2247.20" x2="764.25" y2="2247.20" stroke="#000" stroke-width="3.1"/>
<g fill="#000"><circle cx="747.6" cy="2094.8" r="3.9"/><circle cx="748.0" cy="2198.6" r="3.9"/><circle cx="752.3" cy="2206.0" r="3.9"/><circle cx="743.1" cy="2209.7" r="3.9"/><circle cx="743.1" cy="2225.8" r="3.9"/><circle cx="751.3" cy="2225.8" r="3.9"/><circle cx="729.9" cy="2233.5" r="3.9"/><circle cx="761.6" cy="2232.2" r="3.9"/><circle cx="735.4" cy="2238.4" r="3.9"/><circle cx="743.1" cy="2237.4" r="3.9"/><circle cx="751.3" cy="2237.4" r="3.9"/><circle cx="757.7" cy="2238.4" r="3.9"/><circle cx="761.6" cy="2237.4" r="3.9"/><circle cx="747.6" cy="2245.2" r="3.9"/><circle cx="739.3" cy="2245.2" r="3.9"/><circle cx="754.8" cy="2245.2" r="3.9"/><circle cx="734.4" cy="2252.9" r="3.9"/><circle cx="742.2" cy="2253.9" r="3.9"/><circle cx="749.9" cy="2252.9" r="3.9"/><circle cx="756.7" cy="2252.9" r="3.9"/><circle cx="731.5" cy="2259.7" r="3.9"/><circle cx="760.6" cy="2259.7" r="3.9"/><circle cx="729.6" cy="2267.5" r="3.9"/><circle cx="735.4" cy="2265.6" r="3.9"/><circle cx="742.2" cy="2266.5" r="3.9"/><circle cx="749.9" cy="2266.5" r="3.9"/><circle cx="756.7" cy="2265.6" r="3.9"/><circle cx="761.6" cy="2265.6" r="3.9"/><circle cx="746.1" cy="2271.4" r="3.9"/><circle cx="739.3" cy="2280.7" r="3.9"/><circle cx="745.5" cy="2280.7" r="3.9"/><circle cx="751.3" cy="2280.7" r="3.9"/></g>
<line x1="205.60" y1="1833.70" x2="205.60" y2="2299.20" stroke="#000" stroke-width="3.9"/>
<line x1="203.80" y1="2297.70" x2="786.80" y2="2297.70" stroke="#000" stroke-width="3.9"/>
<line x1="193.00" y1="2280.00" x2="205.60" y2="2280.00" stroke="#000" stroke-width="3.9"/>
<text x="187.30" y="2288.30" font-size="23.3" text-anchor="end" stroke="#000" stroke-width="0.47" stroke-linejoin="round">0</text>
<line x1="193.00" y1="2101.80" x2="205.60" y2="2101.80" stroke="#000" stroke-width="3.9"/>
<text x="187.30" y="2110.10" font-size="23.3" text-anchor="end" stroke="#000" stroke-width="0.47" stroke-linejoin="round">10</text>
<line x1="193.00" y1="1923.60" x2="205.60" y2="1923.60" stroke="#000" stroke-width="3.9"/>
<text x="187.30" y="1931.90" font-size="23.3" text-anchor="end" stroke="#000" stroke-width="0.47" stroke-linejoin="round">20</text>
<text transform="translate(278.70 2314.00) rotate(-45)" font-size="27.5" text-anchor="end" stroke="#000" stroke-width="0.55" stroke-linejoin="round">siLuc</text>
<text transform="translate(384.20 2314.00) rotate(-45)" font-size="27.5" text-anchor="end" stroke="#000" stroke-width="0.55" stroke-linejoin="round">siLuc</text>
<text transform="translate(500.30 2314.00) rotate(-45)" font-size="27.5" text-anchor="end" stroke="#000" stroke-width="0.55" stroke-linejoin="round">siSM1</text>
<text transform="translate(597.10 2314.00) rotate(-45)" font-size="27.5" text-anchor="end" stroke="#000" stroke-width="0.55" stroke-linejoin="round">BIBR</text>
<text transform="translate(715.50 2314.00) rotate(-45)" font-size="27.5" text-anchor="end" stroke="#000" stroke-width="0.55" stroke-linejoin="round">siSM1  + BIBR</text>
<line x1="203.50" y1="2451.60" x2="296.60" y2="2451.60" stroke="#000" stroke-width="2.8"/>
<line x1="320.40" y1="2451.60" x2="809.60" y2="2451.60" stroke="#000" stroke-width="2.8"/>
<text x="188.30" y="2483.60" font-size="27.5" stroke="#000" stroke-width="0.55" stroke-linejoin="round">PCS<tspan font-size="17.875" dy="-11">LT</tspan><tspan dy="11">-EV</tspan></text>
<text x="533.80" y="2483.60" font-size="27.5" stroke="#000" stroke-width="0.55" stroke-linejoin="round">PCS<tspan font-size="17.875" dy="-11">LT</tspan><tspan dy="11">-TRF1</tspan></text>
<text transform="translate(48.40 2070.00) rotate(-90)" font-size="36.4" text-anchor="middle" stroke="#000" stroke-width="0.73" stroke-linejoin="round"><tspan fill="#008000" stroke="#008000">Lagging</tspan> and Leading</text>
<text transform="translate(94.00 2070.50) rotate(-90)" font-size="36.4" text-anchor="middle" stroke="#000" stroke-width="0.73" stroke-linejoin="round"><tspan>telomere fragility</tspan></text>
<text transform="translate(139.70 2064.50) rotate(-90)" font-size="36.4" text-anchor="middle" stroke="#000" stroke-width="0.73" stroke-linejoin="round"><tspan>(% telomeres per metaphase)</tspan></text>
</g>
<g id="panelG">
<text transform="translate(943.64 1719.70) scale(1.02 1)" font-size="51.3" fill="#231f20" stroke="#231f20" stroke-width="0.6">G</text>
<text x="1107.70" y="1718.20" font-size="27" stroke="#000" stroke-width="0.54" stroke-linejoin="round">n =</text>
<text x="1210.30" y="1717.50" font-size="27" text-anchor="middle" stroke="#000" stroke-width="0.54" stroke-linejoin="round">27</text>
<text x="1324.60" y="1717.50" font-size="27" text-anchor="middle" stroke="#000" stroke-width="0.54" stroke-linejoin="round">35</text>
<text x="1430.80" y="1717.50" font-size="27" text-anchor="middle" stroke="#000" stroke-width="0.54" stroke-linejoin="round">29</text>
<line x1="1250.10" y1="1747.40" x2="1469.50" y2="1747.40" stroke="#000" stroke-width="2.5"/>
<text x="1359.60" y="1745.40" font-size="22.8" text-anchor="middle" font-weight="normal" stroke="#000" stroke-width="0.3">&gt;0.9</text>
<line x1="1250.10" y1="1782.00" x2="1354.10" y2="1782.00" stroke="#000" stroke-width="2.5"/>
<text x="1301.70" y="1777.30" font-size="22.8" text-anchor="middle" font-weight="normal" stroke="#000" stroke-width="0.3">0.02</text>
<line x1="1362.20" y1="1782.00" x2="1465.50" y2="1782.00" stroke="#000" stroke-width="2.5"/>
<text x="1414.90" y="1777.30" font-size="22.8" text-anchor="middle" font-weight="normal" stroke="#000" stroke-width="0.3">0.001</text>
<line x1="1191.80" y1="1810.80" x2="1410.50" y2="1810.80" stroke="#008000" stroke-width="2.5"/>
<text x="1301.40" y="1808.40" font-size="22.8" text-anchor="middle" font-weight="normal" fill="#008000" stroke="#008000" stroke-width="0.3">&gt;0.9</text>
<line x1="1191.80" y1="1853.90" x2="1295.10" y2="1853.90" stroke="#008000" stroke-width="2.5"/>
<text x="1246.40" y="1849.20" font-size="22.8" text-anchor="middle" font-weight="normal" fill="#008000" stroke="#008000" stroke-width="0.3">&lt;0.0001</text>
<line x1="1300.60" y1="1853.90" x2="1403.90" y2="1853.90" stroke="#008000" stroke-width="2.5"/>
<text x="1352.20" y="1849.20" font-size="22.8" text-anchor="middle" font-weight="normal" fill="#008000" stroke="#008000" stroke-width="0.3">0.002</text>
<line x1="1267.80" y1="1863.20" x2="1267.80" y2="2292.50" stroke="#000" stroke-width="1.9" stroke-dasharray="1.9 2.3"/>
<line x1="1377.50" y1="1863.20" x2="1377.50" y2="2292.50" stroke="#000" stroke-width="1.9" stroke-dasharray="1.9 2.3"/>
<line x1="1186.10" y1="1999.60" x2="1186.10" y2="2085.00" stroke="#000" stroke-width="2.9"/>
<line x1="1186.10" y1="2167.60" x2="1186.10" y2="2186.10" stroke="#000" stroke-width="2.9"/>
<line x1="1176.60" y1="1999.60" x2="1195.60" y2="1999.60" stroke="#000" stroke-width="2.9"/>
<line x1="1176.60" y1="2186.10" x2="1195.60" y2="2186.10" stroke="#000" stroke-width="2.9"/>
<rect x="1169.50" y="2085.00" width="33.20" height="82.60" fill="none" stroke="#000" stroke-width="2.9"/>
<line x1="1168.05" y1="2131.00" x2="1204.15" y2="2131.00" stroke="#000" stroke-width="2.9"/>
<g fill="#008000"><circle cx="1180.8" cy="1999.8" r="3.8"/><circle cx="1191.2" cy="2016.6" r="3.8"/><circle cx="1191.2" cy="2040.4" r="3.8"/><circle cx="1180.8" cy="2054.5" r="3.8"/><circle cx="1180.8" cy="2064.7" r="3.8"/><circle cx="1180.8" cy="2078.4" r="3.8"/><circle cx="1191.2" cy="2084.5" r="3.8"/><circle cx="1191.2" cy="2090.4" r="3.8"/><circle cx="1201.7" cy="2096.1" r="3.8"/><circle cx="1180.8" cy="2101.6" r="3.8"/><circle cx="1191.2" cy="2101.6" r="3.8"/><circle cx="1180.8" cy="2125.9" r="3.8"/><circle cx="1191.2" cy="2123.8" r="3.8"/><circle cx="1191.2" cy="2131.0" r="3.8"/><circle cx="1170.7" cy="2144.4" r="3.8"/><circle cx="1180.8" cy="2144.4" r="3.8"/><circle cx="1201.7" cy="2148.1" r="3.8"/><circle cx="1180.8" cy="2151.9" r="3.8"/><circle cx="1191.2" cy="2151.9" r="3.8"/><circle cx="1170.7" cy="2168.6" r="3.8"/><circle cx="1180.8" cy="2166.5" r="3.8"/><circle cx="1191.2" cy="2168.6" r="3.8"/><circle cx="1180.8" cy="2174.0" r="3.8"/><circle cx="1201.7" cy="2176.4" r="3.8"/><circle cx="1170.7" cy="2178.1" r="3.8"/><circle cx="1191.2" cy="2178.5" r="3.8"/><circle cx="1180.8" cy="2185.7" r="3.8"/></g>
<line x1="1240.80" y1="2061.70" x2="1240.80" y2="2145.10" stroke="#000" stroke-width="2.9"/>
<line x1="1240.80" y1="2199.30" x2="1240.80" y2="2235.60" stroke="#000" stroke-width="2.9"/>
<line x1="1231.30" y1="2061.70" x2="1250.30" y2="2061.70" stroke="#000" stroke-width="2.9"/>
<line x1="1231.30" y1="2235.60" x2="1250.30" y2="2235.60" stroke="#000" stroke-width="2.9"/>
<rect x="1224.20" y="2145.10" width="33.20" height="54.20" fill="none" stroke="#000" stroke-width="2.9"/>
<line x1="1222.75" y1="2170.70" x2="1258.85" y2="2170.70" stroke="#000" stroke-width="2.9"/>
<g fill="#000"><circle cx="1245.8" cy="2061.7" r="3.8"/><circle cx="1245.8" cy="2081.1" r="3.8"/><circle cx="1235.4" cy="2090.4" r="3.8"/><circle cx="1235.4" cy="2098.2" r="3.8"/><circle cx="1235.4" cy="2115.6" r="3.8"/><circle cx="1245.8" cy="2120.5" r="3.8"/><circle cx="1225.3" cy="2144.0" r="3.8"/><circle cx="1256.1" cy="2144.0" r="3.8"/><circle cx="1235.4" cy="2148.3" r="3.8"/><circle cx="1245.8" cy="2148.3" r="3.8"/><circle cx="1235.4" cy="2157.9" r="3.8"/><circle cx="1245.8" cy="2159.0" r="3.8"/><circle cx="1225.3" cy="2166.5" r="3.8"/><circle cx="1245.8" cy="2170.6" r="3.8"/><circle cx="1256.1" cy="2171.7" r="3.8"/><circle cx="1225.3" cy="2174.3" r="3.8"/><circle cx="1235.4" cy="2174.7" r="3.8"/><circle cx="1245.8" cy="2178.8" r="3.8"/><circle cx="1245.8" cy="2197.3" r="3.8"/><circle cx="1256.1" cy="2197.0" r="3.8"/><circle cx="1235.4" cy="2200.7" r="3.8"/><circle cx="1245.8" cy="2207.1" r="3.8"/><circle cx="1225.3" cy="2216.4" r="3.8"/><circle cx="1256.1" cy="2216.7" r="3.8"/><circle cx="1235.4" cy="2219.8" r="3.8"/><circle cx="1245.8" cy="2219.8" r="3.8"/><circle cx="1235.4" cy="2235.3" r="3.8"/></g>
<line x1="1295.40" y1="1999.60" x2="1295.40" y2="2157.60" stroke="#000" stroke-width="2.9"/>
<line x1="1295.40" y1="2230.50" x2="1295.40" y2="2264.90" stroke="#000" stroke-width="2.9"/>
<line x1="1285.90" y1="1999.60" x2="1304.90" y2="1999.60" stroke="#000" stroke-width="2.9"/>
<line x1="1285.90" y1="2264.90" x2="1304.90" y2="2264.90" stroke="#000" stroke-width="2.9"/>
<rect x="1278.80" y="2157.60" width="33.20" height="72.90" fill="none" stroke="#000" stroke-width="2.9"/>
<line x1="1277.35" y1="2206.50" x2="1313.45" y2="2206.50" stroke="#000" stroke-width="2.9"/>
<g fill="#008000"><circle cx="1298.7" cy="1999.8" r="3.8"/><circle cx="1292.3" cy="2065.7" r="3.8"/><circle cx="1298.7" cy="2072.2" r="3.8"/><circle cx="1298.7" cy="2084.5" r="3.8"/><circle cx="1304.6" cy="2136.2" r="3.8"/><circle cx="1286.0" cy="2144.4" r="3.8"/><circle cx="1292.3" cy="2144.4" r="3.8"/><circle cx="1304.6" cy="2144.4" r="3.8"/><circle cx="1292.3" cy="2157.6" r="3.8"/><circle cx="1298.7" cy="2156.3" r="3.8"/><circle cx="1298.7" cy="2165.2" r="3.8"/><circle cx="1292.3" cy="2168.8" r="3.8"/><circle cx="1298.7" cy="2172.0" r="3.8"/><circle cx="1292.3" cy="2187.4" r="3.8"/><circle cx="1298.7" cy="2190.2" r="3.8"/><circle cx="1298.7" cy="2201.4" r="3.8"/><circle cx="1304.6" cy="2200.3" r="3.8"/><circle cx="1292.3" cy="2206.8" r="3.8"/><circle cx="1310.7" cy="2208.9" r="3.8"/><circle cx="1280.0" cy="2211.3" r="3.8"/><circle cx="1298.7" cy="2210.2" r="3.8"/><circle cx="1286.0" cy="2217.1" r="3.8"/><circle cx="1292.3" cy="2215.3" r="3.8"/><circle cx="1298.7" cy="2217.8" r="3.8"/><circle cx="1304.6" cy="2215.3" r="3.8"/><circle cx="1310.7" cy="2217.1" r="3.8"/><circle cx="1286.0" cy="2231.8" r="3.8"/><circle cx="1280.0" cy="2241.0" r="3.8"/><circle cx="1286.0" cy="2241.0" r="3.8"/><circle cx="1292.3" cy="2241.7" r="3.8"/><circle cx="1298.7" cy="2241.7" r="3.8"/><circle cx="1304.6" cy="2239.6" r="3.8"/><circle cx="1310.7" cy="2241.0" r="3.8"/><circle cx="1292.3" cy="2264.9" r="3.8"/><circle cx="1298.7" cy="2264.9" r="3.8"/></g>
<line x1="1350.10" y1="2040.60" x2="1350.10" y2="2145.60" stroke="#000" stroke-width="2.9"/>
<line x1="1350.10" y1="2264.90" x2="1350.10" y2="2264.90" stroke="#000" stroke-width="2.9"/>
<line x1="1340.60" y1="2040.60" x2="1359.60" y2="2040.60" stroke="#000" stroke-width="2.9"/>
<line x1="1340.60" y1="2264.90" x2="1359.60" y2="2264.90" stroke="#000" stroke-width="2.9"/>
<rect x="1333.50" y="2145.60" width="33.20" height="119.30" fill="none" stroke="#000" stroke-width="2.9"/>
<line x1="1332.05" y1="2218.60" x2="1368.15" y2="2218.60" stroke="#000" stroke-width="2.9"/>
<g fill="#000"><circle cx="1349.9" cy="2040.1" r="3.8"/><circle cx="1349.9" cy="2096.6" r="3.8"/><circle cx="1349.9" cy="2104.6" r="3.8"/><circle cx="1349.9" cy="2115.6" r="3.8"/><circle cx="1349.9" cy="2124.8" r="3.8"/><circle cx="1349.9" cy="2135.8" r="3.8"/><circle cx="1345.8" cy="2140.1" r="3.8"/><circle cx="1354.0" cy="2140.1" r="3.8"/><circle cx="1349.9" cy="2144.0" r="3.8"/><circle cx="1349.9" cy="2157.9" r="3.8"/><circle cx="1349.9" cy="2192.5" r="3.8"/><circle cx="1342.4" cy="2207.1" r="3.8"/><circle cx="1357.7" cy="2208.9" r="3.8"/><circle cx="1349.9" cy="2211.6" r="3.8"/><circle cx="1342.4" cy="2215.3" r="3.8"/><circle cx="1357.7" cy="2216.4" r="3.8"/><circle cx="1346.5" cy="2218.4" r="3.8"/><circle cx="1353.4" cy="2218.4" r="3.8"/><circle cx="1349.9" cy="2228.7" r="3.8"/><circle cx="1342.4" cy="2241.0" r="3.8"/><circle cx="1346.5" cy="2241.3" r="3.8"/><circle cx="1349.9" cy="2241.7" r="3.8"/><circle cx="1354.0" cy="2240.3" r="3.8"/><circle cx="1357.7" cy="2238.9" r="3.8"/><circle cx="1361.6" cy="2241.3" r="3.8"/><circle cx="1334.9" cy="2264.9" r="3.8"/><circle cx="1338.7" cy="2264.9" r="3.8"/><circle cx="1342.4" cy="2264.9" r="3.8"/><circle cx="1346.2" cy="2264.9" r="3.8"/><circle cx="1349.9" cy="2264.9" r="3.8"/><circle cx="1353.7" cy="2264.9" r="3.8"/><circle cx="1357.5" cy="2264.9" r="3.8"/><circle cx="1361.2" cy="2264.9" r="3.8"/><circle cx="1365.0" cy="2264.9" r="3.8"/></g>
<line x1="1404.60" y1="1868.60" x2="1404.60" y2="2079.50" stroke="#000" stroke-width="2.9"/>
<line x1="1404.60" y1="2189.50" x2="1404.60" y2="2218.40" stroke="#000" stroke-width="2.9"/>
<line x1="1395.10" y1="1868.60" x2="1414.10" y2="1868.60" stroke="#000" stroke-width="2.9"/>
<line x1="1395.10" y1="2218.40" x2="1414.10" y2="2218.40" stroke="#000" stroke-width="2.9"/>
<rect x="1388.00" y="2079.50" width="33.20" height="110.00" fill="none" stroke="#000" stroke-width="2.9"/>
<line x1="1386.55" y1="2144.60" x2="1422.65" y2="2144.60" stroke="#000" stroke-width="2.9"/>
<g fill="#008000"><circle cx="1401.6" cy="1868.8" r="3.8"/><circle cx="1407.8" cy="1976.1" r="3.8"/><circle cx="1407.8" cy="1985.3" r="3.8"/><circle cx="1407.8" cy="2000.0" r="3.8"/><circle cx="1407.8" cy="2039.2" r="3.8"/><circle cx="1401.6" cy="2067.7" r="3.8"/><circle cx="1401.6" cy="2078.6" r="3.8"/><circle cx="1407.8" cy="2078.6" r="3.8"/><circle cx="1407.8" cy="2107.1" r="3.8"/><circle cx="1395.6" cy="2120.3" r="3.8"/><circle cx="1407.8" cy="2120.3" r="3.8"/><circle cx="1414.0" cy="2120.3" r="3.8"/><circle cx="1401.6" cy="2127.5" r="3.8"/><circle cx="1401.6" cy="2145.0" r="3.8"/><circle cx="1407.8" cy="2145.0" r="3.8"/><circle cx="1401.6" cy="2151.7" r="3.8"/><circle cx="1407.8" cy="2156.2" r="3.8"/><circle cx="1401.6" cy="2159.5" r="3.8"/><circle cx="1401.6" cy="2172.1" r="3.8"/><circle cx="1407.8" cy="2174.5" r="3.8"/><circle cx="1407.8" cy="2183.2" r="3.8"/><circle cx="1401.6" cy="2190.0" r="3.8"/><circle cx="1420.1" cy="2192.5" r="3.8"/><circle cx="1389.4" cy="2194.8" r="3.8"/><circle cx="1395.6" cy="2195.4" r="3.8"/><circle cx="1407.8" cy="2195.4" r="3.8"/><circle cx="1414.0" cy="2195.4" r="3.8"/><circle cx="1401.6" cy="2218.1" r="3.8"/><circle cx="1407.8" cy="2216.8" r="3.8"/></g>
<line x1="1459.40" y1="1915.40" x2="1459.40" y2="2076.30" stroke="#000" stroke-width="2.9"/>
<line x1="1459.40" y1="2193.20" x2="1459.40" y2="2264.90" stroke="#000" stroke-width="2.9"/>
<line x1="1449.90" y1="1915.40" x2="1468.90" y2="1915.40" stroke="#000" stroke-width="2.9"/>
<line x1="1449.90" y1="2264.90" x2="1468.90" y2="2264.90" stroke="#000" stroke-width="2.9"/>
<rect x="1442.80" y="2076.30" width="33.20" height="116.90" fill="none" stroke="#000" stroke-width="2.9"/>
<line x1="1441.35" y1="2155.70" x2="1477.45" y2="2155.70" stroke="#000" stroke-width="2.9"/>
<g fill="#000"><circle cx="1453.8" cy="1915.4" r="3.8"/><circle cx="1453.8" cy="1951.5" r="3.8"/><circle cx="1464.5" cy="1976.1" r="3.8"/><circle cx="1464.5" cy="1985.3" r="3.8"/><circle cx="1464.5" cy="2048.3" r="3.8"/><circle cx="1464.5" cy="2055.3" r="3.8"/><circle cx="1453.8" cy="2071.8" r="3.8"/><circle cx="1453.8" cy="2079.0" r="3.8"/><circle cx="1464.5" cy="2101.9" r="3.8"/><circle cx="1464.5" cy="2124.2" r="3.8"/><circle cx="1453.8" cy="2129.4" r="3.8"/><circle cx="1464.5" cy="2133.9" r="3.8"/><circle cx="1464.5" cy="2148.4" r="3.8"/><circle cx="1453.8" cy="2151.7" r="3.8"/><circle cx="1464.5" cy="2156.2" r="3.8"/><circle cx="1453.8" cy="2159.5" r="3.8"/><circle cx="1443.7" cy="2172.1" r="3.8"/><circle cx="1464.5" cy="2174.5" r="3.8"/><circle cx="1474.8" cy="2174.5" r="3.8"/><circle cx="1443.7" cy="2192.5" r="3.8"/><circle cx="1474.8" cy="2192.5" r="3.8"/><circle cx="1453.8" cy="2196.0" r="3.8"/><circle cx="1464.5" cy="2195.4" r="3.8"/><circle cx="1453.8" cy="2216.8" r="3.8"/><circle cx="1464.5" cy="2215.4" r="3.8"/><circle cx="1443.7" cy="2241.0" r="3.8"/><circle cx="1464.5" cy="2241.0" r="3.8"/><circle cx="1474.8" cy="2237.7" r="3.8"/><circle cx="1453.8" cy="2264.9" r="3.8"/></g>
<line x1="1150.30" y1="1829.20" x2="1150.30" y2="2295.40" stroke="#000" stroke-width="3.9"/>
<line x1="1148.80" y1="2293.90" x2="1499.20" y2="2293.90" stroke="#000" stroke-width="3.9"/>
<line x1="1136.30" y1="2264.90" x2="1150.30" y2="2264.90" stroke="#000" stroke-width="3.9"/>
<text x="1131.80" y="2274.40" font-size="24" text-anchor="end" stroke="#000" stroke-width="0.48" stroke-linejoin="round">0</text>
<line x1="1136.30" y1="2120.05" x2="1150.30" y2="2120.05" stroke="#000" stroke-width="3.9"/>
<text x="1131.80" y="2129.55" font-size="24" text-anchor="end" stroke="#000" stroke-width="0.48" stroke-linejoin="round">5</text>
<line x1="1136.30" y1="1975.20" x2="1150.30" y2="1975.20" stroke="#000" stroke-width="3.9"/>
<text x="1131.80" y="1984.70" font-size="24" text-anchor="end" stroke="#000" stroke-width="0.48" stroke-linejoin="round">10</text>
<line x1="1136.30" y1="1830.35" x2="1150.30" y2="1830.35" stroke="#000" stroke-width="3.9"/>
<text x="1131.80" y="1839.85" font-size="24" text-anchor="end" stroke="#000" stroke-width="0.48" stroke-linejoin="round">15</text>
<text transform="translate(1244.20 2314.00) rotate(-45)" font-size="27.5" text-anchor="end" stroke="#000" stroke-width="0.55" stroke-linejoin="round">EV</text>
<text transform="translate(1349.20 2314.00) rotate(-45)" font-size="27.5" text-anchor="end" stroke="#000" stroke-width="0.55" stroke-linejoin="round">TRF1</text>
<text transform="translate(1470.20 2314.00) rotate(-45)" font-size="27.5" text-anchor="end" stroke="#000" stroke-width="0.55" stroke-linejoin="round">TRF1-PARPi</text>
<line x1="1189.10" y1="2451.50" x2="1502.60" y2="2451.50" stroke="#000" stroke-width="2.8"/>
<text x="1312.00" y="2483.30" font-size="27.5" stroke="#000" stroke-width="0.55" stroke-linejoin="round">PCS<tspan font-size="17.875" dy="-11">LT</tspan></text>
<text transform="translate(1001.40 2067.70) rotate(-90)" font-size="36.4" text-anchor="middle" stroke="#000" stroke-width="0.73" stroke-linejoin="round"><tspan fill="#008000" stroke="#008000">Lagging</tspan> and Leading</text>
<text transform="translate(1046.40 2069.70) rotate(-90)" font-size="36.4" text-anchor="middle" stroke="#000" stroke-width="0.73" stroke-linejoin="round"><tspan>telomere fragility</tspan></text>
<text transform="translate(1091.40 2064.30) rotate(-90)" font-size="36.4" text-anchor="middle" stroke="#000" stroke-width="0.73" stroke-linejoin="round"><tspan>(% telomeres per metaphase)</tspan></text>
</g>
<defs><filter id="wb" filterUnits="userSpaceOnUse" x="180" y="160" width="170" height="225"><feGaussianBlur stdDeviation="1.5"/></filter><filter id="wb2" filterUnits="userSpaceOnUse" x="180" y="160" width="170" height="225"><feGaussianBlur stdDeviation="2.6"/></filter><filter id="cn" x="0" y="0" width="100%" height="100%" color-interpolation-filters="sRGB"><feTurbulence type="fractalNoise" baseFrequency="0.16" numOctaves="2" seed="8"/><feColorMatrix type="matrix" values="0 0 0 0 0 0 0 0 0 0 0 0 0 0 0 0.32 0 0 0 -0.11"/></filter><filter id="wc" filterUnits="userSpaceOnUse" x="1450" y="205" width="145" height="205"><feGaussianBlur stdDeviation="2.6"/></filter><clipPath id="cc"><rect x="1457.3" y="210.2" width="131.3" height="191.8"/></clipPath></defs>
<path d="M206.3 189.0 C208.4 189.4 214.4 190.0 219.2 191.4 C224.0 192.8 230.1 195.7 235.2 197.2 C240.2 198.7 246.9 200.1 249.3 200.6" fill="none" stroke="#000" stroke-width="9.5" stroke-linecap="round" opacity="1" filter="url(#wb)"/>
<path d="M205.0 189.0 C207.4 189.4 214.2 190.0 219.2 191.4 C224.2 192.8 229.9 195.7 235.2 197.2 C240.4 198.7 248.0 200.1 250.5 200.6" fill="none" stroke="#000" stroke-width="12" stroke-linecap="round" opacity="0.5" filter="url(#wb2)"/>
<path d="M281.2 199.8 C283.2 199.4 287.9 198.3 292.9 197.7 C297.9 197.1 305.7 196.7 311.4 196.2 C317.0 195.7 324.2 195.0 326.7 194.7" fill="none" stroke="#000" stroke-width="9" stroke-linecap="round" opacity="1" filter="url(#wb)"/>
<path d="M280.0 199.8 C282.2 199.4 287.7 198.3 292.9 197.7 C298.1 197.1 305.5 196.7 311.4 196.2 C317.2 195.7 325.2 195.0 328.0 194.7" fill="none" stroke="#000" stroke-width="12" stroke-linecap="round" opacity="0.5" filter="url(#wb2)"/>
<path d="M205.0 266.5 C207.4 266.9 213.7 268.0 219.2 268.8 C224.6 269.5 232.2 270.6 237.6 271.1 C243.0 271.6 249.4 271.6 251.7 271.7" fill="none" stroke="#000" stroke-width="4.6" stroke-linecap="round" opacity="0.85" filter="url(#wb)"/>
<path d="M203.8 266.5 C206.4 266.9 213.5 268.0 219.2 268.8 C224.8 269.5 232.0 270.6 237.6 271.1 C243.2 271.6 250.4 271.6 253.0 271.7" fill="none" stroke="#000" stroke-width="8" stroke-linecap="round" opacity="0.3" filter="url(#wb2)"/>
<path d="M281.2 271.8 C284.2 271.7 293.0 271.5 299.1 271.2 C305.1 270.9 312.1 270.1 317.5 270.0 C322.9 269.9 329.3 270.4 331.6 270.5" fill="none" stroke="#000" stroke-width="6" stroke-linecap="round" opacity="0.95" filter="url(#wb)"/>
<path d="M280.0 271.8 C283.2 271.7 292.8 271.5 299.1 271.2 C305.3 270.9 311.9 270.1 317.5 270.0 C323.1 269.9 330.3 270.4 332.9 270.5" fill="none" stroke="#000" stroke-width="9.5" stroke-linecap="round" opacity="0.4" filter="url(#wb2)"/>
<path d="M202.0 344.9 C202.8 345.0 205.2 345.2 206.9 345.5 C208.5 345.8 211.0 346.5 211.8 346.7" fill="none" stroke="#000" stroke-width="2.5" stroke-linecap="round" opacity="0.7" filter="url(#wb)"/>
<path d="M214.9 348.3 C217.6 348.5 225.8 348.7 231.5 349.4 C237.1 350.1 244.3 351.9 248.7 352.4 C253.1 352.8 256.4 351.9 257.9 351.9" fill="none" stroke="#000" stroke-width="8.5" stroke-linecap="round" opacity="1" filter="url(#wb)"/>
<path d="M213.6 348.3 C216.6 348.5 225.6 348.7 231.5 349.4 C237.3 350.1 244.1 351.9 248.7 352.4 C253.3 352.8 257.4 351.9 259.1 351.9" fill="none" stroke="#000" stroke-width="11.5" stroke-linecap="round" opacity="0.45" filter="url(#wb2)"/>
<path d="M281.2 353.2 C284.2 353.5 293.0 354.5 299.1 354.9 C305.1 355.4 312.5 356.1 317.5 356.0 C322.5 355.9 327.2 354.6 329.2 354.3" fill="none" stroke="#000" stroke-width="9.5" stroke-linecap="round" opacity="1" filter="url(#wb)"/>
<path d="M280.0 353.2 C283.2 353.5 292.8 354.5 299.1 354.9 C305.3 355.4 312.3 356.1 317.5 356.0 C322.7 355.9 328.3 354.6 330.4 354.3" fill="none" stroke="#000" stroke-width="12.5" stroke-linecap="round" opacity="0.45" filter="url(#wb2)"/>
</svg>
</body></html>
